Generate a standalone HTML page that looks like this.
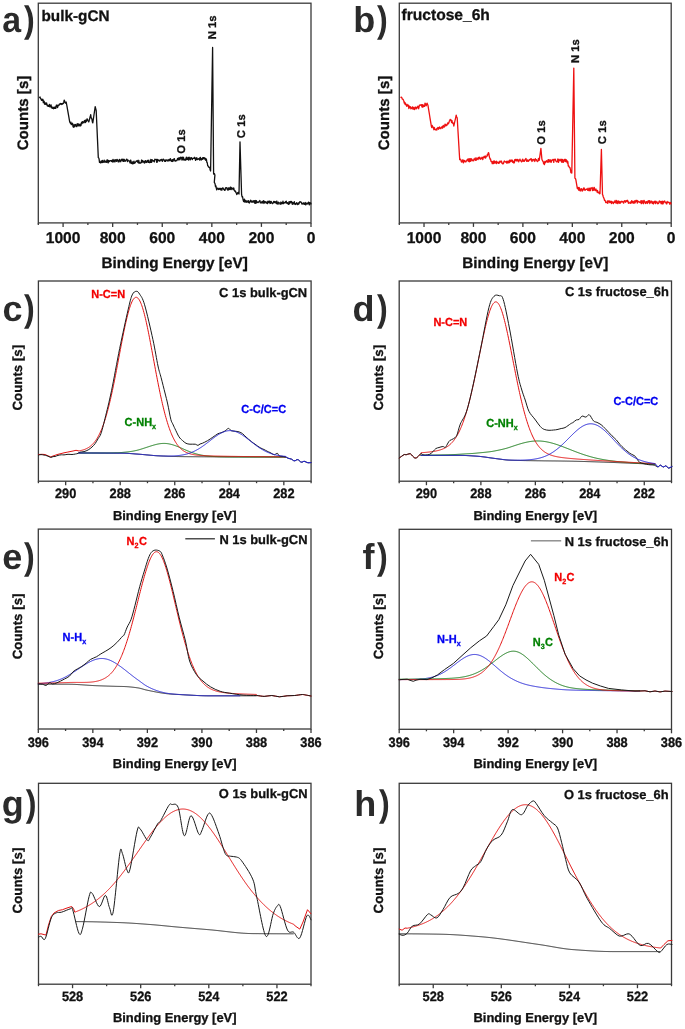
<!DOCTYPE html>
<html><head><meta charset="utf-8"><style>
html,body{margin:0;padding:0;background:#fff;width:685px;height:1029px;overflow:hidden}
svg{display:block;will-change:transform}
</style></head><body>
<svg width="685" height="1029" viewBox="0 0 685 1029" font-family='"Liberation Sans", sans-serif' font-weight="bold" text-rendering="geometricPrecision">
<rect width="685" height="1029" fill="#fff"/>
<rect x="38.3" y="3.2" width="272.7" height="219.70000000000002" fill="none" stroke="#3a3a3a" stroke-width="1.3"/>
<line x1="311.00" y1="222.9" x2="311.00" y2="226.9" stroke="#3a3a3a" stroke-width="1.3"/>
<line x1="286.21" y1="222.9" x2="286.21" y2="224.9" stroke="#3a3a3a" stroke-width="1.3"/>
<line x1="261.42" y1="222.9" x2="261.42" y2="226.9" stroke="#3a3a3a" stroke-width="1.3"/>
<line x1="236.63" y1="222.9" x2="236.63" y2="224.9" stroke="#3a3a3a" stroke-width="1.3"/>
<line x1="211.84" y1="222.9" x2="211.84" y2="226.9" stroke="#3a3a3a" stroke-width="1.3"/>
<line x1="187.05" y1="222.9" x2="187.05" y2="224.9" stroke="#3a3a3a" stroke-width="1.3"/>
<line x1="162.25" y1="222.9" x2="162.25" y2="226.9" stroke="#3a3a3a" stroke-width="1.3"/>
<line x1="137.46" y1="222.9" x2="137.46" y2="224.9" stroke="#3a3a3a" stroke-width="1.3"/>
<line x1="112.67" y1="222.9" x2="112.67" y2="226.9" stroke="#3a3a3a" stroke-width="1.3"/>
<line x1="87.88" y1="222.9" x2="87.88" y2="224.9" stroke="#3a3a3a" stroke-width="1.3"/>
<line x1="63.09" y1="222.9" x2="63.09" y2="226.9" stroke="#3a3a3a" stroke-width="1.3"/>
<line x1="38.30" y1="222.9" x2="38.30" y2="224.9" stroke="#3a3a3a" stroke-width="1.3"/>
<text x="311.00" y="242.8" font-size="15.6" fill="#111" stroke="#111" stroke-width="0.3" text-anchor="middle" >0</text>
<text x="261.42" y="242.8" font-size="15.6" fill="#111" stroke="#111" stroke-width="0.3" text-anchor="middle" >200</text>
<text x="211.84" y="242.8" font-size="15.6" fill="#111" stroke="#111" stroke-width="0.3" text-anchor="middle" >400</text>
<text x="162.25" y="242.8" font-size="15.6" fill="#111" stroke="#111" stroke-width="0.3" text-anchor="middle" >600</text>
<text x="112.67" y="242.8" font-size="15.6" fill="#111" stroke="#111" stroke-width="0.3" text-anchor="middle" >800</text>
<text x="63.09" y="242.8" font-size="15.6" fill="#111" stroke="#111" stroke-width="0.3" text-anchor="middle" >1000</text>
<text x="174.65" y="267.8" font-size="15.3" fill="#111" stroke="#111" stroke-width="0.3" text-anchor="middle" >Binding Energy [eV]</text>
<text transform="translate(27.8,113) rotate(-90)" font-size="15.1" fill="#111" stroke="#111" stroke-width="0.3" text-anchor="middle">Counts [s]</text>
<rect x="399.3" y="3.2" width="271.90000000000003" height="219.70000000000002" fill="none" stroke="#3a3a3a" stroke-width="1.3"/>
<line x1="671.20" y1="222.9" x2="671.20" y2="226.9" stroke="#3a3a3a" stroke-width="1.3"/>
<line x1="646.48" y1="222.9" x2="646.48" y2="224.9" stroke="#3a3a3a" stroke-width="1.3"/>
<line x1="621.76" y1="222.9" x2="621.76" y2="226.9" stroke="#3a3a3a" stroke-width="1.3"/>
<line x1="597.05" y1="222.9" x2="597.05" y2="224.9" stroke="#3a3a3a" stroke-width="1.3"/>
<line x1="572.33" y1="222.9" x2="572.33" y2="226.9" stroke="#3a3a3a" stroke-width="1.3"/>
<line x1="547.61" y1="222.9" x2="547.61" y2="224.9" stroke="#3a3a3a" stroke-width="1.3"/>
<line x1="522.89" y1="222.9" x2="522.89" y2="226.9" stroke="#3a3a3a" stroke-width="1.3"/>
<line x1="498.17" y1="222.9" x2="498.17" y2="224.9" stroke="#3a3a3a" stroke-width="1.3"/>
<line x1="473.45" y1="222.9" x2="473.45" y2="226.9" stroke="#3a3a3a" stroke-width="1.3"/>
<line x1="448.74" y1="222.9" x2="448.74" y2="224.9" stroke="#3a3a3a" stroke-width="1.3"/>
<line x1="424.02" y1="222.9" x2="424.02" y2="226.9" stroke="#3a3a3a" stroke-width="1.3"/>
<line x1="399.30" y1="222.9" x2="399.30" y2="224.9" stroke="#3a3a3a" stroke-width="1.3"/>
<text x="671.20" y="242.8" font-size="15.6" fill="#111" stroke="#111" stroke-width="0.3" text-anchor="middle" >0</text>
<text x="621.76" y="242.8" font-size="15.6" fill="#111" stroke="#111" stroke-width="0.3" text-anchor="middle" >200</text>
<text x="572.33" y="242.8" font-size="15.6" fill="#111" stroke="#111" stroke-width="0.3" text-anchor="middle" >400</text>
<text x="522.89" y="242.8" font-size="15.6" fill="#111" stroke="#111" stroke-width="0.3" text-anchor="middle" >600</text>
<text x="473.45" y="242.8" font-size="15.6" fill="#111" stroke="#111" stroke-width="0.3" text-anchor="middle" >800</text>
<text x="424.02" y="242.8" font-size="15.6" fill="#111" stroke="#111" stroke-width="0.3" text-anchor="middle" >1000</text>
<text x="535.25" y="267.8" font-size="15.3" fill="#111" stroke="#111" stroke-width="0.3" text-anchor="middle" >Binding Energy [eV]</text>
<text transform="translate(388.8,113) rotate(-90)" font-size="15.1" fill="#111" stroke="#111" stroke-width="0.3" text-anchor="middle">Counts [s]</text>
<text transform="translate(2.26,32.2) scale(0.94,1)" font-size="36" fill="#2b2b2b">a</text>
<text transform="translate(23.90,32.2) scale(0.87,1)" font-size="37" fill="#2b2b2b">)</text>
<text transform="translate(353.30,32.2) scale(1.0,1)" font-size="36" fill="#2b2b2b">b</text>
<text transform="translate(376.90,32.2) scale(0.87,1)" font-size="37" fill="#2b2b2b">)</text>
<text x="41.5" y="20.5" font-size="15.3" fill="#111" stroke="#111" stroke-width="0.3" text-anchor="start" >bulk-gCN</text>
<text x="401.5" y="20.2" font-size="15.6" fill="#111" stroke="#111" stroke-width="0.3" text-anchor="start" >fructose_6h</text>
<text transform="translate(216.3,27.3) rotate(-90)" font-size="11.3" fill="#111" stroke="#111" stroke-width="0.3" text-anchor="middle">N 1s</text>
<text transform="translate(185.3,141.5) rotate(-90)" font-size="11.3" fill="#111" stroke="#111" stroke-width="0.3" text-anchor="middle">O 1s</text>
<text transform="translate(245,126.2) rotate(-90)" font-size="11.3" fill="#111" stroke="#111" stroke-width="0.3" text-anchor="middle">C 1s</text>
<text transform="translate(545.3,132.4) rotate(-90)" font-size="11.3" fill="#111" stroke="#111" stroke-width="0.3" text-anchor="middle">O 1s</text>
<text transform="translate(578.9,51.1) rotate(-90)" font-size="11.3" fill="#111" stroke="#111" stroke-width="0.3" text-anchor="middle">N 1s</text>
<text transform="translate(606.1,132.2) rotate(-90)" font-size="11.3" fill="#111" stroke="#111" stroke-width="0.3" text-anchor="middle">C 1s</text>
<path d="M39.60,97.40 L40.02,97.01 L40.43,98.55 L40.85,98.46 L41.27,99.75 L41.68,100.33 L42.10,100.40 L42.51,99.26 L42.91,99.42 L43.32,102.57 L43.73,100.94 L44.13,101.20 L44.54,104.13 L44.95,102.68 L45.35,104.26 L45.76,103.38 L46.17,104.27 L46.57,102.95 L46.98,104.94 L47.39,106.07 L47.79,105.24 L48.20,105.50 L48.61,106.46 L49.01,106.36 L49.42,104.44 L49.83,106.94 L50.23,106.51 L50.64,105.66 L51.05,104.89 L51.45,107.86 L51.86,106.67 L52.27,107.64 L52.67,108.33 L53.08,107.91 L53.49,108.75 L53.89,107.10 L54.30,107.60 L54.71,108.41 L55.12,106.99 L55.53,108.45 L55.94,108.05 L56.35,105.18 L56.76,105.10 L57.17,105.17 L57.58,107.50 L57.99,105.49 L58.40,105.50 L58.81,105.63 L59.23,104.22 L59.64,104.62 L60.05,103.91 L60.47,103.49 L60.88,103.99 L61.29,103.69 L61.71,104.47 L62.12,103.42 L62.53,103.96 L62.95,103.41 L63.36,103.57 L63.77,102.18 L64.19,100.15 L64.60,101.00 L65.00,102.48 L65.40,103.08 L65.80,103.13 L66.20,102.00 L66.64,104.49 L67.08,106.97 L67.51,109.46 L67.95,111.95 L68.39,114.44 L68.83,116.93 L69.26,119.41 L69.70,121.90 L70.11,122.54 L70.52,123.45 L70.93,122.15 L71.34,124.67 L71.75,124.20 L72.16,123.63 L72.57,123.29 L72.98,126.38 L73.39,127.26 L73.80,126.00 L74.22,124.52 L74.65,126.86 L75.08,125.45 L75.50,124.48 L75.92,124.88 L76.35,126.41 L76.78,126.68 L77.20,123.78 L77.62,125.64 L78.05,123.62 L78.48,125.83 L78.90,125.00 L79.31,124.22 L79.71,125.88 L80.12,126.01 L80.53,124.19 L80.93,125.66 L81.34,123.11 L81.75,122.12 L82.15,123.69 L82.56,121.55 L82.97,121.90 L83.37,122.41 L83.78,122.90 L84.19,121.14 L84.59,120.55 L85.00,121.90 L85.40,122.53 L85.80,120.03 L86.20,121.60 L86.60,120.77 L87.00,118.80 L87.42,119.16 L87.85,120.22 L88.28,121.19 L88.70,121.90 L89.10,120.95 L89.50,119.35 L89.90,117.78 L90.30,116.55 L90.70,114.70 L91.12,117.84 L91.54,118.00 L91.96,119.39 L92.38,122.01 L92.80,122.90 L93.20,120.18 L93.60,117.47 L94.00,114.75 L94.40,112.03 L94.80,109.32 L95.20,106.60 L95.70,108.65 L96.20,110.70 L96.62,120.10 L97.04,129.50 L97.46,138.90 L97.88,148.30 L98.30,157.70 L98.70,157.83 L99.10,159.06 L99.50,162.38 L99.90,161.85 L100.30,162.80 L100.74,162.81 L101.19,160.82 L101.63,162.04 L102.07,162.44 L102.51,160.38 L102.96,162.25 L103.40,161.70 L103.80,162.12 L104.20,160.15 L104.61,162.05 L105.01,161.47 L105.41,162.17 L105.81,161.03 L106.21,162.20 L106.61,162.28 L107.02,159.82 L107.42,159.92 L107.82,161.98 L108.22,162.93 L108.62,160.48 L109.03,161.15 L109.43,161.59 L109.83,160.63 L110.23,160.75 L110.63,160.55 L111.03,160.71 L111.44,161.45 L111.84,160.42 L112.24,160.65 L112.64,161.97 L113.04,159.41 L113.44,161.22 L113.85,161.76 L114.25,160.28 L114.65,159.96 L115.05,161.90 L115.45,159.95 L115.86,159.75 L116.26,160.57 L116.66,161.43 L117.06,159.37 L117.46,160.09 L117.86,160.11 L118.27,161.78 L118.67,160.40 L119.07,161.79 L119.47,159.43 L119.87,159.97 L120.28,161.01 L120.68,161.78 L121.08,160.28 L121.48,159.48 L121.88,159.10 L122.28,160.46 L122.69,159.28 L123.09,161.34 L123.49,161.42 L123.89,159.17 L124.29,159.46 L124.69,161.23 L125.10,160.64 L125.50,161.17 L125.90,160.10 L126.31,159.71 L126.71,159.12 L127.12,159.81 L127.53,161.66 L127.93,160.02 L128.34,160.42 L128.75,160.80 L129.15,160.95 L129.56,161.05 L129.97,162.93 L130.37,160.47 L130.78,160.10 L131.19,163.43 L131.59,163.35 L132.00,162.20 L132.40,163.83 L132.80,161.93 L133.20,163.67 L133.60,163.57 L134.00,161.15 L134.40,162.90 L134.80,163.19 L135.20,162.58 L135.60,162.07 L136.00,161.27 L136.40,161.42 L136.80,161.01 L137.20,160.45 L137.60,162.20 L138.00,161.15 L138.40,162.91 L138.80,160.28 L139.20,163.18 L139.60,162.45 L140.00,163.21 L140.40,163.09 L140.80,163.08 L141.20,161.96 L141.60,160.02 L142.00,162.49 L142.40,160.52 L142.80,160.93 L143.20,162.15 L143.60,161.65 L144.00,161.25 L144.40,163.02 L144.80,161.89 L145.20,160.94 L145.60,160.62 L146.00,162.67 L146.40,161.34 L146.80,162.36 L147.20,160.87 L147.60,160.32 L148.00,161.45 L148.40,162.39 L148.80,160.17 L149.20,162.26 L149.60,162.68 L150.00,162.26 L150.40,162.30 L150.80,159.50 L151.20,161.59 L151.60,162.37 L152.00,159.58 L152.40,160.31 L152.80,160.28 L153.20,161.14 L153.60,160.76 L154.00,160.91 L154.40,161.92 L154.80,159.27 L155.20,159.43 L155.60,159.65 L156.00,159.62 L156.40,159.41 L156.80,162.47 L157.20,162.04 L157.60,159.40 L158.00,160.79 L158.40,160.14 L158.80,160.11 L159.20,160.22 L159.60,161.20 L160.00,160.97 L160.40,160.18 L160.80,159.58 L161.20,160.03 L161.60,159.31 L162.00,160.76 L162.40,161.28 L162.80,160.12 L163.20,159.08 L163.60,159.39 L164.00,160.03 L164.40,160.79 L164.80,161.38 L165.20,159.99 L165.60,161.40 L166.00,160.77 L166.40,160.10 L166.80,159.87 L167.20,160.27 L167.60,160.96 L168.00,159.97 L168.40,160.88 L168.80,160.07 L169.20,159.31 L169.60,160.28 L170.00,160.80 L170.40,158.66 L170.80,159.84 L171.20,159.82 L171.60,161.34 L172.00,161.51 L172.40,159.58 L172.80,161.34 L173.20,160.95 L173.60,159.13 L174.00,159.80 L174.40,158.61 L174.80,160.94 L175.20,160.40 L175.60,161.15 L176.00,160.80 L176.40,160.36 L176.80,160.56 L177.20,159.96 L177.60,158.37 L178.00,159.70 L178.46,159.80 L178.92,157.62 L179.38,157.89 L179.84,159.83 L180.30,158.70 L180.70,157.15 L181.10,157.31 L181.50,157.34 L181.91,159.99 L182.31,157.61 L182.71,157.08 L183.11,159.86 L183.51,157.41 L183.91,159.87 L184.32,159.29 L184.72,159.84 L185.12,160.24 L185.52,158.97 L185.92,159.72 L186.32,157.12 L186.73,159.61 L187.13,158.74 L187.53,159.43 L187.93,157.36 L188.33,159.55 L188.73,160.18 L189.13,157.21 L189.54,158.10 L189.94,158.92 L190.34,159.82 L190.74,157.82 L191.14,157.61 L191.54,157.85 L191.95,159.09 L192.35,159.56 L192.75,158.34 L193.15,158.25 L193.55,158.35 L193.95,158.19 L194.35,158.42 L194.76,157.28 L195.16,158.70 L195.56,160.31 L195.96,158.40 L196.36,159.54 L196.76,157.55 L197.17,159.35 L197.57,159.57 L197.97,159.29 L198.37,158.76 L198.77,158.64 L199.17,159.19 L199.57,160.05 L199.98,157.51 L200.38,157.33 L200.78,159.54 L201.18,160.12 L201.58,158.76 L201.98,158.51 L202.39,159.44 L202.79,157.63 L203.19,157.91 L203.59,157.68 L203.99,158.99 L204.39,158.07 L204.80,157.79 L205.20,159.35 L205.60,160.24 L206.00,158.70 L206.42,159.45 L206.84,162.28 L207.26,162.72 L207.68,165.66 L208.10,165.90 L208.52,167.04 L208.93,166.81 L209.35,167.49 L209.77,167.68 L210.18,170.08 L210.60,171.00 L211.00,146.30 L211.40,121.60 L211.80,96.90 L212.20,72.20 L212.60,47.50 L213.10,110.80 L213.60,174.10 L214.03,174.03 L214.47,173.65 L214.90,175.10 L214.30,182.30 L214.70,182.99 L215.10,184.01 L215.50,186.71 L215.90,185.73 L216.30,188.10 L216.72,189.82 L217.15,188.12 L217.57,188.58 L217.99,188.18 L218.42,189.47 L218.84,189.48 L219.26,188.62 L219.69,188.41 L220.11,189.27 L220.54,189.78 L220.96,188.28 L221.38,189.46 L221.81,190.28 L222.23,188.65 L222.65,187.89 L223.08,187.95 L223.50,188.90 L223.90,189.62 L224.31,189.46 L224.71,190.41 L225.12,190.03 L225.52,187.94 L225.93,187.74 L226.33,187.96 L226.73,187.70 L227.14,189.44 L227.54,189.95 L227.95,190.07 L228.35,187.86 L228.76,189.92 L229.16,188.02 L229.57,188.38 L229.97,189.40 L230.37,187.20 L230.78,187.20 L231.18,189.70 L231.59,187.84 L231.99,188.05 L232.40,188.79 L232.80,188.50 L233.24,189.68 L233.69,187.99 L234.13,189.70 L234.57,190.63 L235.01,191.38 L235.46,191.03 L235.90,192.60 L236.34,193.10 L236.79,194.58 L237.23,192.87 L237.67,193.61 L238.11,192.38 L238.56,193.12 L239.00,194.10 L239.50,167.95 L240.00,141.80 L240.53,159.43 L241.07,177.07 L241.60,194.70 L242.10,196.96 L242.60,196.78 L243.10,199.80 L243.54,201.33 L243.99,201.62 L244.43,199.07 L244.87,202.16 L245.31,200.44 L245.76,202.01 L246.20,201.30 L246.60,202.20 L247.01,200.65 L247.41,201.96 L247.81,201.91 L248.22,202.45 L248.62,200.63 L249.02,202.31 L249.43,203.04 L249.83,202.08 L250.24,201.64 L250.64,200.22 L251.04,201.54 L251.45,201.08 L251.85,202.34 L252.25,202.23 L252.66,201.87 L253.06,200.58 L253.46,202.18 L253.87,202.15 L254.27,200.64 L254.68,203.08 L255.08,202.30 L255.48,200.51 L255.89,203.28 L256.29,200.62 L256.69,201.28 L257.10,202.63 L257.50,202.23 L257.90,202.11 L258.31,202.44 L258.71,201.82 L259.11,201.35 L259.52,200.91 L259.92,200.56 L260.32,202.78 L260.73,202.94 L261.13,202.24 L261.54,202.93 L261.94,201.66 L262.34,201.36 L262.75,201.78 L263.15,203.47 L263.55,200.66 L263.96,202.26 L264.36,201.40 L264.76,203.20 L265.17,201.81 L265.57,201.76 L265.98,202.02 L266.38,202.51 L266.78,203.32 L267.19,201.91 L267.59,203.62 L267.99,201.14 L268.40,201.70 L268.80,202.50 L269.20,201.15 L269.61,201.20 L270.01,203.47 L270.42,203.30 L270.82,201.46 L271.23,201.48 L271.63,202.26 L272.04,203.38 L272.44,203.63 L272.85,203.41 L273.25,202.88 L273.66,201.38 L274.06,202.24 L274.47,201.55 L274.87,202.69 L275.28,202.84 L275.68,201.60 L276.09,201.77 L276.49,203.58 L276.90,201.03 L277.30,203.67 L277.71,203.97 L278.11,204.18 L278.52,202.26 L278.92,202.84 L279.33,202.95 L279.73,203.13 L280.14,204.31 L280.54,203.32 L280.95,202.01 L281.35,203.93 L281.76,202.66 L282.16,203.06 L282.57,203.49 L282.97,201.04 L283.38,203.66 L283.78,203.29 L284.19,202.72 L284.59,202.84 L285.00,202.63 L285.40,201.73 L285.81,202.88 L286.21,201.21 L286.62,202.79 L287.02,203.29 L287.43,202.61 L287.83,203.03 L288.24,204.38 L288.64,204.15 L289.05,201.59 L289.45,203.83 L289.86,203.26 L290.26,201.32 L290.67,202.38 L291.07,201.95 L291.48,201.43 L291.88,203.01 L292.29,204.34 L292.69,202.29 L293.10,204.15 L293.50,202.90 L293.91,203.59 L294.31,201.70 L294.72,204.19 L295.13,203.34 L295.53,204.47 L295.94,203.77 L296.35,203.88 L296.76,202.55 L297.16,204.15 L297.57,204.60 L297.98,204.38 L298.38,202.96 L298.79,204.08 L299.20,203.17 L299.60,201.92 L300.01,201.72 L300.42,201.86 L300.83,202.30 L301.23,202.19 L301.64,203.36 L302.05,204.07 L302.45,203.54 L302.86,203.17 L303.27,203.97 L303.67,202.82 L304.08,203.38 L304.49,204.40 L304.90,203.22 L305.30,202.49 L305.71,204.96 L306.12,204.37 L306.52,203.19 L306.93,203.23 L307.34,203.79 L307.74,204.04 L308.15,202.80 L308.56,202.07 L308.97,202.79 L309.37,204.77 L309.78,202.62 L310.19,203.72 L310.59,202.84 L311.00,203.90" fill="none" stroke="#111" stroke-width="1.3" stroke-linejoin="round" stroke-linecap="round" />
<path d="M401.00,97.40 L401.41,97.12 L401.82,97.70 L402.23,99.20 L402.64,99.11 L403.05,99.34 L403.46,100.33 L403.87,101.24 L404.28,103.05 L404.69,102.29 L405.10,104.50 L405.51,103.15 L405.93,104.87 L406.34,105.01 L406.75,106.29 L407.17,104.34 L407.58,105.81 L407.99,106.06 L408.41,105.08 L408.82,108.54 L409.23,106.28 L409.65,106.13 L410.06,107.69 L410.47,106.91 L410.89,108.74 L411.30,108.60 L411.71,108.01 L412.11,107.19 L412.52,106.88 L412.93,109.11 L413.33,107.50 L413.74,109.18 L414.15,108.02 L414.55,109.54 L414.96,107.32 L415.37,107.08 L415.77,107.07 L416.18,108.87 L416.59,108.17 L416.99,107.14 L417.40,107.60 L417.80,106.07 L418.20,107.92 L418.60,108.74 L419.00,107.30 L419.40,105.15 L419.80,105.09 L420.20,105.14 L420.60,105.26 L421.00,104.65 L421.40,104.56 L421.80,106.45 L422.20,107.13 L422.60,104.60 L423.00,107.08 L423.40,105.24 L423.80,106.20 L424.20,106.43 L424.60,106.36 L425.00,103.13 L425.40,103.89 L425.80,104.77 L426.20,105.77 L426.60,104.10 L427.07,103.17 L427.53,104.33 L428.00,105.50 L428.41,108.06 L428.82,110.62 L429.24,113.19 L429.65,115.75 L430.06,118.31 L430.48,120.88 L430.89,123.44 L431.30,126.00 L431.74,127.56 L432.18,125.44 L432.61,126.75 L433.05,126.94 L433.49,128.49 L433.93,129.71 L434.36,127.52 L434.80,129.00 L435.20,129.74 L435.61,129.64 L436.01,129.90 L436.42,128.86 L436.82,130.04 L437.23,128.05 L437.63,128.15 L438.04,127.44 L438.44,129.23 L438.85,128.13 L439.25,127.34 L439.66,126.92 L440.06,128.71 L440.47,128.24 L440.88,128.52 L441.28,127.34 L441.69,127.60 L442.09,126.38 L442.50,128.20 L442.90,127.40 L443.32,125.40 L443.75,126.54 L444.17,127.15 L444.60,126.50 L445.02,124.16 L445.45,124.26 L445.88,125.94 L446.30,124.88 L446.73,125.31 L447.15,124.92 L447.57,123.10 L448.00,122.90 L448.44,123.82 L448.89,122.83 L449.33,121.05 L449.77,120.74 L450.21,119.30 L450.66,119.99 L451.10,119.90 L451.55,122.47 L452.00,120.59 L452.45,123.18 L452.90,122.64 L453.35,123.56 L453.80,126.00 L454.28,123.84 L454.76,121.68 L455.24,119.52 L455.72,117.36 L456.20,115.20 L456.70,117.01 L457.20,117.80 L457.62,124.78 L458.03,131.77 L458.45,138.75 L458.87,145.73 L459.28,152.72 L459.70,159.70 L460.10,159.32 L460.50,159.17 L460.90,160.02 L461.30,161.70 L461.73,162.11 L462.15,161.82 L462.57,159.79 L463.00,160.45 L463.43,162.87 L463.85,160.25 L464.27,161.33 L464.70,160.76 L465.12,161.91 L465.55,161.22 L465.97,161.76 L466.40,160.70 L466.80,160.75 L467.20,159.51 L467.60,159.41 L468.00,159.01 L468.40,161.48 L468.80,158.99 L469.20,158.63 L469.60,161.76 L470.00,159.09 L470.40,161.38 L470.80,158.57 L471.20,159.80 L471.60,158.91 L472.00,160.91 L472.40,160.11 L472.80,160.14 L473.20,160.48 L473.60,160.79 L474.00,158.94 L474.40,159.75 L474.80,159.15 L475.20,157.94 L475.60,160.34 L476.00,159.46 L476.40,160.14 L476.80,158.00 L477.20,159.07 L477.60,158.75 L478.00,159.58 L478.40,157.31 L478.80,158.16 L479.20,158.56 L479.60,157.09 L480.00,158.66 L480.40,159.22 L480.80,158.09 L481.20,158.79 L481.60,158.58 L482.00,157.18 L482.40,157.58 L482.80,159.71 L483.20,157.40 L483.60,157.66 L484.00,156.42 L484.40,156.81 L484.80,157.70 L485.21,156.00 L485.62,158.03 L486.03,156.77 L486.44,156.71 L486.86,156.52 L487.27,154.68 L487.68,155.20 L488.09,153.29 L488.50,152.60 L488.91,153.62 L489.33,156.72 L489.74,157.87 L490.16,159.33 L490.57,159.05 L490.99,161.33 L491.40,161.70 L491.81,161.46 L492.21,163.55 L492.62,163.36 L493.03,161.31 L493.44,163.57 L493.84,161.10 L494.25,160.88 L494.66,163.08 L495.06,161.71 L495.47,162.55 L495.88,163.04 L496.29,161.08 L496.69,163.56 L497.10,162.80 L497.50,162.00 L497.90,162.49 L498.30,162.16 L498.70,163.47 L499.11,163.45 L499.51,161.85 L499.91,161.19 L500.31,161.82 L500.71,162.16 L501.11,160.99 L501.51,161.21 L501.91,163.24 L502.32,162.99 L502.72,163.89 L503.12,163.86 L503.52,163.47 L503.92,161.72 L504.32,160.97 L504.72,161.44 L505.12,161.92 L505.53,162.09 L505.93,162.11 L506.33,161.45 L506.73,163.09 L507.13,161.12 L507.53,161.69 L507.93,163.09 L508.33,162.79 L508.74,161.01 L509.14,160.79 L509.54,162.67 L509.94,159.92 L510.34,160.30 L510.74,161.62 L511.14,161.60 L511.54,160.30 L511.95,159.87 L512.35,160.36 L512.75,162.24 L513.15,161.17 L513.55,162.88 L513.95,162.18 L514.35,162.80 L514.75,159.56 L515.15,160.03 L515.56,159.41 L515.96,160.79 L516.36,160.44 L516.76,159.42 L517.16,161.07 L517.56,159.49 L517.96,160.19 L518.36,159.94 L518.77,161.79 L519.17,160.44 L519.57,159.87 L519.97,159.09 L520.37,160.37 L520.77,161.00 L521.17,161.13 L521.57,161.90 L521.98,161.51 L522.38,159.56 L522.78,159.14 L523.18,161.22 L523.58,161.29 L523.98,160.30 L524.38,161.35 L524.78,160.37 L525.19,159.40 L525.59,158.99 L525.99,158.44 L526.39,160.53 L526.79,161.35 L527.19,161.35 L527.59,159.82 L527.99,160.45 L528.40,161.31 L528.80,160.88 L529.20,160.12 L529.60,159.45 L530.00,159.70 L530.40,159.78 L530.81,158.62 L531.21,158.67 L531.62,160.39 L532.02,161.46 L532.43,159.96 L532.83,159.51 L533.23,159.34 L533.64,159.70 L534.04,160.90 L534.45,159.73 L534.85,161.47 L535.26,158.75 L535.66,159.31 L536.07,160.04 L536.47,159.68 L536.87,161.19 L537.28,161.13 L537.68,161.50 L538.09,160.43 L538.49,158.47 L538.90,160.34 L539.30,160.10 L539.70,157.18 L540.10,154.25 L540.50,151.32 L540.90,148.40 L541.40,153.85 L541.90,159.30 L542.32,160.37 L542.74,161.06 L543.16,161.25 L543.58,163.61 L544.00,163.80 L544.42,164.68 L544.83,161.42 L545.25,162.82 L545.67,161.30 L546.08,161.27 L546.50,160.70 L546.90,162.05 L547.30,162.27 L547.71,161.19 L548.11,159.66 L548.51,162.13 L548.91,159.62 L549.31,160.30 L549.72,161.82 L550.12,160.08 L550.52,159.92 L550.92,162.23 L551.32,162.21 L551.73,160.08 L552.13,160.33 L552.53,159.96 L552.93,159.45 L553.33,159.85 L553.74,162.33 L554.14,159.27 L554.54,159.78 L554.94,159.68 L555.34,159.27 L555.75,160.79 L556.15,161.53 L556.55,161.85 L556.95,161.15 L557.35,161.78 L557.75,159.02 L558.16,159.96 L558.56,162.27 L558.96,159.24 L559.36,159.91 L559.76,160.64 L560.17,159.91 L560.57,160.86 L560.97,159.16 L561.37,159.80 L561.77,162.26 L562.18,159.49 L562.58,162.08 L562.98,159.60 L563.38,162.38 L563.78,161.29 L564.19,161.20 L564.59,159.48 L564.99,159.19 L565.39,161.58 L565.79,159.60 L566.20,159.64 L566.60,161.80 L567.00,160.70 L567.42,163.21 L567.84,161.65 L568.26,165.99 L568.68,165.78 L569.10,166.90 L569.55,167.53 L570.00,167.63 L570.45,169.63 L570.90,172.69 L571.35,171.32 L571.80,173.10 L572.20,152.10 L572.60,131.10 L573.00,110.10 L573.40,89.10 L573.80,68.10 L574.35,123.15 L574.90,178.20 L575.37,178.31 L575.83,179.73 L576.30,182.30 L576.80,185.40 L577.30,188.50 L577.72,187.33 L578.14,188.20 L578.56,190.21 L578.98,187.46 L579.40,187.95 L579.82,190.59 L580.24,190.89 L580.66,190.93 L581.08,188.54 L581.50,189.50 L581.91,188.99 L582.32,191.00 L582.73,189.40 L583.15,190.12 L583.56,188.78 L583.97,187.77 L584.38,188.85 L584.79,190.21 L585.20,190.30 L585.61,189.56 L586.03,189.19 L586.44,189.42 L586.85,189.08 L587.26,189.38 L587.67,190.37 L588.08,188.21 L588.49,189.53 L588.91,190.66 L589.32,190.36 L589.73,188.07 L590.14,190.72 L590.55,190.28 L590.96,187.98 L591.37,188.29 L591.79,188.06 L592.20,187.53 L592.61,190.66 L593.02,188.71 L593.43,190.27 L593.84,187.68 L594.25,187.32 L594.67,190.21 L595.08,189.93 L595.49,190.59 L595.90,188.90 L596.30,190.27 L596.70,190.47 L597.10,192.02 L597.50,190.47 L597.90,192.60 L598.32,192.94 L598.74,192.80 L599.16,192.00 L599.58,193.74 L600.00,193.60 L600.47,178.87 L600.93,164.13 L601.40,149.40 L601.95,172.05 L602.50,194.70 L602.90,195.24 L603.30,197.00 L603.70,197.69 L604.10,198.64 L604.50,200.40 L604.91,200.09 L605.32,201.08 L605.73,202.53 L606.14,202.55 L606.56,202.46 L606.97,202.54 L607.38,200.84 L607.79,203.35 L608.20,201.90 L608.60,201.12 L609.01,200.62 L609.41,201.90 L609.82,202.69 L610.22,201.36 L610.63,202.39 L611.03,201.16 L611.44,203.49 L611.84,201.74 L612.25,201.82 L612.65,202.01 L613.06,203.17 L613.46,203.55 L613.87,202.00 L614.27,201.70 L614.68,202.30 L615.08,200.44 L615.49,201.65 L615.89,203.08 L616.30,202.84 L616.70,200.40 L617.11,203.11 L617.51,201.51 L617.92,203.54 L618.32,201.45 L618.73,200.93 L619.13,202.07 L619.54,203.21 L619.94,201.67 L620.35,203.15 L620.75,202.62 L621.16,201.43 L621.56,201.22 L621.97,201.92 L622.37,201.56 L622.78,201.47 L623.18,202.42 L623.59,203.18 L623.99,202.19 L624.40,200.70 L624.80,200.95 L625.21,201.46 L625.61,202.29 L626.02,200.67 L626.42,200.48 L626.83,201.29 L627.23,201.16 L627.64,200.30 L628.04,202.03 L628.45,203.33 L628.85,202.02 L629.26,202.71 L629.66,203.02 L630.07,203.05 L630.47,203.30 L630.88,201.70 L631.28,202.52 L631.69,200.61 L632.09,203.19 L632.50,201.49 L632.90,201.90 L633.30,201.82 L633.70,203.24 L634.11,201.20 L634.51,200.87 L634.91,203.04 L635.31,202.28 L635.72,200.54 L636.12,200.35 L636.52,201.46 L636.92,200.30 L637.33,203.11 L637.73,200.91 L638.13,201.23 L638.53,201.62 L638.94,202.05 L639.34,201.79 L639.74,202.46 L640.14,202.58 L640.55,201.82 L640.95,200.68 L641.35,203.68 L641.75,202.71 L642.16,200.65 L642.56,201.88 L642.96,202.95 L643.36,203.76 L643.77,200.62 L644.17,200.44 L644.57,202.04 L644.97,201.85 L645.38,203.47 L645.78,203.24 L646.18,201.57 L646.58,201.87 L646.99,202.44 L647.39,203.47 L647.79,201.16 L648.19,201.81 L648.60,200.79 L649.00,202.67 L649.40,200.59 L649.80,203.69 L650.20,202.30 L650.61,202.47 L651.01,200.82 L651.41,201.33 L651.81,202.14 L652.22,203.47 L652.62,202.39 L653.02,201.53 L653.42,203.91 L653.83,202.83 L654.23,202.38 L654.63,201.28 L655.03,201.62 L655.44,203.67 L655.84,201.07 L656.24,202.43 L656.64,202.74 L657.05,201.85 L657.45,203.26 L657.85,203.75 L658.25,203.58 L658.66,203.18 L659.06,201.37 L659.46,200.89 L659.86,202.16 L660.27,201.76 L660.67,201.36 L661.07,203.67 L661.47,201.45 L661.88,203.52 L662.28,203.92 L662.68,201.15 L663.08,203.85 L663.49,202.11 L663.89,201.48 L664.29,201.40 L664.69,200.91 L665.10,202.48 L665.50,202.10 L665.90,202.50 L666.32,203.81 L666.75,203.87 L667.17,201.34 L667.60,202.63 L668.02,202.71 L668.45,202.10 L668.88,202.47 L669.30,202.63 L669.73,204.21 L670.15,203.12 L670.58,202.46 L671.00,203.90" fill="none" stroke="#ee1111" stroke-width="1.3" stroke-linejoin="round" stroke-linecap="round" />
<rect x="38.4" y="281" width="272.70000000000005" height="200.2" fill="none" stroke="#3a3a3a" stroke-width="1.3"/>
<line x1="311.10" y1="481.2" x2="311.10" y2="483.2" stroke="#3a3a3a" stroke-width="1.3"/>
<line x1="283.83" y1="481.2" x2="283.83" y2="485.2" stroke="#3a3a3a" stroke-width="1.3"/>
<line x1="256.56" y1="481.2" x2="256.56" y2="483.2" stroke="#3a3a3a" stroke-width="1.3"/>
<line x1="229.29" y1="481.2" x2="229.29" y2="485.2" stroke="#3a3a3a" stroke-width="1.3"/>
<line x1="202.02" y1="481.2" x2="202.02" y2="483.2" stroke="#3a3a3a" stroke-width="1.3"/>
<line x1="174.75" y1="481.2" x2="174.75" y2="485.2" stroke="#3a3a3a" stroke-width="1.3"/>
<line x1="147.48" y1="481.2" x2="147.48" y2="483.2" stroke="#3a3a3a" stroke-width="1.3"/>
<line x1="120.21" y1="481.2" x2="120.21" y2="485.2" stroke="#3a3a3a" stroke-width="1.3"/>
<line x1="92.94" y1="481.2" x2="92.94" y2="483.2" stroke="#3a3a3a" stroke-width="1.3"/>
<line x1="65.67" y1="481.2" x2="65.67" y2="485.2" stroke="#3a3a3a" stroke-width="1.3"/>
<line x1="38.40" y1="481.2" x2="38.40" y2="483.2" stroke="#3a3a3a" stroke-width="1.3"/>
<text transform="translate(283.83,498.3) scale(0.94,1)" font-size="13.6" fill="#111" stroke="#111" stroke-width="0.3" text-anchor="middle" >282</text>
<text transform="translate(229.29,498.3) scale(0.94,1)" font-size="13.6" fill="#111" stroke="#111" stroke-width="0.3" text-anchor="middle" >284</text>
<text transform="translate(174.75,498.3) scale(0.94,1)" font-size="13.6" fill="#111" stroke="#111" stroke-width="0.3" text-anchor="middle" >286</text>
<text transform="translate(120.21,498.3) scale(0.94,1)" font-size="13.6" fill="#111" stroke="#111" stroke-width="0.3" text-anchor="middle" >288</text>
<text transform="translate(65.67,498.3) scale(0.94,1)" font-size="13.6" fill="#111" stroke="#111" stroke-width="0.3" text-anchor="middle" >290</text>
<text x="174.75" y="519.5" font-size="12.95" fill="#111" stroke="#111" stroke-width="0.3" text-anchor="middle" >Binding Energy [eV]</text>
<text transform="translate(21.6,377.7) rotate(-90)" font-size="13.3" fill="#111" stroke="#111" stroke-width="0.3" text-anchor="middle">Counts [s]</text>
<rect x="399.2" y="281" width="272.3" height="200.2" fill="none" stroke="#3a3a3a" stroke-width="1.3"/>
<line x1="671.50" y1="481.2" x2="671.50" y2="483.2" stroke="#3a3a3a" stroke-width="1.3"/>
<line x1="644.27" y1="481.2" x2="644.27" y2="485.2" stroke="#3a3a3a" stroke-width="1.3"/>
<line x1="617.04" y1="481.2" x2="617.04" y2="483.2" stroke="#3a3a3a" stroke-width="1.3"/>
<line x1="589.81" y1="481.2" x2="589.81" y2="485.2" stroke="#3a3a3a" stroke-width="1.3"/>
<line x1="562.58" y1="481.2" x2="562.58" y2="483.2" stroke="#3a3a3a" stroke-width="1.3"/>
<line x1="535.35" y1="481.2" x2="535.35" y2="485.2" stroke="#3a3a3a" stroke-width="1.3"/>
<line x1="508.12" y1="481.2" x2="508.12" y2="483.2" stroke="#3a3a3a" stroke-width="1.3"/>
<line x1="480.89" y1="481.2" x2="480.89" y2="485.2" stroke="#3a3a3a" stroke-width="1.3"/>
<line x1="453.66" y1="481.2" x2="453.66" y2="483.2" stroke="#3a3a3a" stroke-width="1.3"/>
<line x1="426.43" y1="481.2" x2="426.43" y2="485.2" stroke="#3a3a3a" stroke-width="1.3"/>
<line x1="399.20" y1="481.2" x2="399.20" y2="483.2" stroke="#3a3a3a" stroke-width="1.3"/>
<text transform="translate(644.27,498.3) scale(0.94,1)" font-size="13.6" fill="#111" stroke="#111" stroke-width="0.3" text-anchor="middle" >282</text>
<text transform="translate(589.81,498.3) scale(0.94,1)" font-size="13.6" fill="#111" stroke="#111" stroke-width="0.3" text-anchor="middle" >284</text>
<text transform="translate(535.35,498.3) scale(0.94,1)" font-size="13.6" fill="#111" stroke="#111" stroke-width="0.3" text-anchor="middle" >286</text>
<text transform="translate(480.89,498.3) scale(0.94,1)" font-size="13.6" fill="#111" stroke="#111" stroke-width="0.3" text-anchor="middle" >288</text>
<text transform="translate(426.43,498.3) scale(0.94,1)" font-size="13.6" fill="#111" stroke="#111" stroke-width="0.3" text-anchor="middle" >290</text>
<text x="535.35" y="519.5" font-size="12.95" fill="#111" stroke="#111" stroke-width="0.3" text-anchor="middle" >Binding Energy [eV]</text>
<text transform="translate(382.6,377.7) rotate(-90)" font-size="13.3" fill="#111" stroke="#111" stroke-width="0.3" text-anchor="middle">Counts [s]</text>
<text transform="translate(2.50,321) scale(1.0,1)" font-size="36" fill="#2b2b2b">c</text>
<text transform="translate(23.90,321) scale(0.87,1)" font-size="37" fill="#2b2b2b">)</text>
<text transform="translate(352.40,321) scale(1.0,1)" font-size="36" fill="#2b2b2b">d</text>
<text transform="translate(376.90,321) scale(0.87,1)" font-size="37" fill="#2b2b2b">)</text>
<text transform="translate(91.2,298.4) scale(0.94,1)" font-size="11.7" fill="#f20000" stroke="#f20000" stroke-width="0.3" text-anchor="start" >N-C=N</text>
<text transform="translate(124.6,426.1) scale(0.94,1)" font-size="11.7" fill="#008000" stroke="#008000" stroke-width="0.3" text-anchor="start" >C-NH<tspan font-size="7.6" dy="3.1">x</tspan></text>
<text transform="translate(241.2,412.8) scale(0.94,1)" font-size="11.7" fill="#0000f0" stroke="#0000f0" stroke-width="0.3" text-anchor="start" >C-C/C=C</text>
<text x="307.2" y="296.9" font-size="12.9" fill="#111" stroke="#111" stroke-width="0.3" text-anchor="end" >C 1s bulk-gCN</text>
<text transform="translate(433.4,326) scale(0.94,1)" font-size="11.7" fill="#f20000" stroke="#f20000" stroke-width="0.3" text-anchor="start" >N-C=N</text>
<text transform="translate(486.2,426.5) scale(0.94,1)" font-size="11.7" fill="#008000" stroke="#008000" stroke-width="0.3" text-anchor="start" >C-NH<tspan font-size="7.6" dy="3.1">x</tspan></text>
<text transform="translate(613.4,405.1) scale(0.94,1)" font-size="11.7" fill="#0000f0" stroke="#0000f0" stroke-width="0.3" text-anchor="start" >C-C/C=C</text>
<text x="668.8" y="295.7" font-size="12.9" fill="#111" stroke="#111" stroke-width="0.3" text-anchor="end" >C 1s fructose_6h</text>
<path d="M78.90,453.00 L79.40,453.00 L79.90,453.00 L80.40,453.00 L80.90,453.00 L81.40,453.00 L81.90,453.00 L82.40,453.00 L82.90,453.00 L83.40,453.00 L83.90,453.00 L84.40,453.00 L84.90,453.00 L85.40,453.00 L85.90,453.00 L86.40,453.01 L86.90,453.01 L87.40,453.01 L87.90,453.01 L88.40,453.01 L88.90,453.01 L89.40,453.01 L89.90,453.01 L90.40,453.01 L90.90,453.01 L91.40,453.01 L91.90,453.02 L92.40,453.02 L92.90,453.02 L93.40,453.02 L93.90,453.02 L94.40,453.02 L94.90,453.02 L95.40,453.03 L95.90,453.03 L96.40,453.03 L96.90,453.03 L97.40,453.03 L97.90,453.04 L98.40,453.04 L98.90,453.04 L99.40,453.04 L99.90,453.04 L100.40,453.05 L100.90,453.05 L101.40,453.05 L101.90,453.05 L102.40,453.05 L102.90,453.06 L103.40,453.06 L103.90,453.06 L104.40,453.06 L104.90,453.07 L105.40,453.07 L105.90,453.07 L106.40,453.08 L106.90,453.08 L107.40,453.08 L107.90,453.08 L108.40,453.09 L108.90,453.09 L109.40,453.09 L109.90,453.10 L110.40,453.10 L110.90,453.10 L111.40,453.11 L111.90,453.11 L112.40,453.11 L112.90,453.12 L113.40,453.12 L113.90,453.12 L114.40,453.13 L114.90,453.13 L115.40,453.14 L115.90,453.14 L116.40,453.14 L116.90,453.15 L117.40,453.15 L117.90,453.16 L118.40,453.16 L118.90,453.17 L119.40,453.17 L119.90,453.17 L120.40,453.18 L120.90,453.18 L121.40,453.19 L121.90,453.19 L122.40,453.20 L122.90,453.20 L123.40,453.21 L123.90,453.22 L124.40,453.23 L124.90,453.25 L125.40,453.27 L125.90,453.29 L126.40,453.31 L126.90,453.33 L127.40,453.36 L127.90,453.39 L128.40,453.42 L128.90,453.45 L129.40,453.48 L129.90,453.51 L130.40,453.55 L130.90,453.58 L131.40,453.62 L131.90,453.66 L132.40,453.70 L132.90,453.74 L133.40,453.78 L133.90,453.82 L134.40,453.86 L134.90,453.90 L135.40,453.94 L135.90,453.98 L136.40,454.02 L136.90,454.06 L137.40,454.10 L137.90,454.14 L138.40,454.18 L138.90,454.22 L139.40,454.26 L139.90,454.29 L140.40,454.33 L140.90,454.37 L141.40,454.41 L141.90,454.45 L142.40,454.49 L142.90,454.53 L143.40,454.58 L143.90,454.62 L144.40,454.67 L144.90,454.72 L145.40,454.76 L145.90,454.81 L146.40,454.86 L146.90,454.91 L147.40,454.95 L147.90,455.00 L148.40,455.05 L148.90,455.10 L149.40,455.15 L149.90,455.19 L150.40,455.24 L150.90,455.29 L151.40,455.33 L151.90,455.38 L152.40,455.42 L152.90,455.47 L153.40,455.51 L153.90,455.55 L154.40,455.59 L154.90,455.62 L155.40,455.66 L155.90,455.70 L156.40,455.73 L156.90,455.76 L157.40,455.79 L157.90,455.82 L158.40,455.84 L158.90,455.87 L159.40,455.90 L159.90,455.92 L160.40,455.95 L160.90,455.97 L161.40,456.00 L161.90,456.02 L162.40,456.05 L162.90,456.07 L163.40,456.10 L163.90,456.12 L164.40,456.14 L164.90,456.17 L165.40,456.19 L165.90,456.21 L166.40,456.23 L166.90,456.25 L167.40,456.27 L167.90,456.29 L168.40,456.31 L168.90,456.33 L169.40,456.34 L169.90,456.36 L170.40,456.38 L170.90,456.39 L171.40,456.41 L171.90,456.42 L172.40,456.44 L172.90,456.45 L173.40,456.46 L173.90,456.48 L174.40,456.49 L174.90,456.50 L175.40,456.51 L175.90,456.52 L176.40,456.53 L176.90,456.54 L177.40,456.55 L177.90,456.55 L178.40,456.56 L178.90,456.57 L179.40,456.58 L179.90,456.59 L180.40,456.60 L180.90,456.60 L181.40,456.61 L181.90,456.62 L182.40,456.62 L182.90,456.63 L183.40,456.64 L183.90,456.64 L184.40,456.65 L184.90,456.66 L185.40,456.66 L185.90,456.67 L186.40,456.67 L186.90,456.68 L187.40,456.68 L187.90,456.69 L188.40,456.69 L188.90,456.69 L189.40,456.70 L189.90,456.70 L190.40,456.70 L190.90,456.71 L191.40,456.71 L191.90,456.71 L192.40,456.71 L192.90,456.72 L193.40,456.72 L193.90,456.72 L194.40,456.73 L194.90,456.73 L195.40,456.73 L195.90,456.73 L196.40,456.74 L196.90,456.74 L197.40,456.74 L197.90,456.75 L198.40,456.75 L198.90,456.75 L199.40,456.75 L199.90,456.76 L200.40,456.76 L200.90,456.76 L201.40,456.76 L201.90,456.77 L202.40,456.77 L202.90,456.77 L203.40,456.78 L203.90,456.78 L204.40,456.78 L204.90,456.78 L205.40,456.79 L205.90,456.79 L206.40,456.79 L206.90,456.79 L207.40,456.80 L207.90,456.80 L208.40,456.80 L208.90,456.80 L209.40,456.81 L209.90,456.81 L210.40,456.81 L210.90,456.81 L211.40,456.82 L211.90,456.82 L212.40,456.82 L212.90,456.82 L213.40,456.83 L213.90,456.83 L214.40,456.83 L214.90,456.83 L215.40,456.83 L215.90,456.84 L216.40,456.84 L216.90,456.84 L217.40,456.84 L217.90,456.85 L218.40,456.85 L218.90,456.85 L219.40,456.85 L219.90,456.85 L220.40,456.86 L220.90,456.86 L221.40,456.86 L221.90,456.86 L222.40,456.86 L222.90,456.87 L223.40,456.87 L223.90,456.87 L224.40,456.87 L224.90,456.87 L225.40,456.88 L225.90,456.88 L226.40,456.88 L226.90,456.88 L227.40,456.88 L227.90,456.89 L228.40,456.89 L228.90,456.89 L229.40,456.89 L229.90,456.89 L230.40,456.90 L230.90,456.90 L231.40,456.90 L231.90,456.90 L232.40,456.90 L232.90,456.91 L233.40,456.91 L233.90,456.91 L234.40,456.91 L234.90,456.91 L235.40,456.91 L235.90,456.92 L236.40,456.92 L236.90,456.92 L237.40,456.92 L237.90,456.92 L238.40,456.92 L238.90,456.93 L239.40,456.93 L239.90,456.93 L240.40,456.93 L240.90,456.93 L241.40,456.93 L241.90,456.93 L242.40,456.94 L242.90,456.94 L243.40,456.94 L243.90,456.94 L244.40,456.94 L244.90,456.94 L245.40,456.94 L245.90,456.95 L246.40,456.95 L246.90,456.95 L247.40,456.95 L247.90,456.95 L248.40,456.95 L248.90,456.95 L249.40,456.95 L249.90,456.96 L250.40,456.96 L250.90,456.96 L251.40,456.96 L251.90,456.96 L252.40,456.96 L252.90,456.96 L253.40,456.96 L253.90,456.97 L254.40,456.97 L254.90,456.97 L255.40,456.97 L255.90,456.97 L256.40,456.97 L256.90,456.97 L257.40,456.97 L257.90,456.97 L258.40,456.97 L258.90,456.98 L259.40,456.98 L259.90,456.98 L260.40,456.98 L260.90,456.98 L261.40,456.98 L261.90,456.98 L262.40,456.98 L262.90,456.98 L263.40,456.98 L263.90,456.98 L264.40,456.98 L264.90,456.98 L265.40,456.99 L265.90,456.99 L266.40,456.99 L266.90,456.99 L267.40,456.99 L267.90,456.99 L268.40,456.99 L268.90,456.99 L269.40,456.99 L269.90,456.99 L270.40,456.99 L270.90,456.99 L271.40,456.99 L271.90,456.99 L272.40,456.99 L272.90,456.99 L273.40,456.99 L273.90,457.00 L274.40,457.00 L274.90,457.00 L275.40,457.00 L275.90,457.00 L276.40,457.00 L276.90,457.00 L277.40,457.00 L277.90,457.00 L278.40,457.00 L278.90,457.00 L279.40,457.00 L279.90,457.00 L280.40,457.00 L280.90,457.00 L281.40,457.00 L281.90,457.00 L282.40,457.00 L282.90,457.00 L283.40,457.00 L283.90,457.00 L284.40,457.00 L284.90,457.00 L285.40,457.00" fill="none" stroke="#1a1a1a" stroke-width="0.95" stroke-linejoin="round" stroke-linecap="round"/>
<path d="M78.90,453.00 L79.40,453.00 L79.90,453.00 L80.40,453.00 L80.90,453.00 L81.40,453.00 L81.90,453.00 L82.40,453.00 L82.90,453.00 L83.40,453.00 L83.90,453.00 L84.40,453.00 L84.90,453.00 L85.40,453.00 L85.90,453.00 L86.40,453.00 L86.90,453.00 L87.40,453.01 L87.90,453.01 L88.40,453.01 L88.90,453.01 L89.40,453.01 L89.90,453.01 L90.40,453.01 L90.90,453.01 L91.40,453.01 L91.90,453.01 L92.40,453.01 L92.90,453.01 L93.40,453.02 L93.90,453.02 L94.40,453.02 L94.90,453.02 L95.40,453.02 L95.90,453.02 L96.40,453.02 L96.90,453.02 L97.40,453.02 L97.90,453.02 L98.40,453.02 L98.90,453.02 L99.40,453.02 L99.90,453.02 L100.40,453.03 L100.90,453.03 L101.40,453.03 L101.90,453.03 L102.40,453.02 L102.90,453.02 L103.40,453.02 L103.90,453.02 L104.40,453.02 L104.90,453.02 L105.40,453.02 L105.90,453.02 L106.40,453.01 L106.90,453.01 L107.40,453.01 L107.90,453.00 L108.40,453.00 L108.90,452.99 L109.40,452.99 L109.90,452.98 L110.40,452.97 L110.90,452.97 L111.40,452.96 L111.90,452.95 L112.40,452.94 L112.90,452.93 L113.40,452.91 L113.90,452.90 L114.40,452.89 L114.90,452.87 L115.40,452.85 L115.90,452.84 L116.40,452.82 L116.90,452.79 L117.40,452.77 L117.90,452.75 L118.40,452.72 L118.90,452.69 L119.40,452.66 L119.90,452.63 L120.40,452.59 L120.90,452.56 L121.40,452.52 L121.90,452.48 L122.40,452.43 L122.90,452.39 L123.40,452.34 L123.90,452.29 L124.40,452.24 L124.90,452.20 L125.40,452.15 L125.90,452.10 L126.40,452.05 L126.90,451.99 L127.40,451.94 L127.90,451.88 L128.40,451.82 L128.90,451.76 L129.40,451.70 L129.90,451.63 L130.40,451.56 L130.90,451.49 L131.40,451.41 L131.90,451.33 L132.40,451.25 L132.90,451.16 L133.40,451.07 L133.90,450.98 L134.40,450.88 L134.90,450.78 L135.40,450.67 L135.90,450.56 L136.40,450.44 L136.90,450.32 L137.40,450.20 L137.90,450.07 L138.40,449.94 L138.90,449.80 L139.40,449.66 L139.90,449.51 L140.40,449.36 L140.90,449.21 L141.40,449.05 L141.90,448.90 L142.40,448.74 L142.90,448.58 L143.40,448.42 L143.90,448.26 L144.40,448.09 L144.90,447.93 L145.40,447.76 L145.90,447.60 L146.40,447.43 L146.90,447.27 L147.40,447.10 L147.90,446.94 L148.40,446.77 L148.90,446.61 L149.40,446.44 L149.90,446.28 L150.40,446.12 L150.90,445.96 L151.40,445.80 L151.90,445.65 L152.40,445.50 L152.90,445.35 L153.40,445.20 L153.90,445.06 L154.40,444.92 L154.90,444.78 L155.40,444.65 L155.90,444.52 L156.40,444.40 L156.90,444.28 L157.40,444.17 L157.90,444.07 L158.40,443.97 L158.90,443.87 L159.40,443.79 L159.90,443.71 L160.40,443.65 L160.90,443.59 L161.40,443.54 L161.90,443.50 L162.40,443.46 L162.90,443.44 L163.40,443.43 L163.90,443.42 L164.40,443.42 L164.90,443.44 L165.40,443.46 L165.90,443.49 L166.40,443.54 L166.90,443.59 L167.40,443.65 L167.90,443.71 L168.40,443.79 L168.90,443.88 L169.40,443.97 L169.90,444.08 L170.40,444.19 L170.90,444.31 L171.40,444.44 L171.90,444.57 L172.40,444.71 L172.90,444.86 L173.40,445.02 L173.90,445.18 L174.40,445.35 L174.90,445.52 L175.40,445.70 L175.90,445.88 L176.40,446.07 L176.90,446.27 L177.40,446.47 L177.90,446.67 L178.40,446.87 L178.90,447.08 L179.40,447.29 L179.90,447.51 L180.40,447.72 L180.90,447.94 L181.40,448.16 L181.90,448.38 L182.40,448.60 L182.90,448.82 L183.40,449.04 L183.90,449.26 L184.40,449.48 L184.90,449.70 L185.40,449.92 L185.90,450.13 L186.40,450.35 L186.90,450.56 L187.40,450.77 L187.90,450.97 L188.40,451.18 L188.90,451.38 L189.40,451.58 L189.90,451.77 L190.40,451.96 L190.90,452.14 L191.40,452.33 L191.90,452.51 L192.40,452.68 L192.90,452.85 L193.40,453.02 L193.90,453.18 L194.40,453.34 L194.90,453.49 L195.40,453.64 L195.90,453.79 L196.40,453.93 L196.90,454.06 L197.40,454.19 L197.90,454.32 L198.40,454.45 L198.90,454.56 L199.40,454.68 L199.90,454.79 L200.40,454.90 L200.90,455.00 L201.40,455.10 L201.90,455.19 L202.40,455.28 L202.90,455.37 L203.40,455.45 L203.90,455.53 L204.40,455.60 L204.90,455.68 L205.40,455.75 L205.90,455.81 L206.40,455.87 L206.90,455.93 L207.40,455.99 L207.90,456.04 L208.40,456.09 L208.90,456.14 L209.40,456.19 L209.90,456.23 L210.40,456.27 L210.90,456.31 L211.40,456.35 L211.90,456.38 L212.40,456.42 L212.90,456.45 L213.40,456.48 L213.90,456.50 L214.40,456.53 L214.90,456.55 L215.40,456.58 L215.90,456.60 L216.40,456.62 L216.90,456.64 L217.40,456.66 L217.90,456.67 L218.40,456.69 L218.90,456.70 L219.40,456.72 L219.90,456.73 L220.40,456.74 L220.90,456.75 L221.40,456.76 L221.90,456.77 L222.40,456.78 L222.90,456.79 L223.40,456.80 L223.90,456.81 L224.40,456.82 L224.90,456.82 L225.40,456.83 L225.90,456.84 L226.40,456.84 L226.90,456.85 L227.40,456.85 L227.90,456.86 L228.40,456.86 L228.90,456.87 L229.40,456.87 L229.90,456.87 L230.40,456.88 L230.90,456.88 L231.40,456.89 L231.90,456.89 L232.40,456.89 L232.90,456.89 L233.40,456.90 L233.90,456.90 L234.40,456.90 L234.90,456.91 L235.40,456.91 L235.90,456.91 L236.40,456.91 L236.90,456.91 L237.40,456.92 L237.90,456.92 L238.40,456.92 L238.90,456.92 L239.40,456.92 L239.90,456.93 L240.40,456.93 L240.90,456.93 L241.40,456.93 L241.90,456.93 L242.40,456.93 L242.90,456.94 L243.40,456.94 L243.90,456.94 L244.40,456.94 L244.90,456.94 L245.40,456.94 L245.90,456.95 L246.40,456.95 L246.90,456.95 L247.40,456.95 L247.90,456.95 L248.40,456.95 L248.90,456.95 L249.40,456.95 L249.90,456.96 L250.40,456.96 L250.90,456.96 L251.40,456.96 L251.90,456.96 L252.40,456.96 L252.90,456.96 L253.40,456.96 L253.90,456.96 L254.40,456.97 L254.90,456.97 L255.40,456.97 L255.90,456.97 L256.40,456.97 L256.90,456.97 L257.40,456.97 L257.90,456.97 L258.40,456.97 L258.90,456.98 L259.40,456.98 L259.90,456.98 L260.40,456.98 L260.90,456.98 L261.40,456.98 L261.90,456.98 L262.40,456.98 L262.90,456.98 L263.40,456.98 L263.90,456.98 L264.40,456.98 L264.90,456.98 L265.40,456.99 L265.90,456.99 L266.40,456.99 L266.90,456.99 L267.40,456.99 L267.90,456.99 L268.40,456.99 L268.90,456.99 L269.40,456.99 L269.90,456.99 L270.40,456.99 L270.90,456.99 L271.40,456.99 L271.90,456.99 L272.40,456.99 L272.90,456.99 L273.40,456.99 L273.90,457.00 L274.40,457.00 L274.90,457.00 L275.40,457.00 L275.90,457.00 L276.40,457.00 L276.90,457.00 L277.40,457.00 L277.90,457.00 L278.40,457.00 L278.90,457.00 L279.40,457.00 L279.90,457.00 L280.40,457.00 L280.90,457.00 L281.40,457.00 L281.90,457.00 L282.40,457.00 L282.90,457.00 L283.40,457.00 L283.90,457.00 L284.40,457.00 L284.90,457.00 L285.40,457.00" fill="none" stroke="#147814" stroke-width="1.0" stroke-linejoin="round" stroke-linecap="round"/>
<path d="M38.40,454.50 L42.00,454.30 L45.00,454.50 L48.00,455.80 L50.80,456.90 L53.00,456.00 L55.50,455.10 L58.00,454.30 L61.00,453.60 L64.00,452.80 L67.20,452.20 L70.00,451.60 L73.00,451.00 L76.00,450.30 L78.90,450.91 L79.40,450.82 L79.90,450.72 L80.40,450.62 L80.90,450.51 L81.40,450.39 L81.90,450.27 L82.40,450.13 L82.90,449.99 L83.40,449.84 L83.90,449.67 L84.40,449.50 L84.90,449.31 L85.40,449.11 L85.90,448.89 L86.40,448.66 L86.90,448.42 L87.40,448.16 L87.90,447.88 L88.40,447.59 L88.90,447.27 L89.40,446.94 L89.90,446.58 L90.40,446.20 L90.90,445.80 L91.40,445.37 L91.90,444.92 L92.40,444.44 L92.90,443.94 L93.40,443.40 L93.90,442.83 L94.40,442.24 L94.90,441.60 L95.40,440.94 L95.90,440.24 L96.40,439.50 L96.90,438.72 L97.40,437.90 L97.90,437.05 L98.40,436.15 L98.90,435.20 L99.40,434.21 L99.90,433.18 L100.40,432.10 L100.90,430.97 L101.40,429.80 L101.90,428.57 L102.40,427.29 L102.90,425.96 L103.40,424.58 L103.90,423.15 L104.40,421.66 L104.90,420.12 L105.40,418.52 L105.90,416.87 L106.40,415.17 L106.90,413.40 L107.40,411.59 L107.90,409.72 L108.40,407.80 L108.90,405.82 L109.40,403.79 L109.90,401.71 L110.40,399.58 L110.90,397.40 L111.40,395.17 L111.90,392.89 L112.40,390.57 L112.90,388.21 L113.40,385.80 L113.90,383.36 L114.40,380.88 L114.90,378.37 L115.40,375.83 L115.90,373.26 L116.40,370.67 L116.90,368.05 L117.40,365.42 L117.90,362.77 L118.40,360.12 L118.90,357.46 L119.40,354.79 L119.90,352.13 L120.40,349.48 L120.90,346.84 L121.40,344.21 L121.90,341.61 L122.40,339.03 L122.90,336.48 L123.40,333.97 L123.90,331.50 L124.40,329.09 L124.90,326.72 L125.40,324.41 L125.90,322.17 L126.40,319.99 L126.90,317.89 L127.40,315.87 L127.90,313.92 L128.40,312.07 L128.90,310.30 L129.40,308.64 L129.90,307.07 L130.40,305.60 L130.90,304.25 L131.40,303.01 L131.90,301.88 L132.40,300.87 L132.90,299.98 L133.40,299.21 L133.90,298.58 L134.40,298.06 L134.90,297.68 L135.40,297.43 L135.90,297.31 L136.40,297.32 L136.90,297.46 L137.40,297.73 L137.90,298.14 L138.40,298.67 L138.90,299.33 L139.40,300.11 L139.90,301.02 L140.40,302.05 L140.90,303.20 L141.40,304.46 L141.90,305.85 L142.40,307.34 L142.90,308.93 L143.40,310.63 L143.90,312.43 L144.40,314.32 L144.90,316.30 L145.40,318.36 L145.90,320.50 L146.40,322.71 L146.90,324.99 L147.40,327.34 L147.90,329.74 L148.40,332.20 L148.90,334.70 L149.40,337.25 L149.90,339.84 L150.40,342.45 L150.90,345.10 L151.40,347.76 L151.90,350.45 L152.40,353.15 L152.90,355.85 L153.40,358.56 L153.90,361.27 L154.40,363.97 L154.90,366.66 L155.40,369.34 L155.90,372.00 L156.40,374.64 L156.90,377.26 L157.40,379.85 L157.90,382.41 L158.40,384.93 L158.90,387.42 L159.40,389.87 L159.90,392.29 L160.40,394.66 L160.90,396.98 L161.40,399.26 L161.90,401.49 L162.40,403.68 L162.90,405.81 L163.40,407.89 L163.90,409.92 L164.40,411.89 L164.90,413.81 L165.40,415.68 L165.90,417.49 L166.40,419.24 L166.90,420.94 L167.40,422.59 L167.90,424.18 L168.40,425.71 L168.90,427.19 L169.40,428.62 L169.90,429.99 L170.40,431.31 L170.90,432.58 L171.40,433.80 L171.90,434.96 L172.40,436.08 L172.90,437.15 L173.40,438.17 L173.90,439.15 L174.40,440.08 L174.90,440.97 L175.40,441.82 L175.90,442.63 L176.40,443.40 L176.90,444.13 L177.40,444.82 L177.90,445.48 L178.40,446.10 L178.90,446.69 L179.40,447.25 L179.90,447.78 L180.40,448.28 L180.90,448.76 L181.40,449.20 L181.90,449.62 L182.40,450.02 L182.90,450.39 L183.40,450.75 L183.90,451.08 L184.40,451.39 L184.90,451.68 L185.40,451.96 L185.90,452.21 L186.40,452.46 L186.90,452.68 L187.40,452.89 L187.90,453.09 L188.40,453.28 L188.90,453.45 L189.40,453.61 L189.90,453.77 L190.40,453.91 L190.90,454.04 L191.40,454.16 L191.90,454.28 L192.40,454.39 L192.90,454.49 L193.40,454.58 L193.90,454.67 L194.40,454.76 L194.90,454.83 L195.40,454.91 L195.90,454.98 L196.40,455.04 L196.90,455.10 L197.40,455.16 L197.90,455.21 L198.40,455.26 L198.90,455.30 L199.40,455.35 L199.90,455.39 L200.40,455.43 L200.90,455.46 L201.40,455.50 L201.90,455.53 L202.40,455.56 L202.90,455.59 L203.40,455.62 L203.90,455.65 L204.40,455.67 L204.90,455.70 L205.40,455.72 L205.90,455.74 L206.40,455.77 L206.90,455.79 L207.40,455.81 L207.90,455.82 L208.40,455.84 L208.90,455.86 L209.40,455.88 L209.90,455.89 L210.40,455.91 L210.90,455.93 L211.40,455.94 L211.90,455.96 L212.40,455.97 L212.90,455.98 L213.40,456.00 L213.90,456.01 L214.40,456.02 L214.90,456.04 L215.40,456.05 L215.90,456.06 L216.40,456.07 L216.90,456.08 L217.40,456.10 L217.90,456.11 L218.40,456.12 L218.90,456.13 L219.40,456.14 L219.90,456.15 L220.40,456.16 L220.90,456.17 L221.40,456.18 L221.90,456.19 L222.40,456.20 L222.90,456.21 L223.40,456.22 L223.90,456.23 L224.40,456.24 L224.90,456.24 L225.40,456.25 L225.90,456.26 L226.40,456.27 L226.90,456.28 L227.40,456.29 L227.90,456.30 L228.40,456.30 L228.90,456.31 L229.40,456.32 L229.90,456.33 L230.40,456.33 L230.90,456.34 L231.40,456.35 L231.90,456.36 L232.40,456.36 L232.90,456.37 L233.40,456.38 L233.90,456.38 L234.40,456.39 L234.90,456.40 L235.40,456.40 L235.90,456.41 L236.40,456.42 L236.90,456.42 L237.40,456.43 L237.90,456.44 L238.40,456.44 L238.90,456.45 L239.40,456.45 L239.90,456.46 L240.40,456.47 L240.90,456.47 L241.40,456.48 L241.90,456.48 L242.40,456.49 L242.90,456.49 L243.40,456.50 L243.90,456.51 L244.40,456.51 L244.90,456.52 L245.40,456.52 L245.90,456.53 L246.40,456.53 L246.90,456.54 L247.40,456.54 L247.90,456.55 L248.40,456.55 L248.90,456.56 L249.40,456.56 L249.90,456.56 L250.40,456.57 L250.90,456.57 L251.40,456.58 L251.90,456.58 L252.40,456.59 L252.90,456.59 L253.40,456.60 L253.90,456.60 L254.40,456.60 L254.90,456.61 L255.40,456.61 L255.90,456.62 L256.40,456.62 L256.90,456.62 L257.40,456.63 L257.90,456.63 L258.40,456.63 L258.90,456.64 L259.40,456.64 L259.90,456.64 L260.40,456.65 L260.90,456.65 L261.40,456.66 L261.90,456.66 L262.40,456.66 L262.90,456.67 L263.40,456.67 L263.90,456.67 L264.40,456.67 L264.90,456.68 L265.40,456.68 L265.90,456.68 L266.40,456.69 L266.90,456.69 L267.40,456.69 L267.90,456.70 L268.40,456.70 L268.90,456.70 L269.40,456.70 L269.90,456.71 L270.40,456.71 L270.90,456.71 L271.40,456.71 L271.90,456.72 L272.40,456.72 L272.90,456.72 L273.40,456.72 L273.90,456.73 L274.40,456.73 L274.90,456.73 L275.40,456.73 L275.90,456.73 L276.40,456.74 L276.90,456.74 L277.40,456.74 L277.90,456.74 L278.40,456.75 L278.90,456.75 L279.40,456.75 L279.90,456.75 L280.40,456.75 L280.90,456.75 L281.40,456.76 L281.90,456.76 L282.40,456.76 L282.90,456.76 L283.40,456.76 L283.90,456.77 L284.40,456.77 L284.90,456.77 L285.40,456.77" fill="none" stroke="#e31212" stroke-width="1.0" stroke-linejoin="round" stroke-linecap="round"/>
<path d="M38.40,455.10 C38.83,455.02 40.05,454.60 41.00,454.60 C41.95,454.60 43.10,454.90 44.10,455.10 C45.10,455.30 45.88,455.42 47.00,455.80 C48.12,456.18 49.80,457.27 50.80,457.40 C51.80,457.53 52.30,456.75 53.00,456.60 C53.70,456.45 54.17,456.70 55.00,456.50 C55.83,456.30 56.93,455.68 58.00,455.40 C59.07,455.12 60.40,454.88 61.40,454.80 C62.40,454.72 62.90,454.98 64.00,454.90 C65.10,454.82 66.67,454.37 68.00,454.30 C69.33,454.23 70.77,454.55 72.00,454.50 C73.23,454.45 74.40,454.18 75.40,454.00 C76.40,453.82 77.23,453.70 78.00,453.40 C78.77,453.10 79.00,452.50 80.00,452.20 C81.00,451.90 82.63,451.98 84.00,451.60 C85.37,451.22 86.87,450.67 88.20,449.90 C89.53,449.13 90.83,448.07 92.00,447.00 C93.17,445.93 94.20,444.87 95.20,443.50 C96.20,442.13 97.03,440.47 98.00,438.80 C98.97,437.13 99.83,436.88 101.00,433.50 C102.17,430.12 103.25,425.62 105.00,418.50 C106.75,411.38 109.05,402.48 111.50,390.80 C113.95,379.12 116.93,361.90 119.70,348.40 C122.47,334.90 126.02,318.72 128.10,309.80 C130.18,300.88 130.83,297.98 132.20,294.90 C133.57,291.82 135.07,291.43 136.30,291.30 C137.53,291.17 138.22,291.85 139.60,294.10 C140.98,296.35 142.38,297.23 144.60,304.80 C146.82,312.37 150.67,329.30 152.90,339.50 C155.13,349.70 156.63,359.65 158.00,366.00 C159.37,372.35 159.93,373.10 161.10,377.60 C162.27,382.10 163.90,388.60 165.00,393.00 C166.10,397.40 166.73,399.62 167.70,404.00 C168.67,408.38 169.97,416.00 170.80,419.30 C171.63,422.60 172.00,422.22 172.70,423.80 C173.40,425.38 173.95,426.63 175.00,428.80 C176.05,430.97 177.75,434.85 179.00,436.80 C180.25,438.75 181.33,439.42 182.50,440.50 C183.67,441.58 184.75,442.68 186.00,443.30 C187.25,443.92 188.45,444.05 190.00,444.20 C191.55,444.35 193.98,444.00 195.30,444.20 C196.62,444.40 197.12,445.43 197.90,445.40 C198.68,445.37 199.27,444.35 200.00,444.00 C200.73,443.65 201.05,443.85 202.30,443.30 C203.55,442.75 205.75,441.72 207.50,440.70 C209.25,439.68 211.05,438.37 212.80,437.20 C214.55,436.03 216.63,434.43 218.00,433.70 C219.37,432.97 219.83,433.25 221.00,432.80 C222.17,432.35 223.75,431.73 225.00,431.00 C226.25,430.27 227.47,428.45 228.50,428.40 C229.53,428.35 230.12,430.23 231.20,430.70 C232.28,431.17 233.68,431.00 235.00,431.20 C236.32,431.40 237.83,431.48 239.10,431.90 C240.37,432.32 241.45,432.85 242.60,433.70 C243.75,434.55 244.55,435.70 246.00,437.00 C247.45,438.30 249.80,440.30 251.30,441.50 C252.80,442.70 253.53,443.17 255.00,444.20 C256.47,445.23 258.60,446.82 260.10,447.70 C261.60,448.58 262.83,448.92 264.00,449.50 C265.17,450.08 266.10,450.70 267.10,451.20 C268.10,451.70 268.83,451.92 270.00,452.50 C271.17,453.08 273.10,454.48 274.10,454.70 C275.10,454.92 275.42,454.02 276.00,453.80 C276.58,453.58 277.05,453.05 277.60,453.40 C278.15,453.75 278.57,455.42 279.30,455.90 C280.03,456.38 280.97,456.12 282.00,456.30 C283.03,456.48 284.50,456.68 285.50,457.00 C286.50,457.32 286.98,457.83 288.00,458.20 C289.02,458.57 290.68,458.80 291.60,459.20 C292.52,459.60 292.92,460.33 293.50,460.60 C294.08,460.87 294.52,460.97 295.10,460.80 C295.68,460.63 296.42,459.73 297.00,459.60 C297.58,459.47 298.02,459.63 298.60,460.00 C299.18,460.37 299.92,461.43 300.50,461.80 C301.08,462.17 301.52,462.30 302.10,462.20 C302.68,462.10 303.35,461.23 304.00,461.20 C304.65,461.17 305.33,461.73 306.00,462.00 C306.67,462.27 307.17,462.70 308.00,462.80 C308.83,462.90 310.50,462.63 311.00,462.60" fill="none" stroke="#1a1a1a" stroke-width="1.0" stroke-linejoin="round" stroke-linecap="round" />
<path d="M78.90,453.00 L79.40,453.00 L79.90,453.00 L80.40,453.00 L80.90,453.00 L81.40,453.00 L81.90,453.00 L82.40,453.00 L82.90,453.00 L83.40,453.00 L83.90,453.00 L84.40,453.00 L84.90,453.00 L85.40,453.00 L85.90,453.00 L86.40,453.01 L86.90,453.01 L87.40,453.01 L87.90,453.01 L88.40,453.01 L88.90,453.01 L89.40,453.01 L89.90,453.01 L90.40,453.01 L90.90,453.01 L91.40,453.01 L91.90,453.02 L92.40,453.02 L92.90,453.02 L93.40,453.02 L93.90,453.02 L94.40,453.02 L94.90,453.02 L95.40,453.03 L95.90,453.03 L96.40,453.03 L96.90,453.03 L97.40,453.03 L97.90,453.04 L98.40,453.04 L98.90,453.04 L99.40,453.04 L99.90,453.04 L100.40,453.05 L100.90,453.05 L101.40,453.05 L101.90,453.05 L102.40,453.05 L102.90,453.06 L103.40,453.06 L103.90,453.06 L104.40,453.06 L104.90,453.07 L105.40,453.07 L105.90,453.07 L106.40,453.08 L106.90,453.08 L107.40,453.08 L107.90,453.08 L108.40,453.09 L108.90,453.09 L109.40,453.09 L109.90,453.10 L110.40,453.10 L110.90,453.10 L111.40,453.11 L111.90,453.11 L112.40,453.11 L112.90,453.12 L113.40,453.12 L113.90,453.12 L114.40,453.13 L114.90,453.13 L115.40,453.14 L115.90,453.14 L116.40,453.14 L116.90,453.15 L117.40,453.15 L117.90,453.16 L118.40,453.16 L118.90,453.17 L119.40,453.17 L119.90,453.17 L120.40,453.18 L120.90,453.18 L121.40,453.19 L121.90,453.19 L122.40,453.20 L122.90,453.20 L123.40,453.21 L123.90,453.22 L124.40,453.23 L124.90,453.25 L125.40,453.27 L125.90,453.29 L126.40,453.31 L126.90,453.33 L127.40,453.36 L127.90,453.39 L128.40,453.42 L128.90,453.45 L129.40,453.48 L129.90,453.51 L130.40,453.55 L130.90,453.58 L131.40,453.62 L131.90,453.66 L132.40,453.70 L132.90,453.74 L133.40,453.78 L133.90,453.82 L134.40,453.86 L134.90,453.90 L135.40,453.94 L135.90,453.98 L136.40,454.02 L136.90,454.06 L137.40,454.10 L137.90,454.14 L138.40,454.18 L138.90,454.22 L139.40,454.25 L139.90,454.29 L140.40,454.33 L140.90,454.37 L141.40,454.41 L141.90,454.45 L142.40,454.49 L142.90,454.53 L143.40,454.58 L143.90,454.62 L144.40,454.67 L144.90,454.71 L145.40,454.76 L145.90,454.81 L146.40,454.85 L146.90,454.90 L147.40,454.95 L147.90,455.00 L148.40,455.04 L148.90,455.09 L149.40,455.14 L149.90,455.18 L150.40,455.23 L150.90,455.28 L151.40,455.32 L151.90,455.36 L152.40,455.41 L152.90,455.45 L153.40,455.49 L153.90,455.53 L154.40,455.56 L154.90,455.60 L155.40,455.63 L155.90,455.66 L156.40,455.69 L156.90,455.72 L157.40,455.75 L157.90,455.77 L158.40,455.79 L158.90,455.82 L159.40,455.84 L159.90,455.86 L160.40,455.88 L160.90,455.90 L161.40,455.92 L161.90,455.93 L162.40,455.95 L162.90,455.97 L163.40,455.98 L163.90,455.99 L164.40,456.01 L164.90,456.02 L165.40,456.03 L165.90,456.04 L166.40,456.04 L166.90,456.05 L167.40,456.05 L167.90,456.05 L168.40,456.05 L168.90,456.05 L169.40,456.05 L169.90,456.04 L170.40,456.04 L170.90,456.03 L171.40,456.01 L171.90,456.00 L172.40,455.98 L172.90,455.96 L173.40,455.94 L173.90,455.92 L174.40,455.89 L174.90,455.86 L175.40,455.82 L175.90,455.78 L176.40,455.74 L176.90,455.70 L177.40,455.65 L177.90,455.60 L178.40,455.55 L178.90,455.49 L179.40,455.43 L179.90,455.37 L180.40,455.30 L180.90,455.22 L181.40,455.15 L181.90,455.07 L182.40,454.98 L182.90,454.89 L183.40,454.79 L183.90,454.69 L184.40,454.58 L184.90,454.47 L185.40,454.36 L185.90,454.23 L186.40,454.10 L186.90,453.97 L187.40,453.83 L187.90,453.68 L188.40,453.53 L188.90,453.37 L189.40,453.20 L189.90,453.03 L190.40,452.85 L190.90,452.66 L191.40,452.47 L191.90,452.27 L192.40,452.06 L192.90,451.84 L193.40,451.62 L193.90,451.39 L194.40,451.16 L194.90,450.92 L195.40,450.67 L195.90,450.41 L196.40,450.15 L196.90,449.87 L197.40,449.60 L197.90,449.31 L198.40,449.02 L198.90,448.72 L199.40,448.41 L199.90,448.10 L200.40,447.78 L200.90,447.46 L201.40,447.13 L201.90,446.79 L202.40,446.45 L202.90,446.10 L203.40,445.74 L203.90,445.39 L204.40,445.02 L204.90,444.65 L205.40,444.28 L205.90,443.91 L206.40,443.53 L206.90,443.15 L207.40,442.76 L207.90,442.38 L208.40,441.99 L208.90,441.60 L209.40,441.21 L209.90,440.82 L210.40,440.43 L210.90,440.04 L211.40,439.65 L211.90,439.26 L212.40,438.87 L212.90,438.49 L213.40,438.11 L213.90,437.73 L214.40,437.36 L214.90,437.00 L215.40,436.63 L215.90,436.28 L216.40,435.93 L216.90,435.58 L217.40,435.25 L217.90,434.92 L218.40,434.60 L218.90,434.29 L219.40,433.99 L219.90,433.70 L220.40,433.42 L220.90,433.15 L221.40,432.89 L221.90,432.65 L222.40,432.42 L222.90,432.20 L223.40,431.99 L223.90,431.79 L224.40,431.61 L224.90,431.45 L225.40,431.30 L225.90,431.16 L226.40,431.04 L226.90,430.93 L227.40,430.84 L227.90,430.76 L228.40,430.70 L228.90,430.66 L229.40,430.63 L229.90,430.62 L230.40,430.62 L230.90,430.64 L231.40,430.68 L231.90,430.73 L232.40,430.80 L232.90,430.88 L233.40,430.98 L233.90,431.09 L234.40,431.22 L234.90,431.37 L235.40,431.53 L235.90,431.70 L236.40,431.89 L236.90,432.09 L237.40,432.30 L237.90,432.53 L238.40,432.77 L238.90,433.02 L239.40,433.29 L239.90,433.56 L240.40,433.85 L240.90,434.14 L241.40,434.45 L241.90,434.77 L242.40,435.09 L242.90,435.42 L243.40,435.77 L243.90,436.11 L244.40,436.47 L244.90,436.83 L245.40,437.20 L245.90,437.57 L246.40,437.95 L246.90,438.33 L247.40,438.71 L247.90,439.10 L248.40,439.49 L248.90,439.88 L249.40,440.27 L249.90,440.67 L250.40,441.06 L250.90,441.46 L251.40,441.85 L251.90,442.24 L252.40,442.63 L252.90,443.02 L253.40,443.41 L253.90,443.80 L254.40,444.18 L254.90,444.56 L255.40,444.93 L255.90,445.30 L256.40,445.67 L256.90,446.03 L257.40,446.38 L257.90,446.73 L258.40,447.08 L258.90,447.42 L259.40,447.75 L259.90,448.08 L260.40,448.40 L260.90,448.71 L261.40,449.02 L261.90,449.32 L262.40,449.62 L262.90,449.90 L263.40,450.18 L263.90,450.46 L264.40,450.72 L264.90,450.98 L265.40,451.23 L265.90,451.48 L266.40,451.72 L266.90,451.95 L267.40,452.17 L267.90,452.39 L268.40,452.59 L268.90,452.80 L269.40,452.99 L269.90,453.18 L270.40,453.36 L270.90,453.54 L271.40,453.71 L271.90,453.87 L272.40,454.03 L272.90,454.18 L273.40,454.32 L273.90,454.46 L274.40,454.59 L274.90,454.72 L275.40,454.84 L275.90,454.96 L276.40,455.07 L276.90,455.18 L277.40,455.28 L277.90,455.38 L278.40,455.47 L278.90,455.56 L279.40,455.64 L279.90,455.72 L280.40,455.80 L280.90,455.87 L281.40,455.94 L281.90,456.00 L282.40,456.06 L282.90,456.12 L283.40,456.18 L283.90,456.23 L284.40,456.28 L284.90,456.32 L285.40,456.37 L288.00,458.20 L291.60,459.20 L293.50,460.60 L295.10,460.80 L297.00,459.60 L298.60,460.00 L300.50,461.80 L302.10,462.20 L304.00,461.20 L306.00,462.00 L308.00,462.80 L311.00,462.60" fill="none" stroke="#2424d6" stroke-width="1.0" stroke-linejoin="round" stroke-linecap="round"/>
<path d="M421.00,455.40 L421.50,455.40 L422.00,455.40 L422.50,455.40 L423.00,455.40 L423.50,455.40 L424.00,455.40 L424.50,455.40 L425.00,455.40 L425.50,455.40 L426.00,455.40 L426.50,455.40 L427.00,455.40 L427.50,455.40 L428.00,455.40 L428.50,455.40 L429.00,455.40 L429.50,455.40 L430.00,455.40 L430.50,455.40 L431.00,455.40 L431.50,455.40 L432.00,455.40 L432.50,455.40 L433.00,455.40 L433.50,455.40 L434.00,455.40 L434.50,455.40 L435.00,455.40 L435.50,455.40 L436.00,455.40 L436.50,455.40 L437.00,455.40 L437.50,455.40 L438.00,455.40 L438.50,455.40 L439.00,455.40 L439.50,455.40 L440.00,455.40 L440.50,455.40 L441.00,455.40 L441.50,455.40 L442.00,455.40 L442.50,455.40 L443.00,455.40 L443.50,455.40 L444.00,455.40 L444.50,455.40 L445.00,455.40 L445.50,455.40 L446.00,455.40 L446.50,455.40 L447.00,455.40 L447.50,455.40 L448.00,455.40 L448.50,455.40 L449.00,455.40 L449.50,455.40 L450.00,455.40 L450.50,455.40 L451.00,455.40 L451.50,455.40 L452.00,455.40 L452.50,455.40 L453.00,455.40 L453.50,455.40 L454.00,455.40 L454.50,455.40 L455.00,455.40 L455.50,455.40 L456.00,455.40 L456.50,455.40 L457.00,455.40 L457.50,455.40 L458.00,455.40 L458.50,455.40 L459.00,455.40 L459.50,455.40 L460.00,455.40 L460.50,455.40 L461.00,455.40 L461.50,455.41 L462.00,455.42 L462.50,455.43 L463.00,455.44 L463.50,455.45 L464.00,455.46 L464.50,455.48 L465.00,455.50 L465.50,455.52 L466.00,455.54 L466.50,455.56 L467.00,455.58 L467.50,455.61 L468.00,455.63 L468.50,455.66 L469.00,455.69 L469.50,455.72 L470.00,455.75 L470.50,455.78 L471.00,455.81 L471.50,455.84 L472.00,455.87 L472.50,455.91 L473.00,455.94 L473.50,455.98 L474.00,456.01 L474.50,456.05 L475.00,456.08 L475.50,456.12 L476.00,456.15 L476.50,456.19 L477.00,456.23 L477.50,456.26 L478.00,456.30 L478.50,456.34 L479.00,456.38 L479.50,456.42 L480.00,456.47 L480.50,456.52 L481.00,456.58 L481.50,456.63 L482.00,456.69 L482.50,456.75 L483.00,456.81 L483.50,456.88 L484.00,456.95 L484.50,457.01 L485.00,457.08 L485.50,457.15 L486.00,457.22 L486.50,457.30 L487.00,457.37 L487.50,457.44 L488.00,457.52 L488.50,457.59 L489.00,457.67 L489.50,457.74 L490.00,457.82 L490.50,457.89 L491.00,457.96 L491.50,458.03 L492.00,458.10 L492.50,458.17 L493.00,458.24 L493.50,458.31 L494.00,458.38 L494.50,458.44 L495.00,458.50 L495.50,458.56 L496.00,458.62 L496.50,458.69 L497.00,458.76 L497.50,458.82 L498.00,458.89 L498.50,458.96 L499.00,459.03 L499.50,459.10 L500.00,459.17 L500.50,459.24 L501.00,459.31 L501.50,459.37 L502.00,459.44 L502.50,459.51 L503.00,459.57 L503.50,459.63 L504.00,459.70 L504.50,459.75 L505.00,459.81 L505.50,459.87 L506.00,459.92 L506.50,459.97 L507.00,460.01 L507.50,460.05 L508.00,460.09 L508.50,460.12 L509.00,460.15 L509.50,460.18 L510.00,460.20 L510.50,460.22 L511.00,460.24 L511.50,460.25 L512.00,460.27 L512.50,460.29 L513.00,460.30 L513.50,460.32 L514.00,460.33 L514.50,460.35 L515.00,460.36 L515.50,460.38 L516.00,460.39 L516.50,460.40 L517.00,460.42 L517.50,460.43 L518.00,460.44 L518.50,460.45 L519.00,460.47 L519.50,460.48 L520.00,460.49 L520.50,460.50 L521.00,460.51 L521.50,460.52 L522.00,460.53 L522.50,460.54 L523.00,460.55 L523.50,460.56 L524.00,460.57 L524.50,460.58 L525.00,460.58 L525.50,460.59 L526.00,460.60 L526.50,460.61 L527.00,460.62 L527.50,460.63 L528.00,460.63 L528.50,460.64 L529.00,460.65 L529.50,460.66 L530.00,460.66 L530.50,460.67 L531.00,460.68 L531.50,460.68 L532.00,460.69 L532.50,460.70 L533.00,460.70 L533.50,460.71 L534.00,460.72 L534.50,460.73 L535.00,460.73 L535.50,460.74 L536.00,460.75 L536.50,460.75 L537.00,460.76 L537.50,460.77 L538.00,460.77 L538.50,460.78 L539.00,460.79 L539.50,460.79 L540.00,460.80 L540.50,460.81 L541.00,460.81 L541.50,460.82 L542.00,460.83 L542.50,460.83 L543.00,460.84 L543.50,460.85 L544.00,460.85 L544.50,460.86 L545.00,460.86 L545.50,460.87 L546.00,460.87 L546.50,460.88 L547.00,460.88 L547.50,460.89 L548.00,460.89 L548.50,460.90 L549.00,460.90 L549.50,460.91 L550.00,460.91 L550.50,460.92 L551.00,460.92 L551.50,460.93 L552.00,460.93 L552.50,460.94 L553.00,460.94 L553.50,460.95 L554.00,460.95 L554.50,460.95 L555.00,460.96 L555.50,460.96 L556.00,460.97 L556.50,460.97 L557.00,460.98 L557.50,460.98 L558.00,460.99 L558.50,460.99 L559.00,461.00 L559.50,461.00 L560.00,461.01 L560.50,461.01 L561.00,461.02 L561.50,461.03 L562.00,461.03 L562.50,461.04 L563.00,461.04 L563.50,461.05 L564.00,461.06 L564.50,461.06 L565.00,461.07 L565.50,461.08 L566.00,461.08 L566.50,461.09 L567.00,461.10 L567.50,461.11 L568.00,461.12 L568.50,461.12 L569.00,461.13 L569.50,461.14 L570.00,461.15 L570.50,461.16 L571.00,461.17 L571.50,461.18 L572.00,461.19 L572.50,461.20 L573.00,461.21 L573.50,461.22 L574.00,461.23 L574.50,461.25 L575.00,461.26 L575.50,461.27 L576.00,461.28 L576.50,461.29 L577.00,461.31 L577.50,461.32 L578.00,461.33 L578.50,461.34 L579.00,461.36 L579.50,461.37 L580.00,461.38 L580.50,461.40 L581.00,461.41 L581.50,461.42 L582.00,461.44 L582.50,461.45 L583.00,461.47 L583.50,461.48 L584.00,461.50 L584.50,461.51 L585.00,461.53 L585.50,461.54 L586.00,461.56 L586.50,461.57 L587.00,461.59 L587.50,461.60 L588.00,461.62 L588.50,461.63 L589.00,461.65 L589.50,461.66 L590.00,461.68 L590.50,461.69 L591.00,461.71 L591.50,461.73 L592.00,461.74 L592.50,461.76 L593.00,461.77 L593.50,461.79 L594.00,461.81 L594.50,461.82 L595.00,461.84 L595.50,461.85 L596.00,461.87 L596.50,461.89 L597.00,461.90 L597.50,461.92 L598.00,461.94 L598.50,461.95 L599.00,461.97 L599.50,461.98 L600.00,462.00 L600.50,462.02 L601.00,462.03 L601.50,462.05 L602.00,462.07 L602.50,462.08 L603.00,462.10 L603.50,462.12 L604.00,462.13 L604.50,462.15 L605.00,462.17 L605.50,462.19 L606.00,462.20 L606.50,462.22 L607.00,462.24 L607.50,462.26 L608.00,462.28 L608.50,462.29 L609.00,462.31 L609.50,462.33 L610.00,462.35 L610.50,462.37 L611.00,462.39 L611.50,462.41 L612.00,462.43 L612.50,462.44 L613.00,462.46 L613.50,462.48 L614.00,462.50 L614.50,462.52 L615.00,462.54 L615.50,462.56 L616.00,462.58 L616.50,462.60 L617.00,462.62 L617.50,462.64 L618.00,462.66 L618.50,462.68 L619.00,462.70 L619.50,462.72 L620.00,462.74 L620.50,462.76 L621.00,462.78 L621.50,462.81 L622.00,462.83 L622.50,462.85 L623.00,462.87 L623.50,462.89 L624.00,462.91 L624.50,462.93 L625.00,462.95 L625.50,462.97 L626.00,462.99 L626.50,463.02 L627.00,463.04 L627.50,463.06 L628.00,463.08 L628.50,463.10 L629.00,463.12 L629.50,463.14 L630.00,463.17 L630.50,463.19 L631.00,463.21 L631.50,463.23 L632.00,463.25 L632.50,463.27 L633.00,463.30 L633.50,463.32 L634.00,463.34 L634.50,463.36 L635.00,463.38 L635.50,463.40 L636.00,463.43 L636.50,463.45 L637.00,463.47 L637.50,463.49 L638.00,463.51 L638.50,463.53 L639.00,463.56 L639.50,463.58 L640.00,463.60 L640.50,463.62 L641.00,463.64 L641.50,463.67 L642.00,463.69 L642.50,463.71 L643.00,463.73 L643.50,463.76 L644.00,463.78 L644.50,463.80 L645.00,463.82 L645.50,463.85 L646.00,463.87 L646.50,463.89 L647.00,463.92 L647.50,463.94 L648.00,463.96 L648.50,463.99 L649.00,464.01 L649.50,464.04 L650.00,464.06 L650.50,464.08 L651.00,464.11 L651.50,464.13 L652.00,464.16 L652.50,464.18 L653.00,464.20 L653.50,464.23 L654.00,464.25 L654.50,464.28 L655.00,464.30" fill="none" stroke="#1a1a1a" stroke-width="0.95" stroke-linejoin="round" stroke-linecap="round"/>
<path d="M421.00,455.16 L421.50,455.15 L422.00,455.15 L422.50,455.15 L423.00,455.14 L423.50,455.14 L424.00,455.14 L424.50,455.13 L425.00,455.13 L425.50,455.13 L426.00,455.12 L426.50,455.12 L427.00,455.12 L427.50,455.11 L428.00,455.11 L428.50,455.11 L429.00,455.10 L429.50,455.10 L430.00,455.09 L430.50,455.09 L431.00,455.08 L431.50,455.08 L432.00,455.07 L432.50,455.07 L433.00,455.06 L433.50,455.06 L434.00,455.05 L434.50,455.05 L435.00,455.04 L435.50,455.04 L436.00,455.03 L436.50,455.02 L437.00,455.02 L437.50,455.01 L438.00,455.00 L438.50,454.99 L439.00,454.98 L439.50,454.98 L440.00,454.97 L440.50,454.96 L441.00,454.95 L441.50,454.94 L442.00,454.93 L442.50,454.92 L443.00,454.91 L443.50,454.90 L444.00,454.89 L444.50,454.88 L445.00,454.86 L445.50,454.85 L446.00,454.84 L446.50,454.82 L447.00,454.81 L447.50,454.80 L448.00,454.78 L448.50,454.77 L449.00,454.75 L449.50,454.73 L450.00,454.72 L450.50,454.70 L451.00,454.68 L451.50,454.66 L452.00,454.64 L452.50,454.62 L453.00,454.60 L453.50,454.58 L454.00,454.55 L454.50,454.53 L455.00,454.51 L455.50,454.48 L456.00,454.46 L456.50,454.43 L457.00,454.40 L457.50,454.37 L458.00,454.34 L458.50,454.31 L459.00,454.28 L459.50,454.25 L460.00,454.22 L460.50,454.18 L461.00,454.15 L461.50,454.12 L462.00,454.09 L462.50,454.06 L463.00,454.03 L463.50,454.00 L464.00,453.97 L464.50,453.94 L465.00,453.91 L465.50,453.89 L466.00,453.86 L466.50,453.83 L467.00,453.80 L467.50,453.78 L468.00,453.75 L468.50,453.72 L469.00,453.69 L469.50,453.66 L470.00,453.63 L470.50,453.60 L471.00,453.57 L471.50,453.53 L472.00,453.50 L472.50,453.47 L473.00,453.43 L473.50,453.39 L474.00,453.35 L474.50,453.31 L475.00,453.27 L475.50,453.23 L476.00,453.18 L476.50,453.13 L477.00,453.09 L477.50,453.03 L478.00,452.98 L478.50,452.93 L479.00,452.88 L479.50,452.83 L480.00,452.78 L480.50,452.73 L481.00,452.68 L481.50,452.63 L482.00,452.58 L482.50,452.54 L483.00,452.49 L483.50,452.44 L484.00,452.39 L484.50,452.34 L485.00,452.29 L485.50,452.24 L486.00,452.19 L486.50,452.14 L487.00,452.08 L487.50,452.03 L488.00,451.97 L488.50,451.91 L489.00,451.85 L489.50,451.79 L490.00,451.72 L490.50,451.65 L491.00,451.58 L491.50,451.50 L492.00,451.43 L492.50,451.35 L493.00,451.26 L493.50,451.17 L494.00,451.08 L494.50,450.99 L495.00,450.89 L495.50,450.79 L496.00,450.69 L496.50,450.59 L497.00,450.48 L497.50,450.38 L498.00,450.28 L498.50,450.18 L499.00,450.07 L499.50,449.97 L500.00,449.86 L500.50,449.75 L501.00,449.64 L501.50,449.53 L502.00,449.42 L502.50,449.30 L503.00,449.18 L503.50,449.06 L504.00,448.93 L504.50,448.81 L505.00,448.68 L505.50,448.54 L506.00,448.41 L506.50,448.27 L507.00,448.12 L507.50,447.98 L508.00,447.83 L508.50,447.67 L509.00,447.51 L509.50,447.35 L510.00,447.18 L510.50,447.01 L511.00,446.84 L511.50,446.67 L512.00,446.50 L512.50,446.33 L513.00,446.16 L513.50,445.99 L514.00,445.83 L514.50,445.66 L515.00,445.49 L515.50,445.33 L516.00,445.16 L516.50,445.00 L517.00,444.84 L517.50,444.68 L518.00,444.52 L518.50,444.37 L519.00,444.21 L519.50,444.06 L520.00,443.91 L520.50,443.76 L521.00,443.62 L521.50,443.47 L522.00,443.33 L522.50,443.20 L523.00,443.06 L523.50,442.93 L524.00,442.80 L524.50,442.68 L525.00,442.56 L525.50,442.44 L526.00,442.33 L526.50,442.22 L527.00,442.11 L527.50,442.01 L528.00,441.91 L528.50,441.82 L529.00,441.73 L529.50,441.64 L530.00,441.56 L530.50,441.49 L531.00,441.42 L531.50,441.35 L532.00,441.29 L532.50,441.23 L533.00,441.18 L533.50,441.14 L534.00,441.09 L534.50,441.06 L535.00,441.03 L535.50,441.00 L536.00,440.98 L536.50,440.97 L537.00,440.96 L537.50,440.96 L538.00,440.96 L538.50,440.97 L539.00,440.98 L539.50,441.00 L540.00,441.02 L540.50,441.05 L541.00,441.09 L541.50,441.13 L542.00,441.17 L542.50,441.22 L543.00,441.28 L543.50,441.34 L544.00,441.40 L544.50,441.47 L545.00,441.55 L545.50,441.63 L546.00,441.71 L546.50,441.80 L547.00,441.90 L547.50,442.00 L548.00,442.10 L548.50,442.21 L549.00,442.32 L549.50,442.44 L550.00,442.56 L550.50,442.68 L551.00,442.81 L551.50,442.94 L552.00,443.07 L552.50,443.21 L553.00,443.36 L553.50,443.50 L554.00,443.65 L554.50,443.80 L555.00,443.96 L555.50,444.12 L556.00,444.28 L556.50,444.44 L557.00,444.61 L557.50,444.78 L558.00,444.95 L558.50,445.13 L559.00,445.30 L559.50,445.48 L560.00,445.66 L560.50,445.84 L561.00,446.03 L561.50,446.21 L562.00,446.40 L562.50,446.59 L563.00,446.78 L563.50,446.97 L564.00,447.16 L564.50,447.35 L565.00,447.54 L565.50,447.74 L566.00,447.93 L566.50,448.13 L567.00,448.33 L567.50,448.52 L568.00,448.72 L568.50,448.92 L569.00,449.12 L569.50,449.31 L570.00,449.51 L570.50,449.71 L571.00,449.91 L571.50,450.10 L572.00,450.30 L572.50,450.50 L573.00,450.69 L573.50,450.89 L574.00,451.08 L574.50,451.27 L575.00,451.47 L575.50,451.66 L576.00,451.85 L576.50,452.04 L577.00,452.23 L577.50,452.41 L578.00,452.60 L578.50,452.79 L579.00,452.97 L579.50,453.15 L580.00,453.33 L580.50,453.51 L581.00,453.69 L581.50,453.86 L582.00,454.04 L582.50,454.21 L583.00,454.38 L583.50,454.55 L584.00,454.71 L584.50,454.88 L585.00,455.04 L585.50,455.20 L586.00,455.36 L586.50,455.52 L587.00,455.67 L587.50,455.82 L588.00,455.98 L588.50,456.12 L589.00,456.27 L589.50,456.42 L590.00,456.56 L590.50,456.70 L591.00,456.84 L591.50,456.97 L592.00,457.11 L592.50,457.24 L593.00,457.37 L593.50,457.50 L594.00,457.62 L594.50,457.75 L595.00,457.87 L595.50,457.99 L596.00,458.11 L596.50,458.22 L597.00,458.33 L597.50,458.44 L598.00,458.55 L598.50,458.66 L599.00,458.77 L599.50,458.87 L600.00,458.97 L600.50,459.07 L601.00,459.17 L601.50,459.26 L602.00,459.35 L602.50,459.45 L603.00,459.54 L603.50,459.63 L604.00,459.71 L604.50,459.80 L605.00,459.88 L605.50,459.96 L606.00,460.05 L606.50,460.12 L607.00,460.20 L607.50,460.28 L608.00,460.35 L608.50,460.43 L609.00,460.50 L609.50,460.57 L610.00,460.64 L610.50,460.71 L611.00,460.77 L611.50,460.84 L612.00,460.90 L612.50,460.96 L613.00,461.03 L613.50,461.09 L614.00,461.15 L614.50,461.20 L615.00,461.26 L615.50,461.32 L616.00,461.37 L616.50,461.43 L617.00,461.48 L617.50,461.53 L618.00,461.58 L618.50,461.63 L619.00,461.68 L619.50,461.73 L620.00,461.78 L620.50,461.83 L621.00,461.87 L621.50,461.92 L622.00,461.96 L622.50,462.01 L623.00,462.05 L623.50,462.09 L624.00,462.14 L624.50,462.18 L625.00,462.22 L625.50,462.26 L626.00,462.30 L626.50,462.34 L627.00,462.37 L627.50,462.41 L628.00,462.45 L628.50,462.49 L629.00,462.52 L629.50,462.56 L630.00,462.59 L630.50,462.63 L631.00,462.66 L631.50,462.70 L632.00,462.73 L632.50,462.76 L633.00,462.80 L633.50,462.83 L634.00,462.86 L634.50,462.89 L635.00,462.93 L635.50,462.96 L636.00,462.99 L636.50,463.02 L637.00,463.05 L637.50,463.08 L638.00,463.11 L638.50,463.14 L639.00,463.17 L639.50,463.20 L640.00,463.22 L640.50,463.25 L641.00,463.28 L641.50,463.31 L642.00,463.34 L642.50,463.37 L643.00,463.39 L643.50,463.42 L644.00,463.45 L644.50,463.48 L645.00,463.51 L645.50,463.53 L646.00,463.56 L646.50,463.59 L647.00,463.62 L647.50,463.64 L648.00,463.67 L648.50,463.70 L649.00,463.73 L649.50,463.75 L650.00,463.78 L650.50,463.81 L651.00,463.84 L651.50,463.86 L652.00,463.89 L652.50,463.92 L653.00,463.95 L653.50,463.97 L654.00,464.00 L654.50,464.03 L655.00,464.05" fill="none" stroke="#147814" stroke-width="1.0" stroke-linejoin="round" stroke-linecap="round"/>
<path d="M399.20,458.00 L401.60,456.30 L404.30,454.50 L406.00,454.80 L407.80,454.20 L410.40,453.70 L412.50,456.00 L414.80,458.00 L416.50,457.80 L418.30,456.30 L420.90,453.60 L421.00,452.74 L421.50,452.71 L422.00,452.67 L422.50,452.63 L423.00,452.60 L423.50,452.56 L424.00,452.52 L424.50,452.48 L425.00,452.43 L425.50,452.39 L426.00,452.34 L426.50,452.30 L427.00,452.25 L427.50,452.20 L428.00,452.15 L428.50,452.09 L429.00,452.04 L429.50,451.98 L430.00,451.92 L430.50,451.86 L431.00,451.80 L431.50,451.73 L432.00,451.66 L432.50,451.59 L433.00,451.51 L433.50,451.43 L434.00,451.35 L434.50,451.26 L435.00,451.17 L435.50,451.08 L436.00,450.98 L436.50,450.87 L437.00,450.76 L437.50,450.65 L438.00,450.52 L438.50,450.40 L439.00,450.26 L439.50,450.12 L440.00,449.97 L440.50,449.81 L441.00,449.65 L441.50,449.48 L442.00,449.29 L442.50,449.10 L443.00,448.89 L443.50,448.68 L444.00,448.45 L444.50,448.21 L445.00,447.96 L445.50,447.69 L446.00,447.41 L446.50,447.11 L447.00,446.79 L447.50,446.46 L448.00,446.12 L448.50,445.75 L449.00,445.36 L449.50,444.95 L450.00,444.52 L450.50,444.07 L451.00,443.60 L451.50,443.10 L452.00,442.57 L452.50,442.02 L453.00,441.44 L453.50,440.83 L454.00,440.19 L454.50,439.52 L455.00,438.82 L455.50,438.09 L456.00,437.32 L456.50,436.52 L457.00,435.68 L457.50,434.80 L458.00,433.89 L458.50,432.93 L459.00,431.94 L459.50,430.90 L460.00,429.83 L460.50,428.71 L461.00,427.55 L461.50,426.34 L462.00,425.09 L462.50,423.80 L463.00,422.47 L463.50,421.08 L464.00,419.66 L464.50,418.18 L465.00,416.66 L465.50,415.10 L466.00,413.48 L466.50,411.82 L467.00,410.11 L467.50,408.35 L468.00,406.55 L468.50,404.70 L469.00,402.81 L469.50,400.86 L470.00,398.88 L470.50,396.85 L471.00,394.78 L471.50,392.67 L472.00,390.51 L472.50,388.32 L473.00,386.09 L473.50,383.83 L474.00,381.53 L474.50,379.20 L475.00,376.84 L475.50,374.46 L476.00,372.05 L476.50,369.62 L477.00,367.17 L477.50,364.71 L478.00,362.23 L478.50,359.74 L479.00,357.26 L479.50,354.77 L480.00,352.29 L480.50,349.82 L481.00,347.36 L481.50,344.92 L482.00,342.49 L482.50,340.10 L483.00,337.73 L483.50,335.40 L484.00,333.10 L484.50,330.85 L485.00,328.65 L485.50,326.50 L486.00,324.41 L486.50,322.38 L487.00,320.42 L487.50,318.53 L488.00,316.72 L488.50,314.99 L489.00,313.35 L489.50,311.80 L490.00,310.35 L490.50,309.00 L491.00,307.76 L491.50,306.63 L492.00,305.60 L492.50,304.70 L493.00,303.92 L493.50,303.25 L494.00,302.72 L494.50,302.31 L495.00,302.03 L495.50,301.88 L496.00,301.86 L496.50,301.98 L497.00,302.23 L497.50,302.62 L498.00,303.13 L498.50,303.78 L499.00,304.56 L499.50,305.45 L500.00,306.48 L500.50,307.61 L501.00,308.87 L501.50,310.23 L502.00,311.70 L502.50,313.27 L503.00,314.94 L503.50,316.70 L504.00,318.55 L504.50,320.48 L505.00,322.48 L505.50,324.56 L506.00,326.70 L506.50,328.90 L507.00,331.15 L507.50,333.46 L508.00,335.81 L508.50,338.20 L509.00,340.62 L509.50,343.07 L510.00,345.54 L510.50,348.03 L511.00,350.55 L511.50,353.08 L512.00,355.61 L512.50,358.16 L513.00,360.71 L513.50,363.25 L514.00,365.79 L514.50,368.32 L515.00,370.84 L515.50,373.34 L516.00,375.82 L516.50,378.29 L517.00,380.73 L517.50,383.14 L518.00,385.52 L518.50,387.87 L519.00,390.19 L519.50,392.47 L520.00,394.71 L520.50,396.92 L521.00,399.08 L521.50,401.20 L522.00,403.28 L522.50,405.31 L523.00,407.30 L523.50,409.24 L524.00,411.14 L524.50,412.98 L525.00,414.78 L525.50,416.53 L526.00,418.23 L526.50,419.89 L527.00,421.49 L527.50,423.04 L528.00,424.55 L528.50,426.01 L529.00,427.42 L529.50,428.78 L530.00,430.10 L530.50,431.37 L531.00,432.59 L531.50,433.77 L532.00,434.91 L532.50,436.00 L533.00,437.05 L533.50,438.06 L534.00,439.03 L534.50,439.96 L535.00,440.85 L535.50,441.70 L536.00,442.52 L536.50,443.30 L537.00,444.05 L537.50,444.76 L538.00,445.44 L538.50,446.09 L539.00,446.71 L539.50,447.30 L540.00,447.87 L540.50,448.41 L541.00,448.92 L541.50,449.40 L542.00,449.87 L542.50,450.31 L543.00,450.72 L543.50,451.12 L544.00,451.50 L544.50,451.86 L545.00,452.20 L545.50,452.52 L546.00,452.82 L546.50,453.11 L547.00,453.39 L547.50,453.65 L548.00,453.90 L548.50,454.13 L549.00,454.36 L549.50,454.57 L550.00,454.77 L550.50,454.96 L551.00,455.14 L551.50,455.31 L552.00,455.47 L552.50,455.63 L553.00,455.78 L553.50,455.92 L554.00,456.05 L554.50,456.18 L555.00,456.30 L555.50,456.41 L556.00,456.52 L556.50,456.63 L557.00,456.73 L557.50,456.83 L558.00,456.92 L558.50,457.01 L559.00,457.09 L559.50,457.18 L560.00,457.25 L560.50,457.33 L561.00,457.40 L561.50,457.47 L562.00,457.54 L562.50,457.61 L563.00,457.67 L563.50,457.73 L564.00,457.79 L564.50,457.85 L565.00,457.91 L565.50,457.97 L566.00,458.02 L566.50,458.07 L567.00,458.12 L567.50,458.18 L568.00,458.23 L568.50,458.27 L569.00,458.32 L569.50,458.37 L570.00,458.42 L570.50,458.46 L571.00,458.51 L571.50,458.55 L572.00,458.60 L572.50,458.64 L573.00,458.68 L573.50,458.73 L574.00,458.77 L574.50,458.81 L575.00,458.85 L575.50,458.89 L576.00,458.93 L576.50,458.97 L577.00,459.01 L577.50,459.05 L578.00,459.09 L578.50,459.13 L579.00,459.17 L579.50,459.21 L580.00,459.24 L580.50,459.28 L581.00,459.32 L581.50,459.35 L582.00,459.39 L582.50,459.43 L583.00,459.46 L583.50,459.50 L584.00,459.54 L584.50,459.57 L585.00,459.61 L585.50,459.64 L586.00,459.68 L586.50,459.71 L587.00,459.75 L587.50,459.78 L588.00,459.82 L588.50,459.85 L589.00,459.88 L589.50,459.92 L590.00,459.95 L590.50,459.98 L591.00,460.02 L591.50,460.05 L592.00,460.08 L592.50,460.11 L593.00,460.15 L593.50,460.18 L594.00,460.21 L594.50,460.24 L595.00,460.27 L595.50,460.30 L596.00,460.34 L596.50,460.37 L597.00,460.40 L597.50,460.43 L598.00,460.46 L598.50,460.49 L599.00,460.52 L599.50,460.55 L600.00,460.58 L600.50,460.61 L601.00,460.63 L601.50,460.66 L602.00,460.69 L602.50,460.72 L603.00,460.75 L603.50,460.78 L604.00,460.81 L604.50,460.84 L605.00,460.87 L605.50,460.90 L606.00,460.93 L606.50,460.95 L607.00,460.98 L607.50,461.01 L608.00,461.04 L608.50,461.07 L609.00,461.10 L609.50,461.13 L610.00,461.16 L610.50,461.19 L611.00,461.21 L611.50,461.24 L612.00,461.27 L612.50,461.30 L613.00,461.33 L613.50,461.36 L614.00,461.39 L614.50,461.42 L615.00,461.44 L615.50,461.47 L616.00,461.50 L616.50,461.53 L617.00,461.56 L617.50,461.59 L618.00,461.62 L618.50,461.64 L619.00,461.67 L619.50,461.70 L620.00,461.73 L620.50,461.76 L621.00,461.79 L621.50,461.81 L622.00,461.84 L622.50,461.87 L623.00,461.90 L623.50,461.93 L624.00,461.96 L624.50,461.98 L625.00,462.01 L625.50,462.04 L626.00,462.07 L626.50,462.10 L627.00,462.13 L627.50,462.15 L628.00,462.18 L628.50,462.21 L629.00,462.24 L629.50,462.27 L630.00,462.29 L630.50,462.32 L631.00,462.35 L631.50,462.38 L632.00,462.41 L632.50,462.43 L633.00,462.46 L633.50,462.49 L634.00,462.52 L634.50,462.54 L635.00,462.57 L635.50,462.60 L636.00,462.63 L636.50,462.65 L637.00,462.68 L637.50,462.71 L638.00,462.73 L638.50,462.76 L639.00,462.79 L639.50,462.82 L640.00,462.84 L640.50,462.87 L641.00,462.90 L641.50,462.92 L642.00,462.95 L642.50,462.98 L643.00,463.01 L643.50,463.03 L644.00,463.06 L644.50,463.09 L645.00,463.12 L645.50,463.14 L646.00,463.17 L646.50,463.20 L647.00,463.23 L647.50,463.26 L648.00,463.28 L648.50,463.31 L649.00,463.34 L649.50,463.37 L650.00,463.40 L650.50,463.42 L651.00,463.45 L651.50,463.48 L652.00,463.51 L652.50,463.54 L653.00,463.56 L653.50,463.59 L654.00,463.62 L654.50,463.65 L655.00,463.68" fill="none" stroke="#e31212" stroke-width="1.0" stroke-linejoin="round" stroke-linecap="round"/>
<path d="M399.20,458.00 C399.60,457.72 400.75,456.88 401.60,456.30 C402.45,455.72 403.57,454.75 404.30,454.50 C405.03,454.25 405.42,454.85 406.00,454.80 C406.58,454.75 407.07,454.38 407.80,454.20 C408.53,454.02 409.62,453.40 410.40,453.70 C411.18,454.00 411.77,455.28 412.50,456.00 C413.23,456.72 414.13,457.70 414.80,458.00 C415.47,458.30 415.92,458.08 416.50,457.80 C417.08,457.52 417.57,457.00 418.30,456.30 C419.03,455.60 420.12,453.85 420.90,453.60 C421.68,453.35 422.27,454.53 423.00,454.80 C423.73,455.07 424.18,455.28 425.30,455.20 C426.42,455.12 428.42,454.92 429.70,454.30 C430.98,453.68 431.98,452.45 433.00,451.50 C434.02,450.55 434.80,449.27 435.80,448.60 C436.80,447.93 437.82,447.85 439.00,447.50 C440.18,447.15 441.83,446.53 442.90,446.50 C443.97,446.47 444.55,447.88 445.40,447.30 C446.25,446.72 447.27,444.13 448.00,443.00 C448.73,441.87 448.92,441.20 449.80,440.50 C450.68,439.80 452.13,439.67 453.30,438.80 C454.47,437.93 455.63,437.75 456.80,435.30 C457.97,432.85 458.70,428.02 460.30,424.10 C461.90,420.18 464.35,417.93 466.40,411.80 C468.45,405.67 470.22,397.87 472.60,387.30 C474.98,376.73 477.98,361.68 480.70,348.40 C483.42,335.12 486.68,316.28 488.90,307.60 C491.12,298.92 492.30,298.28 494.00,296.30 C495.70,294.32 497.57,295.18 499.10,295.70 C500.63,296.22 501.48,294.02 503.20,299.40 C504.92,304.78 507.02,315.73 509.40,328.00 C511.78,340.27 515.48,362.83 517.50,373.00 C519.52,383.17 520.22,384.50 521.50,389.00 C522.78,393.50 523.95,396.27 525.20,400.00 C526.45,403.73 527.42,408.23 529.00,411.40 C530.58,414.57 532.80,416.47 534.70,419.00 C536.60,421.53 538.82,424.87 540.40,426.60 C541.98,428.33 542.77,428.78 544.20,429.40 C545.63,430.02 547.42,430.20 549.00,430.30 C550.58,430.40 552.37,430.12 553.70,430.00 C555.03,429.88 555.75,429.85 557.00,429.60 C558.25,429.35 559.87,428.83 561.20,428.50 C562.53,428.17 563.42,428.40 565.00,427.60 C566.58,426.80 569.37,424.55 570.70,423.70 C572.03,422.85 572.05,423.13 573.00,422.50 C573.95,421.87 575.40,420.40 576.40,419.90 C577.40,419.40 578.05,420.13 579.00,419.50 C579.95,418.87 580.95,416.50 582.10,416.10 C583.25,415.70 584.70,417.32 585.90,417.10 C587.10,416.88 588.03,414.17 589.30,414.80 C590.57,415.43 592.22,419.63 593.50,420.90 C594.78,422.17 595.73,421.77 597.00,422.40 C598.27,423.03 599.77,423.70 601.10,424.70 C602.43,425.70 603.73,427.13 605.00,428.40 C606.27,429.67 607.53,431.07 608.70,432.30 C609.87,433.53 610.73,434.53 612.00,435.80 C613.27,437.07 614.97,438.45 616.30,439.90 C617.63,441.35 618.73,443.08 620.00,444.50 C621.27,445.92 622.73,447.32 623.90,448.40 C625.07,449.48 626.00,450.18 627.00,451.00 C628.00,451.82 628.90,452.63 629.90,453.30 C630.90,453.97 632.12,454.50 633.00,455.00 C633.88,455.50 634.45,455.52 635.20,456.30 C635.95,457.08 636.75,458.68 637.50,459.70 C638.25,460.72 638.78,461.77 639.70,462.40 C640.62,463.03 641.85,463.18 643.00,463.50 C644.15,463.82 645.43,464.08 646.60,464.30 C647.77,464.52 648.73,464.67 650.00,464.80 C651.27,464.93 652.87,464.73 654.20,465.10 C655.53,465.47 657.00,467.00 658.00,467.00 C659.00,467.00 659.32,465.10 660.20,465.10 C661.08,465.10 662.35,466.88 663.30,467.00 C664.25,467.12 665.02,465.62 665.90,465.80 C666.78,465.98 667.58,467.97 668.60,468.10 C669.62,468.23 671.43,466.85 672.00,466.60" fill="none" stroke="#1a1a1a" stroke-width="1.0" stroke-linejoin="round" stroke-linecap="round" />
<path d="M421.00,455.38 L421.50,455.38 L422.00,455.38 L422.50,455.38 L423.00,455.38 L423.50,455.38 L424.00,455.38 L424.50,455.38 L425.00,455.38 L425.50,455.38 L426.00,455.38 L426.50,455.38 L427.00,455.38 L427.50,455.38 L428.00,455.38 L428.50,455.38 L429.00,455.38 L429.50,455.38 L430.00,455.38 L430.50,455.38 L431.00,455.38 L431.50,455.38 L432.00,455.38 L432.50,455.38 L433.00,455.38 L433.50,455.38 L434.00,455.38 L434.50,455.38 L435.00,455.38 L435.50,455.38 L436.00,455.38 L436.50,455.38 L437.00,455.38 L437.50,455.38 L438.00,455.38 L438.50,455.38 L439.00,455.38 L439.50,455.38 L440.00,455.38 L440.50,455.38 L441.00,455.38 L441.50,455.38 L442.00,455.38 L442.50,455.38 L443.00,455.38 L443.50,455.38 L444.00,455.38 L444.50,455.38 L445.00,455.38 L445.50,455.38 L446.00,455.38 L446.50,455.38 L447.00,455.38 L447.50,455.38 L448.00,455.38 L448.50,455.38 L449.00,455.38 L449.50,455.37 L450.00,455.37 L450.50,455.37 L451.00,455.37 L451.50,455.37 L452.00,455.37 L452.50,455.37 L453.00,455.37 L453.50,455.37 L454.00,455.37 L454.50,455.37 L455.00,455.37 L455.50,455.37 L456.00,455.37 L456.50,455.37 L457.00,455.37 L457.50,455.37 L458.00,455.37 L458.50,455.37 L459.00,455.37 L459.50,455.37 L460.00,455.37 L460.50,455.37 L461.00,455.37 L461.50,455.38 L462.00,455.39 L462.50,455.40 L463.00,455.41 L463.50,455.42 L464.00,455.43 L464.50,455.45 L465.00,455.47 L465.50,455.48 L466.00,455.50 L466.50,455.53 L467.00,455.55 L467.50,455.57 L468.00,455.60 L468.50,455.63 L469.00,455.65 L469.50,455.68 L470.00,455.71 L470.50,455.74 L471.00,455.77 L471.50,455.81 L472.00,455.84 L472.50,455.87 L473.00,455.91 L473.50,455.94 L474.00,455.97 L474.50,456.01 L475.00,456.05 L475.50,456.08 L476.00,456.12 L476.50,456.15 L477.00,456.19 L477.50,456.23 L478.00,456.26 L478.50,456.30 L479.00,456.34 L479.50,456.38 L480.00,456.43 L480.50,456.48 L481.00,456.54 L481.50,456.59 L482.00,456.65 L482.50,456.71 L483.00,456.77 L483.50,456.84 L484.00,456.90 L484.50,456.97 L485.00,457.04 L485.50,457.11 L486.00,457.18 L486.50,457.25 L487.00,457.32 L487.50,457.40 L488.00,457.47 L488.50,457.55 L489.00,457.62 L489.50,457.69 L490.00,457.77 L490.50,457.84 L491.00,457.91 L491.50,457.98 L492.00,458.05 L492.50,458.12 L493.00,458.19 L493.50,458.26 L494.00,458.32 L494.50,458.38 L495.00,458.44 L495.50,458.50 L496.00,458.57 L496.50,458.63 L497.00,458.70 L497.50,458.76 L498.00,458.83 L498.50,458.90 L499.00,458.96 L499.50,459.03 L500.00,459.10 L500.50,459.17 L501.00,459.24 L501.50,459.30 L502.00,459.37 L502.50,459.43 L503.00,459.50 L503.50,459.56 L504.00,459.61 L504.50,459.67 L505.00,459.73 L505.50,459.78 L506.00,459.83 L506.50,459.87 L507.00,459.91 L507.50,459.95 L508.00,459.99 L508.50,460.02 L509.00,460.04 L509.50,460.06 L510.00,460.08 L510.50,460.09 L511.00,460.10 L511.50,460.12 L512.00,460.13 L512.50,460.14 L513.00,460.15 L513.50,460.15 L514.00,460.16 L514.50,460.17 L515.00,460.17 L515.50,460.18 L516.00,460.18 L516.50,460.18 L517.00,460.19 L517.50,460.19 L518.00,460.18 L518.50,460.18 L519.00,460.18 L519.50,460.17 L520.00,460.17 L520.50,460.16 L521.00,460.15 L521.50,460.14 L522.00,460.13 L522.50,460.12 L523.00,460.10 L523.50,460.09 L524.00,460.07 L524.50,460.05 L525.00,460.03 L525.50,460.00 L526.00,459.98 L526.50,459.95 L527.00,459.92 L527.50,459.88 L528.00,459.85 L528.50,459.81 L529.00,459.77 L529.50,459.73 L530.00,459.68 L530.50,459.63 L531.00,459.58 L531.50,459.53 L532.00,459.47 L532.50,459.40 L533.00,459.34 L533.50,459.27 L534.00,459.20 L534.50,459.12 L535.00,459.04 L535.50,458.95 L536.00,458.86 L536.50,458.77 L537.00,458.67 L537.50,458.57 L538.00,458.46 L538.50,458.34 L539.00,458.22 L539.50,458.10 L540.00,457.97 L540.50,457.83 L541.00,457.69 L541.50,457.54 L542.00,457.39 L542.50,457.23 L543.00,457.06 L543.50,456.88 L544.00,456.70 L544.50,456.51 L545.00,456.31 L545.50,456.11 L546.00,455.90 L546.50,455.68 L547.00,455.45 L547.50,455.22 L548.00,454.98 L548.50,454.73 L549.00,454.47 L549.50,454.20 L550.00,453.93 L550.50,453.64 L551.00,453.35 L551.50,453.05 L552.00,452.74 L552.50,452.42 L553.00,452.10 L553.50,451.76 L554.00,451.42 L554.50,451.07 L555.00,450.71 L555.50,450.34 L556.00,449.97 L556.50,449.58 L557.00,449.19 L557.50,448.79 L558.00,448.39 L558.50,447.97 L559.00,447.55 L559.50,447.12 L560.00,446.68 L560.50,446.24 L561.00,445.79 L561.50,445.34 L562.00,444.87 L562.50,444.41 L563.00,443.93 L563.50,443.46 L564.00,442.98 L564.50,442.49 L565.00,442.00 L565.50,441.51 L566.00,441.01 L566.50,440.51 L567.00,440.01 L567.50,439.50 L568.00,439.00 L568.50,438.49 L569.00,437.99 L569.50,437.48 L570.00,436.98 L570.50,436.48 L571.00,435.98 L571.50,435.48 L572.00,434.98 L572.50,434.49 L573.00,434.00 L573.50,433.52 L574.00,433.04 L574.50,432.57 L575.00,432.10 L575.50,431.65 L576.00,431.19 L576.50,430.75 L577.00,430.32 L577.50,429.89 L578.00,429.48 L578.50,429.07 L579.00,428.68 L579.50,428.30 L580.00,427.93 L580.50,427.57 L581.00,427.23 L581.50,426.90 L582.00,426.59 L582.50,426.28 L583.00,426.00 L583.50,425.73 L584.00,425.48 L584.50,425.24 L585.00,425.02 L585.50,424.81 L586.00,424.63 L586.50,424.46 L587.00,424.31 L587.50,424.18 L588.00,424.06 L588.50,423.97 L589.00,423.89 L589.50,423.84 L590.00,423.80 L590.50,423.78 L591.00,423.78 L591.50,423.80 L592.00,423.84 L592.50,423.90 L593.00,423.98 L593.50,424.08 L594.00,424.19 L594.50,424.33 L595.00,424.48 L595.50,424.66 L596.00,424.85 L596.50,425.05 L597.00,425.28 L597.50,425.52 L598.00,425.78 L598.50,426.06 L599.00,426.35 L599.50,426.66 L600.00,426.98 L600.50,427.32 L601.00,427.67 L601.50,428.04 L602.00,428.42 L602.50,428.81 L603.00,429.22 L603.50,429.63 L604.00,430.06 L604.50,430.50 L605.00,430.95 L605.50,431.41 L606.00,431.88 L606.50,432.36 L607.00,432.84 L607.50,433.33 L608.00,433.83 L608.50,434.34 L609.00,434.85 L609.50,435.36 L610.00,435.88 L610.50,436.40 L611.00,436.93 L611.50,437.46 L612.00,437.99 L612.50,438.52 L613.00,439.05 L613.50,439.59 L614.00,440.12 L614.50,440.65 L615.00,441.18 L615.50,441.71 L616.00,442.24 L616.50,442.77 L617.00,443.29 L617.50,443.81 L618.00,444.32 L618.50,444.84 L619.00,445.34 L619.50,445.84 L620.00,446.34 L620.50,446.83 L621.00,447.32 L621.50,447.80 L622.00,448.27 L622.50,448.73 L623.00,449.19 L623.50,449.65 L624.00,450.09 L624.50,450.53 L625.00,450.96 L625.50,451.38 L626.00,451.79 L626.50,452.20 L627.00,452.60 L627.50,452.99 L628.00,453.37 L628.50,453.74 L629.00,454.10 L629.50,454.46 L630.00,454.81 L630.50,455.15 L631.00,455.48 L631.50,455.80 L632.00,456.11 L632.50,456.42 L633.00,456.72 L633.50,457.01 L634.00,457.29 L634.50,457.56 L635.00,457.83 L635.50,458.09 L636.00,458.34 L636.50,458.58 L637.00,458.81 L637.50,459.04 L638.00,459.26 L638.50,459.47 L639.00,459.68 L639.50,459.88 L640.00,460.07 L640.50,460.26 L641.00,460.44 L641.50,460.61 L642.00,460.78 L642.50,460.95 L643.00,461.10 L643.50,461.25 L644.00,461.40 L644.50,461.54 L645.00,461.68 L645.50,461.81 L646.00,461.94 L646.50,462.06 L647.00,462.18 L647.50,462.29 L648.00,462.40 L648.50,462.50 L649.00,462.61 L649.50,462.70 L650.00,462.80 L650.50,462.89 L651.00,462.98 L651.50,463.06 L652.00,463.14 L652.50,463.22 L653.00,463.30 L653.50,463.37 L654.00,463.44 L654.50,463.51 L655.00,463.58 L658.00,467.00 L660.20,465.10 L663.30,467.00 L665.90,465.80 L668.60,468.10 L672.00,466.60" fill="none" stroke="#2424d6" stroke-width="1.0" stroke-linejoin="round" stroke-linecap="round"/>
<rect x="38.3" y="529.1" width="272.7" height="199.89999999999998" fill="none" stroke="#3a3a3a" stroke-width="1.3"/>
<line x1="311.00" y1="729" x2="311.00" y2="733" stroke="#3a3a3a" stroke-width="1.3"/>
<line x1="283.73" y1="729" x2="283.73" y2="731" stroke="#3a3a3a" stroke-width="1.3"/>
<line x1="256.46" y1="729" x2="256.46" y2="733" stroke="#3a3a3a" stroke-width="1.3"/>
<line x1="229.19" y1="729" x2="229.19" y2="731" stroke="#3a3a3a" stroke-width="1.3"/>
<line x1="201.92" y1="729" x2="201.92" y2="733" stroke="#3a3a3a" stroke-width="1.3"/>
<line x1="174.65" y1="729" x2="174.65" y2="731" stroke="#3a3a3a" stroke-width="1.3"/>
<line x1="147.38" y1="729" x2="147.38" y2="733" stroke="#3a3a3a" stroke-width="1.3"/>
<line x1="120.11" y1="729" x2="120.11" y2="731" stroke="#3a3a3a" stroke-width="1.3"/>
<line x1="92.84" y1="729" x2="92.84" y2="733" stroke="#3a3a3a" stroke-width="1.3"/>
<line x1="65.57" y1="729" x2="65.57" y2="731" stroke="#3a3a3a" stroke-width="1.3"/>
<line x1="38.30" y1="729" x2="38.30" y2="733" stroke="#3a3a3a" stroke-width="1.3"/>
<text transform="translate(311.00,746.5) scale(0.94,1)" font-size="13.6" fill="#111" stroke="#111" stroke-width="0.3" text-anchor="middle" >386</text>
<text transform="translate(256.46,746.5) scale(0.94,1)" font-size="13.6" fill="#111" stroke="#111" stroke-width="0.3" text-anchor="middle" >388</text>
<text transform="translate(201.92,746.5) scale(0.94,1)" font-size="13.6" fill="#111" stroke="#111" stroke-width="0.3" text-anchor="middle" >390</text>
<text transform="translate(147.38,746.5) scale(0.94,1)" font-size="13.6" fill="#111" stroke="#111" stroke-width="0.3" text-anchor="middle" >392</text>
<text transform="translate(92.84,746.5) scale(0.94,1)" font-size="13.6" fill="#111" stroke="#111" stroke-width="0.3" text-anchor="middle" >394</text>
<text transform="translate(38.30,746.5) scale(0.94,1)" font-size="13.6" fill="#111" stroke="#111" stroke-width="0.3" text-anchor="middle" >396</text>
<text x="174.65" y="768.3" font-size="12.95" fill="#111" stroke="#111" stroke-width="0.3" text-anchor="middle" >Binding Energy [eV]</text>
<text transform="translate(21.6,626.4) rotate(-90)" font-size="13.3" fill="#111" stroke="#111" stroke-width="0.3" text-anchor="middle">Counts [s]</text>
<rect x="399.2" y="529.3" width="272.3" height="200.0" fill="none" stroke="#3a3a3a" stroke-width="1.3"/>
<line x1="671.50" y1="729.3" x2="671.50" y2="733.3" stroke="#3a3a3a" stroke-width="1.3"/>
<line x1="644.27" y1="729.3" x2="644.27" y2="731.3" stroke="#3a3a3a" stroke-width="1.3"/>
<line x1="617.04" y1="729.3" x2="617.04" y2="733.3" stroke="#3a3a3a" stroke-width="1.3"/>
<line x1="589.81" y1="729.3" x2="589.81" y2="731.3" stroke="#3a3a3a" stroke-width="1.3"/>
<line x1="562.58" y1="729.3" x2="562.58" y2="733.3" stroke="#3a3a3a" stroke-width="1.3"/>
<line x1="535.35" y1="729.3" x2="535.35" y2="731.3" stroke="#3a3a3a" stroke-width="1.3"/>
<line x1="508.12" y1="729.3" x2="508.12" y2="733.3" stroke="#3a3a3a" stroke-width="1.3"/>
<line x1="480.89" y1="729.3" x2="480.89" y2="731.3" stroke="#3a3a3a" stroke-width="1.3"/>
<line x1="453.66" y1="729.3" x2="453.66" y2="733.3" stroke="#3a3a3a" stroke-width="1.3"/>
<line x1="426.43" y1="729.3" x2="426.43" y2="731.3" stroke="#3a3a3a" stroke-width="1.3"/>
<line x1="399.20" y1="729.3" x2="399.20" y2="733.3" stroke="#3a3a3a" stroke-width="1.3"/>
<text transform="translate(671.50,746.5) scale(0.94,1)" font-size="13.6" fill="#111" stroke="#111" stroke-width="0.3" text-anchor="middle" >386</text>
<text transform="translate(617.04,746.5) scale(0.94,1)" font-size="13.6" fill="#111" stroke="#111" stroke-width="0.3" text-anchor="middle" >388</text>
<text transform="translate(562.58,746.5) scale(0.94,1)" font-size="13.6" fill="#111" stroke="#111" stroke-width="0.3" text-anchor="middle" >390</text>
<text transform="translate(508.12,746.5) scale(0.94,1)" font-size="13.6" fill="#111" stroke="#111" stroke-width="0.3" text-anchor="middle" >392</text>
<text transform="translate(453.66,746.5) scale(0.94,1)" font-size="13.6" fill="#111" stroke="#111" stroke-width="0.3" text-anchor="middle" >394</text>
<text transform="translate(399.20,746.5) scale(0.94,1)" font-size="13.6" fill="#111" stroke="#111" stroke-width="0.3" text-anchor="middle" >396</text>
<text x="535.35" y="768.3" font-size="12.95" fill="#111" stroke="#111" stroke-width="0.3" text-anchor="middle" >Binding Energy [eV]</text>
<text transform="translate(382.6,626.4) rotate(-90)" font-size="13.3" fill="#111" stroke="#111" stroke-width="0.3" text-anchor="middle">Counts [s]</text>
<text transform="translate(2.20,568.8) scale(1.0,1)" font-size="36" fill="#2b2b2b">e</text>
<text transform="translate(23.90,568.8) scale(0.87,1)" font-size="37" fill="#2b2b2b">)</text>
<text transform="translate(362.40,568.8) scale(1.0,1)" font-size="36" fill="#2b2b2b">f</text>
<text transform="translate(377.00,568.8) scale(0.87,1)" font-size="37" fill="#2b2b2b">)</text>
<text transform="translate(126.6,544.5) scale(0.94,1)" font-size="11.7" fill="#f20000" stroke="#f20000" stroke-width="0.3" text-anchor="start" >N<tspan font-size="7.6" dy="3.1">2</tspan><tspan dx="0.4" dy="-3.1">C</tspan></text>
<text transform="translate(62.6,641) scale(0.94,1)" font-size="11.7" fill="#0000f0" stroke="#0000f0" stroke-width="0.3" text-anchor="start" >N-H<tspan font-size="7.6" dy="3.1">x</tspan></text>
<line x1="185.3" y1="538.8" x2="214.9" y2="538.8" stroke="#222" stroke-width="1.2"/>
<text x="307.5" y="544.3" font-size="12.9" fill="#111" stroke="#111" stroke-width="0.3" text-anchor="end" >N 1s bulk-gCN</text>
<text transform="translate(437.1,643) scale(0.94,1)" font-size="11.7" fill="#0000f0" stroke="#0000f0" stroke-width="0.3" text-anchor="start" >N-H<tspan font-size="7.6" dy="3.1">x</tspan></text>
<text transform="translate(554.2,580.7) scale(0.94,1)" font-size="11.7" fill="#f20000" stroke="#f20000" stroke-width="0.3" text-anchor="start" >N<tspan font-size="7.6" dy="3.1">2</tspan><tspan dx="0.4" dy="-3.1">C</tspan></text>
<text transform="translate(532.7,646.1) scale(0.94,1)" font-size="11.7" fill="#008000" stroke="#008000" stroke-width="0.3" text-anchor="start" >N<tspan font-size="7.6" dy="3.1">3</tspan><tspan dx="0.4" dy="-3.1">C</tspan></text>
<line x1="530.9" y1="540.8" x2="561.2" y2="540.8" stroke="#888" stroke-width="1.4"/>
<text x="668.6" y="545.5" font-size="12.9" fill="#111" stroke="#111" stroke-width="0.3" text-anchor="end" >N 1s fructose_6h</text>
<path d="M38.30,684.20 L38.80,684.20 L39.30,684.20 L39.80,684.20 L40.30,684.20 L40.80,684.20 L41.30,684.20 L41.80,684.20 L42.30,684.20 L42.80,684.20 L43.30,684.20 L43.80,684.20 L44.30,684.20 L44.80,684.20 L45.30,684.20 L45.80,684.20 L46.30,684.20 L46.80,684.20 L47.30,684.20 L47.80,684.20 L48.30,684.20 L48.80,684.20 L49.30,684.20 L49.80,684.20 L50.30,684.20 L50.80,684.20 L51.30,684.20 L51.80,684.20 L52.30,684.20 L52.80,684.20 L53.30,684.20 L53.80,684.20 L54.30,684.20 L54.80,684.20 L55.30,684.20 L55.80,684.20 L56.30,684.20 L56.80,684.20 L57.30,684.20 L57.80,684.20 L58.30,684.20 L58.80,684.20 L59.30,684.20 L59.80,684.20 L60.30,684.20 L60.80,684.20 L61.30,684.20 L61.80,684.20 L62.30,684.20 L62.80,684.20 L63.30,684.20 L63.80,684.20 L64.30,684.20 L64.80,684.20 L65.30,684.20 L65.80,684.20 L66.30,684.20 L66.80,684.20 L67.30,684.20 L67.80,684.20 L68.30,684.20 L68.80,684.21 L69.30,684.22 L69.80,684.23 L70.30,684.24 L70.80,684.25 L71.30,684.26 L71.80,684.28 L72.30,684.29 L72.80,684.31 L73.30,684.33 L73.80,684.35 L74.30,684.37 L74.80,684.39 L75.30,684.42 L75.80,684.44 L76.30,684.47 L76.80,684.50 L77.30,684.53 L77.80,684.55 L78.30,684.58 L78.80,684.61 L79.30,684.64 L79.80,684.68 L80.30,684.71 L80.80,684.74 L81.30,684.77 L81.80,684.81 L82.30,684.84 L82.80,684.88 L83.30,684.91 L83.80,684.94 L84.30,684.98 L84.80,685.01 L85.30,685.05 L85.80,685.08 L86.30,685.12 L86.80,685.15 L87.30,685.19 L87.80,685.22 L88.30,685.25 L88.80,685.29 L89.30,685.32 L89.80,685.35 L90.30,685.38 L90.80,685.41 L91.30,685.44 L91.80,685.47 L92.30,685.50 L92.80,685.53 L93.30,685.56 L93.80,685.58 L94.30,685.61 L94.80,685.63 L95.30,685.65 L95.80,685.68 L96.30,685.70 L96.80,685.72 L97.30,685.73 L97.80,685.75 L98.30,685.77 L98.80,685.79 L99.30,685.81 L99.80,685.83 L100.30,685.85 L100.80,685.87 L101.30,685.88 L101.80,685.90 L102.30,685.92 L102.80,685.94 L103.30,685.96 L103.80,685.97 L104.30,685.99 L104.80,686.01 L105.30,686.02 L105.80,686.04 L106.30,686.06 L106.80,686.07 L107.30,686.09 L107.80,686.11 L108.30,686.12 L108.80,686.14 L109.30,686.15 L109.80,686.17 L110.30,686.18 L110.80,686.20 L111.30,686.21 L111.80,686.23 L112.30,686.24 L112.80,686.26 L113.30,686.27 L113.80,686.29 L114.30,686.30 L114.80,686.31 L115.30,686.33 L115.80,686.34 L116.30,686.35 L116.80,686.36 L117.30,686.38 L117.80,686.39 L118.30,686.40 L118.80,686.41 L119.30,686.42 L119.80,686.43 L120.30,686.44 L120.80,686.45 L121.30,686.45 L121.80,686.46 L122.30,686.47 L122.80,686.49 L123.30,686.50 L123.80,686.52 L124.30,686.54 L124.80,686.56 L125.30,686.58 L125.80,686.61 L126.30,686.64 L126.80,686.67 L127.30,686.70 L127.80,686.74 L128.30,686.78 L128.80,686.82 L129.30,686.86 L129.80,686.91 L130.30,686.96 L130.80,687.01 L131.30,687.06 L131.80,687.11 L132.30,687.16 L132.80,687.22 L133.30,687.28 L133.80,687.34 L134.30,687.40 L134.80,687.46 L135.30,687.53 L135.80,687.59 L136.30,687.66 L136.80,687.73 L137.30,687.80 L137.80,687.87 L138.30,687.95 L138.80,688.03 L139.30,688.13 L139.80,688.25 L140.30,688.37 L140.80,688.50 L141.30,688.63 L141.80,688.77 L142.30,688.92 L142.80,689.06 L143.30,689.21 L143.80,689.35 L144.30,689.50 L144.80,689.64 L145.30,689.77 L145.80,689.90 L146.30,690.01 L146.80,690.12 L147.30,690.22 L147.80,690.33 L148.30,690.43 L148.80,690.54 L149.30,690.64 L149.80,690.74 L150.30,690.85 L150.80,690.95 L151.30,691.05 L151.80,691.15 L152.30,691.25 L152.80,691.35 L153.30,691.45 L153.80,691.55 L154.30,691.65 L154.80,691.75 L155.30,691.85 L155.80,691.94 L156.30,692.04 L156.80,692.13 L157.30,692.22 L157.80,692.31 L158.30,692.40 L158.80,692.49 L159.30,692.58 L159.80,692.67 L160.30,692.75 L160.80,692.83 L161.30,692.91 L161.80,692.99 L162.30,693.07 L162.80,693.15 L163.30,693.22 L163.80,693.29 L164.30,693.36 L164.80,693.43 L165.30,693.50 L165.80,693.56 L166.30,693.62 L166.80,693.68 L167.30,693.74 L167.80,693.79 L168.30,693.84 L168.80,693.89 L169.30,693.94 L169.80,693.98 L170.30,694.02 L170.80,694.06 L171.30,694.10 L171.80,694.14 L172.30,694.17 L172.80,694.21 L173.30,694.24 L173.80,694.27 L174.30,694.30 L174.80,694.33 L175.30,694.36 L175.80,694.38 L176.30,694.41 L176.80,694.44 L177.30,694.46 L177.80,694.49 L178.30,694.51 L178.80,694.54 L179.30,694.56 L179.80,694.59 L180.30,694.62 L180.80,694.64 L181.30,694.67 L181.80,694.69 L182.30,694.72 L182.80,694.75 L183.30,694.78 L183.80,694.80 L184.30,694.83 L184.80,694.86 L185.30,694.89 L185.80,694.91 L186.30,694.94 L186.80,694.97 L187.30,695.00 L187.80,695.03 L188.30,695.06 L188.80,695.08 L189.30,695.11 L189.80,695.14 L190.30,695.17 L190.80,695.20 L191.30,695.22 L191.80,695.25 L192.30,695.28 L192.80,695.30 L193.30,695.33 L193.80,695.35 L194.30,695.38 L194.80,695.40 L195.30,695.43 L195.80,695.45 L196.30,695.48 L196.80,695.50 L197.30,695.52 L197.80,695.54 L198.30,695.56 L198.80,695.58 L199.30,695.60 L199.80,695.62 L200.30,695.64 L200.80,695.66 L201.30,695.67 L201.80,695.69 L202.30,695.70 L202.80,695.72 L203.30,695.73 L203.80,695.74 L204.30,695.75 L204.80,695.76 L205.30,695.77 L205.80,695.78 L206.30,695.79 L206.80,695.79 L207.30,695.80 L207.80,695.80 L208.30,695.80 L208.80,695.80 L209.30,695.80 L209.80,695.80 L210.30,695.80 L210.80,695.80 L211.30,695.80 L211.80,695.80 L212.30,695.80 L212.80,695.80 L213.30,695.80 L213.80,695.80 L214.30,695.80 L214.80,695.80 L215.30,695.80 L215.80,695.80 L216.30,695.80 L216.80,695.80 L217.30,695.80 L217.80,695.80 L218.30,695.80 L218.80,695.80 L219.30,695.80 L219.80,695.80 L220.30,695.80 L220.80,695.80 L221.30,695.80 L221.80,695.80 L222.30,695.80 L222.80,695.80 L223.30,695.80 L223.80,695.80 L224.30,695.80 L224.80,695.80 L225.30,695.80 L225.80,695.80 L226.30,695.80 L226.80,695.80 L227.30,695.80 L227.80,695.80 L228.30,695.80 L228.80,695.80 L229.30,695.80 L229.80,695.80 L230.30,695.80 L230.80,695.80 L231.30,695.80 L231.80,695.80 L232.30,695.80 L232.80,695.80 L233.30,695.80 L233.80,695.80 L234.30,695.80 L234.80,695.80 L235.30,695.80 L235.80,695.80 L236.30,695.80 L236.80,695.80 L237.30,695.80 L237.80,695.80 L238.30,695.80 L238.80,695.80 L239.30,695.80 L239.80,695.80 L240.30,695.80 L240.80,695.80 L241.30,695.80 L241.80,695.80 L242.30,695.80 L242.80,695.80 L243.30,695.80 L243.80,695.80 L244.30,695.80 L244.80,695.80 L245.30,695.80 L245.80,695.80 L246.30,695.80 L246.80,695.80 L247.30,695.80 L247.80,695.80 L248.30,695.80 L248.80,695.80 L249.30,695.80 L249.80,695.80 L250.30,695.80 L250.80,695.80 L251.30,695.80 L251.80,695.80 L252.30,695.80 L252.80,695.80 L253.30,695.80 L253.80,695.80 L254.30,695.80 L254.80,695.80 L255.30,695.80 L255.80,695.80 L256.30,695.80" fill="none" stroke="#1a1a1a" stroke-width="0.95" stroke-linejoin="round" stroke-linecap="round"/>
<path d="M38.30,683.71 L38.80,683.67 L39.30,683.64 L39.80,683.61 L40.30,683.57 L40.80,683.53 L41.30,683.49 L41.80,683.44 L42.30,683.40 L42.80,683.35 L43.30,683.30 L43.80,683.25 L44.30,683.19 L44.80,683.13 L45.30,683.07 L45.80,683.00 L46.30,682.94 L46.80,682.86 L47.30,682.79 L47.80,682.71 L48.30,682.63 L48.80,682.55 L49.30,682.46 L49.80,682.37 L50.30,682.27 L50.80,682.17 L51.30,682.06 L51.80,681.96 L52.30,681.84 L52.80,681.73 L53.30,681.60 L53.80,681.48 L54.30,681.34 L54.80,681.21 L55.30,681.07 L55.80,680.92 L56.30,680.77 L56.80,680.61 L57.30,680.45 L57.80,680.28 L58.30,680.10 L58.80,679.92 L59.30,679.74 L59.80,679.55 L60.30,679.35 L60.80,679.15 L61.30,678.94 L61.80,678.73 L62.30,678.51 L62.80,678.28 L63.30,678.05 L63.80,677.81 L64.30,677.56 L64.80,677.31 L65.30,677.06 L65.80,676.80 L66.30,676.53 L66.80,676.25 L67.30,675.98 L67.80,675.69 L68.30,675.40 L68.80,675.11 L69.30,674.82 L69.80,674.52 L70.30,674.22 L70.80,673.91 L71.30,673.61 L71.80,673.29 L72.30,672.98 L72.80,672.66 L73.30,672.34 L73.80,672.02 L74.30,671.70 L74.80,671.37 L75.30,671.04 L75.80,670.71 L76.30,670.38 L76.80,670.04 L77.30,669.71 L77.80,669.37 L78.30,669.04 L78.80,668.70 L79.30,668.36 L79.80,668.03 L80.30,667.69 L80.80,667.36 L81.30,667.02 L81.80,666.69 L82.30,666.36 L82.80,666.03 L83.30,665.71 L83.80,665.38 L84.30,665.07 L84.80,664.75 L85.30,664.44 L85.80,664.13 L86.30,663.83 L86.80,663.53 L87.30,663.24 L87.80,662.95 L88.30,662.67 L88.80,662.39 L89.30,662.12 L89.80,661.86 L90.30,661.61 L90.80,661.36 L91.30,661.13 L91.80,660.90 L92.30,660.68 L92.80,660.46 L93.30,660.26 L93.80,660.07 L94.30,659.88 L94.80,659.71 L95.30,659.55 L95.80,659.39 L96.30,659.25 L96.80,659.12 L97.30,659.00 L97.80,658.89 L98.30,658.79 L98.80,658.71 L99.30,658.64 L99.80,658.58 L100.30,658.54 L100.80,658.51 L101.30,658.49 L101.80,658.49 L102.30,658.50 L102.80,658.52 L103.30,658.55 L103.80,658.60 L104.30,658.66 L104.80,658.74 L105.30,658.83 L105.80,658.93 L106.30,659.04 L106.80,659.17 L107.30,659.31 L107.80,659.46 L108.30,659.62 L108.80,659.80 L109.30,659.98 L109.80,660.18 L110.30,660.39 L110.80,660.61 L111.30,660.84 L111.80,661.08 L112.30,661.33 L112.80,661.59 L113.30,661.86 L113.80,662.14 L114.30,662.43 L114.80,662.72 L115.30,663.03 L115.80,663.34 L116.30,663.66 L116.80,663.98 L117.30,664.31 L117.80,664.65 L118.30,664.99 L118.80,665.34 L119.30,665.69 L119.80,666.04 L120.30,666.40 L120.80,666.76 L121.30,667.13 L121.80,667.49 L122.30,667.87 L122.80,668.24 L123.30,668.62 L123.80,669.00 L124.30,669.39 L124.80,669.78 L125.30,670.17 L125.80,670.57 L126.30,670.96 L126.80,671.36 L127.30,671.76 L127.80,672.16 L128.30,672.56 L128.80,672.96 L129.30,673.36 L129.80,673.76 L130.30,674.16 L130.80,674.55 L131.30,674.95 L131.80,675.34 L132.30,675.73 L132.80,676.12 L133.30,676.51 L133.80,676.89 L134.30,677.27 L134.80,677.65 L135.30,678.02 L135.80,678.39 L136.30,678.76 L136.80,679.12 L137.30,679.48 L137.80,679.83 L138.30,680.18 L138.80,680.54 L139.30,680.90 L139.80,681.27 L140.30,681.64 L140.80,682.02 L141.30,682.39 L141.80,682.77 L142.30,683.14 L142.80,683.51 L143.30,683.87 L143.80,684.23 L144.30,684.58 L144.80,684.92 L145.30,685.24 L145.80,685.56 L146.30,685.85 L146.80,686.14 L147.30,686.41 L147.80,686.68 L148.30,686.94 L148.80,687.20 L149.30,687.45 L149.80,687.70 L150.30,687.94 L150.80,688.18 L151.30,688.41 L151.80,688.64 L152.30,688.86 L152.80,689.07 L153.30,689.28 L153.80,689.49 L154.30,689.69 L154.80,689.88 L155.30,690.07 L155.80,690.26 L156.30,690.44 L156.80,690.62 L157.30,690.79 L157.80,690.95 L158.30,691.12 L158.80,691.27 L159.30,691.43 L159.80,691.57 L160.30,691.72 L160.80,691.86 L161.30,691.99 L161.80,692.13 L162.30,692.25 L162.80,692.37 L163.30,692.49 L163.80,692.61 L164.30,692.72 L164.80,692.82 L165.30,692.93 L165.80,693.02 L166.30,693.12 L166.80,693.21 L167.30,693.29 L167.80,693.37 L168.30,693.45 L168.80,693.53 L169.30,693.60 L169.80,693.66 L170.30,693.72 L170.80,693.78 L171.30,693.84 L171.80,693.89 L172.30,693.94 L172.80,693.99 L173.30,694.04 L173.80,694.08 L174.30,694.13 L174.80,694.17 L175.30,694.21 L175.80,694.24 L176.30,694.28 L176.80,694.32 L177.30,694.35 L177.80,694.38 L178.30,694.42 L178.80,694.45 L179.30,694.48 L179.80,694.51 L180.30,694.54 L180.80,694.57 L181.30,694.61 L181.80,694.64 L182.30,694.67 L182.80,694.70 L183.30,694.73 L183.80,694.76 L184.30,694.79 L184.80,694.82 L185.30,694.85 L185.80,694.88 L186.30,694.91 L186.80,694.95 L187.30,694.98 L187.80,695.01 L188.30,695.04 L188.80,695.07 L189.30,695.10 L189.80,695.12 L190.30,695.15 L190.80,695.18 L191.30,695.21 L191.80,695.24 L192.30,695.27 L192.80,695.29 L193.30,695.32 L193.80,695.35 L194.30,695.37 L194.80,695.40 L195.30,695.42 L195.80,695.45 L196.30,695.47 L196.80,695.49 L197.30,695.52 L197.80,695.54 L198.30,695.56 L198.80,695.58 L199.30,695.60 L199.80,695.62 L200.30,695.64 L200.80,695.66 L201.30,695.67 L201.80,695.69 L202.30,695.70 L202.80,695.72 L203.30,695.73 L203.80,695.74 L204.30,695.75 L204.80,695.76 L205.30,695.77 L205.80,695.78 L206.30,695.78 L206.80,695.79 L207.30,695.79 L207.80,695.80 L208.30,695.80 L208.80,695.80 L209.30,695.80 L209.80,695.80 L210.30,695.80 L210.80,695.80 L211.30,695.80 L211.80,695.80 L212.30,695.80 L212.80,695.80 L213.30,695.80 L213.80,695.80 L214.30,695.80 L214.80,695.80 L215.30,695.80 L215.80,695.80 L216.30,695.80 L216.80,695.80 L217.30,695.80 L217.80,695.80 L218.30,695.80 L218.80,695.80 L219.30,695.80 L219.80,695.80 L220.30,695.80 L220.80,695.80 L221.30,695.80 L221.80,695.80 L222.30,695.80 L222.80,695.80 L223.30,695.80 L223.80,695.80 L224.30,695.80 L224.80,695.80 L225.30,695.80 L225.80,695.80 L226.30,695.80 L226.80,695.80 L227.30,695.80 L227.80,695.80 L228.30,695.80 L228.80,695.80 L229.30,695.80 L229.80,695.80 L230.30,695.80 L230.80,695.80 L231.30,695.80 L231.80,695.80 L232.30,695.80 L232.80,695.80 L233.30,695.80 L233.80,695.80 L234.30,695.80 L234.80,695.80 L235.30,695.80 L235.80,695.80 L236.30,695.80 L236.80,695.80 L237.30,695.80 L237.80,695.80 L238.30,695.80 L238.80,695.80 L239.30,695.80 L239.80,695.80" fill="none" stroke="#2424d6" stroke-width="1.0" stroke-linejoin="round" stroke-linecap="round"/>
<path d="M38.30,683.23 L38.80,683.22 L39.30,683.21 L39.80,683.20 L40.30,683.19 L40.80,683.18 L41.30,683.18 L41.80,683.17 L42.30,683.16 L42.80,683.15 L43.30,683.14 L43.80,683.13 L44.30,683.12 L44.80,683.11 L45.30,683.10 L45.80,683.09 L46.30,683.09 L46.80,683.08 L47.30,683.07 L47.80,683.06 L48.30,683.05 L48.80,683.04 L49.30,683.02 L49.80,683.01 L50.30,683.00 L50.80,682.99 L51.30,682.98 L51.80,682.97 L52.30,682.96 L52.80,682.95 L53.30,682.94 L53.80,682.93 L54.30,682.91 L54.80,682.90 L55.30,682.89 L55.80,682.88 L56.30,682.86 L56.80,682.85 L57.30,682.84 L57.80,682.83 L58.30,682.81 L58.80,682.80 L59.30,682.78 L59.80,682.77 L60.30,682.76 L60.80,682.74 L61.30,682.73 L61.80,682.71 L62.30,682.70 L62.80,682.68 L63.30,682.67 L63.80,682.65 L64.30,682.64 L64.80,682.62 L65.30,682.60 L65.80,682.59 L66.30,682.57 L66.80,682.55 L67.30,682.53 L67.80,682.52 L68.30,682.50 L68.80,682.49 L69.30,682.48 L69.80,682.47 L70.30,682.46 L70.80,682.45 L71.30,682.44 L71.80,682.44 L72.30,682.43 L72.80,682.43 L73.30,682.43 L73.80,682.42 L74.30,682.42 L74.80,682.42 L75.30,682.42 L75.80,682.42 L76.30,682.42 L76.80,682.42 L77.30,682.42 L77.80,682.42 L78.30,682.43 L78.80,682.43 L79.30,682.43 L79.80,682.43 L80.30,682.43 L80.80,682.43 L81.30,682.43 L81.80,682.43 L82.30,682.43 L82.80,682.42 L83.30,682.42 L83.80,682.41 L84.30,682.41 L84.80,682.40 L85.30,682.39 L85.80,682.37 L86.30,682.36 L86.80,682.35 L87.30,682.33 L87.80,682.31 L88.30,682.28 L88.80,682.26 L89.30,682.23 L89.80,682.19 L90.30,682.16 L90.80,682.12 L91.30,682.07 L91.80,682.02 L92.30,681.97 L92.80,681.91 L93.30,681.85 L93.80,681.78 L94.30,681.70 L94.80,681.62 L95.30,681.53 L95.80,681.44 L96.30,681.34 L96.80,681.23 L97.30,681.11 L97.80,680.99 L98.30,680.86 L98.80,680.72 L99.30,680.57 L99.80,680.42 L100.30,680.25 L100.80,680.08 L101.30,679.89 L101.80,679.69 L102.30,679.48 L102.80,679.26 L103.30,679.03 L103.80,678.79 L104.30,678.53 L104.80,678.25 L105.30,677.97 L105.80,677.66 L106.30,677.34 L106.80,677.00 L107.30,676.65 L107.80,676.28 L108.30,675.88 L108.80,675.47 L109.30,675.04 L109.80,674.59 L110.30,674.11 L110.80,673.61 L111.30,673.09 L111.80,672.55 L112.30,671.98 L112.80,671.38 L113.30,670.76 L113.80,670.10 L114.30,669.43 L114.80,668.72 L115.30,667.98 L115.80,667.21 L116.30,666.42 L116.80,665.59 L117.30,664.72 L117.80,663.83 L118.30,662.90 L118.80,661.94 L119.30,660.94 L119.80,659.90 L120.30,658.83 L120.80,657.73 L121.30,656.58 L121.80,655.41 L122.30,654.19 L122.80,652.94 L123.30,651.66 L123.80,650.34 L124.30,648.99 L124.80,647.60 L125.30,646.18 L125.80,644.72 L126.30,643.23 L126.80,641.70 L127.30,640.15 L127.80,638.56 L128.30,636.93 L128.80,635.28 L129.30,633.59 L129.80,631.87 L130.30,630.13 L130.80,628.35 L131.30,626.55 L131.80,624.72 L132.30,622.87 L132.80,620.99 L133.30,619.09 L133.80,617.17 L134.30,615.23 L134.80,613.28 L135.30,611.31 L135.80,609.33 L136.30,607.33 L136.80,605.33 L137.30,603.32 L137.80,601.30 L138.30,599.28 L138.80,597.28 L139.30,595.29 L139.80,593.32 L140.30,591.37 L140.80,589.43 L141.30,587.52 L141.80,585.62 L142.30,583.75 L142.80,581.91 L143.30,580.09 L143.80,578.30 L144.30,576.54 L144.80,574.81 L145.30,573.11 L145.80,571.45 L146.30,569.83 L146.80,568.25 L147.30,566.72 L147.80,565.25 L148.30,563.83 L148.80,562.48 L149.30,561.19 L149.80,559.98 L150.30,558.84 L150.80,557.77 L151.30,556.78 L151.80,555.88 L152.30,555.05 L152.80,554.32 L153.30,553.67 L153.80,553.11 L154.30,552.65 L154.80,552.27 L155.30,551.99 L155.80,551.81 L156.30,551.73 L156.80,551.74 L157.30,551.85 L157.80,552.05 L158.30,552.36 L158.80,552.75 L159.30,553.25 L159.80,553.84 L160.30,554.51 L160.80,555.29 L161.30,556.14 L161.80,557.09 L162.30,558.12 L162.80,559.23 L163.30,560.42 L163.80,561.69 L164.30,563.03 L164.80,564.44 L165.30,565.91 L165.80,567.45 L166.30,569.06 L166.80,570.71 L167.30,572.42 L167.80,574.18 L168.30,575.99 L168.80,577.84 L169.30,579.73 L169.80,581.65 L170.30,583.61 L170.80,585.59 L171.30,587.61 L171.80,589.64 L172.30,591.70 L172.80,593.77 L173.30,595.86 L173.80,597.96 L174.30,600.07 L174.80,602.18 L175.30,604.30 L175.80,606.42 L176.30,608.53 L176.80,610.64 L177.30,612.75 L177.80,614.84 L178.30,616.93 L178.80,619.00 L179.30,621.05 L179.80,623.09 L180.30,625.11 L180.80,627.11 L181.30,629.08 L181.80,631.03 L182.30,632.96 L182.80,634.86 L183.30,636.73 L183.80,638.57 L184.30,640.38 L184.80,642.16 L185.30,643.91 L185.80,645.62 L186.30,647.30 L186.80,648.95 L187.30,650.55 L187.80,652.13 L188.30,653.66 L188.80,655.16 L189.30,656.63 L189.80,658.05 L190.30,659.44 L190.80,660.79 L191.30,662.10 L191.80,663.38 L192.30,664.62 L192.80,665.82 L193.30,666.98 L193.80,668.11 L194.30,669.20 L194.80,670.26 L195.30,671.28 L195.80,672.27 L196.30,673.22 L196.80,674.14 L197.30,675.03 L197.80,675.88 L198.30,676.70 L198.80,677.49 L199.30,678.25 L199.80,678.98 L200.30,679.68 L200.80,680.36 L201.30,681.00 L201.80,681.62 L202.30,682.21 L202.80,682.78 L203.30,683.32 L203.80,683.83 L204.30,684.33 L204.80,684.80 L205.30,685.25 L205.80,685.68 L206.30,686.09 L206.80,686.47 L207.30,686.84 L207.80,687.19 L208.30,687.53 L208.80,687.84 L209.30,688.14 L209.80,688.43 L210.30,688.70 L210.80,688.96 L211.30,689.21 L211.80,689.44 L212.30,689.66 L212.80,689.87 L213.30,690.07 L213.80,690.26 L214.30,690.45 L214.80,690.62 L215.30,690.78 L215.80,690.94 L216.30,691.08 L216.80,691.22 L217.30,691.36 L217.80,691.48 L218.30,691.60 L218.80,691.72 L219.30,691.83 L219.80,691.93 L220.30,692.03 L220.80,692.12 L221.30,692.21 L221.80,692.30 L222.30,692.38 L222.80,692.45 L223.30,692.53 L223.80,692.60 L224.30,692.66 L224.80,692.73 L225.30,692.79 L225.80,692.85 L226.30,692.90 L226.80,692.96 L227.30,693.01 L227.80,693.06 L228.30,693.11 L228.80,693.15 L229.30,693.20 L229.80,693.24 L230.30,693.28 L230.80,693.32 L231.30,693.36 L231.80,693.40 L232.30,693.43 L232.80,693.47 L233.30,693.50 L233.80,693.53 L234.30,693.56 L234.80,693.59 L235.30,693.62 L235.80,693.65 L236.30,693.68 L236.80,693.71 L237.30,693.73 L237.80,693.76 L238.30,693.79 L238.80,693.81 L239.30,693.83 L239.80,693.86 L240.30,693.88 L240.80,693.90 L241.30,693.93 L241.80,693.95 L242.30,693.97 L242.80,693.99 L243.30,694.01 L243.80,694.03 L244.30,694.05 L244.80,694.07 L245.30,694.09 L245.80,694.10 L246.30,694.12 L246.80,694.14 L247.30,694.16 L247.80,694.18 L248.30,694.19 L248.80,694.21 L249.30,694.23 L249.80,694.24 L250.30,694.26 L250.80,694.27 L251.30,694.29 L251.80,694.30 L252.30,694.32 L252.80,694.33 L253.30,694.35 L253.80,694.36 L254.30,694.38 L254.80,694.39 L255.30,694.40 L255.80,694.42 L256.30,694.43 L256.50,695.50 L264.10,696.40 L271.80,695.50 L279.40,696.80 L287.10,695.80 L294.70,695.50 L302.40,694.50 L306.20,695.10 L311.00,696.00" fill="none" stroke="#e31212" stroke-width="1.0" stroke-linejoin="round" stroke-linecap="round"/>
<path d="M38.30,683.90 C38.98,683.95 41.12,683.95 42.40,684.20 C43.68,684.45 44.78,685.63 46.00,685.40 C47.22,685.17 48.60,683.05 49.70,682.80 C50.80,682.55 51.38,683.90 52.60,683.90 C53.82,683.90 55.05,683.60 57.00,682.80 C58.95,682.00 62.23,680.20 64.30,679.10 C66.37,678.00 67.95,677.42 69.40,676.20 C70.85,674.98 71.67,673.02 73.00,671.80 C74.33,670.58 75.93,669.80 77.40,668.90 C78.87,668.00 80.33,667.37 81.80,666.40 C83.27,665.43 84.73,664.27 86.20,663.10 C87.67,661.93 88.90,660.45 90.60,659.40 C92.30,658.35 94.70,657.72 96.40,656.80 C98.10,655.88 99.33,654.80 100.80,653.90 C102.27,653.00 103.50,652.43 105.20,651.40 C106.90,650.37 109.07,649.17 111.00,647.70 C112.93,646.23 114.85,644.53 116.80,642.60 C118.75,640.67 121.48,637.38 122.70,636.10 C123.92,634.82 123.35,636.40 124.10,634.90 C124.85,633.40 126.03,629.70 127.20,627.10 C128.37,624.50 129.80,622.93 131.10,619.30 C132.40,615.67 133.57,610.73 135.00,605.30 C136.43,599.87 138.15,592.40 139.70,586.70 C141.25,581.00 142.88,575.77 144.30,571.10 C145.72,566.43 147.03,561.82 148.20,558.70 C149.37,555.58 150.13,553.83 151.30,552.40 C152.47,550.97 153.77,550.30 155.20,550.10 C156.63,549.90 158.73,550.42 159.90,551.20 C161.07,551.98 161.03,552.00 162.20,554.80 C163.37,557.60 165.08,561.92 166.90,568.00 C168.72,574.08 171.03,583.00 173.10,591.30 C175.17,599.60 177.23,609.50 179.30,617.80 C181.37,626.10 183.78,633.90 185.50,641.10 C187.22,648.30 187.80,655.45 189.60,661.00 C191.40,666.55 194.07,671.05 196.30,674.40 C198.53,677.75 200.62,679.02 203.00,681.10 C205.38,683.18 207.73,685.20 210.60,686.90 C213.47,688.60 217.02,690.25 220.20,691.30 C223.38,692.35 225.88,692.57 229.70,693.20 C233.52,693.83 238.63,694.72 243.10,695.10 C247.57,695.48 253.00,695.28 256.50,695.50 C260.00,695.72 261.55,696.40 264.10,696.40 C266.65,696.40 269.25,695.43 271.80,695.50 C274.35,695.57 276.85,696.75 279.40,696.80 C281.95,696.85 284.55,696.02 287.10,695.80 C289.65,695.58 292.15,695.72 294.70,695.50 C297.25,695.28 300.48,694.57 302.40,694.50 C304.32,694.43 304.77,694.85 306.20,695.10 C307.63,695.35 310.20,695.85 311.00,696.00" fill="none" stroke="#1a1a1a" stroke-width="1.0" stroke-linejoin="round" stroke-linecap="round" />
<path d="M399.20,679.58 L399.70,679.58 L400.20,679.58 L400.70,679.58 L401.20,679.58 L401.70,679.57 L402.20,679.57 L402.70,679.57 L403.20,679.57 L403.70,679.56 L404.20,679.56 L404.70,679.55 L405.20,679.55 L405.70,679.55 L406.20,679.54 L406.70,679.54 L407.20,679.53 L407.70,679.52 L408.20,679.52 L408.70,679.51 L409.20,679.50 L409.70,679.49 L410.20,679.48 L410.70,679.47 L411.20,679.46 L411.70,679.45 L412.20,679.44 L412.70,679.42 L413.20,679.41 L413.70,679.39 L414.20,679.38 L414.70,679.36 L415.20,679.34 L415.70,679.32 L416.20,679.30 L416.70,679.27 L417.20,679.25 L417.70,679.22 L418.20,679.19 L418.70,679.16 L419.20,679.13 L419.70,679.09 L420.20,679.06 L420.70,679.02 L421.20,678.97 L421.70,678.93 L422.20,678.88 L422.70,678.83 L423.20,678.78 L423.70,678.72 L424.20,678.66 L424.70,678.60 L425.20,678.54 L425.70,678.47 L426.20,678.39 L426.70,678.31 L427.20,678.23 L427.70,678.15 L428.20,678.06 L428.70,677.96 L429.20,677.86 L429.70,677.76 L430.20,677.65 L430.70,677.53 L431.20,677.41 L431.70,677.29 L432.20,677.16 L432.70,677.02 L433.20,676.88 L433.70,676.73 L434.20,676.57 L434.70,676.41 L435.20,676.24 L435.70,676.07 L436.20,675.89 L436.70,675.70 L437.20,675.50 L437.70,675.30 L438.20,675.09 L438.70,674.88 L439.20,674.65 L439.70,674.42 L440.20,674.18 L440.70,673.94 L441.20,673.69 L441.70,673.43 L442.20,673.16 L442.70,672.89 L443.20,672.61 L443.70,672.32 L444.20,672.03 L444.70,671.73 L445.20,671.42 L445.70,671.11 L446.20,670.79 L446.70,670.46 L447.20,670.13 L447.70,669.79 L448.20,669.45 L448.70,669.10 L449.20,668.75 L449.70,668.39 L450.20,668.02 L450.70,667.66 L451.20,667.29 L451.70,666.91 L452.20,666.54 L452.70,666.16 L453.20,665.77 L453.70,665.39 L454.20,665.01 L454.70,664.62 L455.20,664.23 L455.70,663.85 L456.20,663.46 L456.70,663.08 L457.20,662.69 L457.70,662.31 L458.20,661.93 L458.70,661.56 L459.20,661.19 L459.70,660.82 L460.20,660.46 L460.70,660.10 L461.20,659.75 L461.70,659.41 L462.20,659.07 L462.70,658.75 L463.20,658.43 L463.70,658.11 L464.20,657.81 L464.70,657.52 L465.20,657.24 L465.70,656.97 L466.20,656.71 L466.70,656.46 L467.20,656.23 L467.70,656.01 L468.20,655.80 L468.70,655.60 L469.20,655.42 L469.70,655.26 L470.20,655.11 L470.70,654.97 L471.20,654.85 L471.70,654.75 L472.20,654.66 L472.70,654.59 L473.20,654.54 L473.70,654.50 L474.20,654.49 L474.70,654.48 L475.20,654.50 L475.70,654.53 L476.20,654.58 L476.70,654.65 L477.20,654.74 L477.70,654.84 L478.20,654.95 L478.70,655.09 L479.20,655.24 L479.70,655.41 L480.20,655.59 L480.70,655.78 L481.20,656.00 L481.70,656.22 L482.20,656.47 L482.70,656.72 L483.20,656.99 L483.70,657.27 L484.20,657.56 L484.70,657.87 L485.20,658.19 L485.70,658.52 L486.20,658.86 L486.70,659.20 L487.20,659.56 L487.70,659.93 L488.20,660.30 L488.70,660.69 L489.20,661.08 L489.70,661.47 L490.20,661.87 L490.70,662.28 L491.20,662.69 L491.70,663.11 L492.20,663.54 L492.70,663.96 L493.20,664.39 L493.70,664.82 L494.20,665.26 L494.70,665.70 L495.20,666.13 L495.70,666.57 L496.20,667.01 L496.70,667.45 L497.20,667.88 L497.70,668.32 L498.20,668.75 L498.70,669.18 L499.20,669.61 L499.70,670.04 L500.20,670.46 L500.70,670.87 L501.20,671.29 L501.70,671.70 L502.20,672.10 L502.70,672.50 L503.20,672.89 L503.70,673.28 L504.20,673.66 L504.70,674.04 L505.20,674.41 L505.70,674.77 L506.20,675.13 L506.70,675.48 L507.20,675.83 L507.70,676.16 L508.20,676.49 L508.70,676.81 L509.20,677.13 L509.70,677.44 L510.20,677.74 L510.70,678.04 L511.20,678.33 L511.70,678.61 L512.20,678.89 L512.70,679.16 L513.20,679.43 L513.70,679.69 L514.20,679.95 L514.70,680.20 L515.20,680.44 L515.70,680.68 L516.20,680.92 L516.70,681.15 L517.20,681.37 L517.70,681.59 L518.20,681.80 L518.70,682.01 L519.20,682.21 L519.70,682.41 L520.20,682.60 L520.70,682.79 L521.20,682.97 L521.70,683.15 L522.20,683.32 L522.70,683.49 L523.20,683.65 L523.70,683.81 L524.20,683.97 L524.70,684.12 L525.20,684.26 L525.70,684.41 L526.20,684.54 L526.70,684.68 L527.20,684.81 L527.70,684.93 L528.20,685.05 L528.70,685.17 L529.20,685.29 L529.70,685.40 L530.20,685.50 L530.70,685.61 L531.20,685.71 L531.70,685.81 L532.20,685.91 L532.70,686.01 L533.20,686.10 L533.70,686.19 L534.20,686.28 L534.70,686.37 L535.20,686.46 L535.70,686.55 L536.20,686.64 L536.70,686.72 L537.20,686.80 L537.70,686.88 L538.20,686.96 L538.70,687.04 L539.20,687.12 L539.70,687.20 L540.20,687.27 L540.70,687.34 L541.20,687.42 L541.70,687.49 L542.20,687.56 L542.70,687.63 L543.20,687.69 L543.70,687.76 L544.20,687.82 L544.70,687.89 L545.20,687.95 L545.70,688.01 L546.20,688.07 L546.70,688.13 L547.20,688.19 L547.70,688.24 L548.20,688.30 L548.70,688.35 L549.20,688.40 L549.70,688.45 L550.20,688.50 L550.70,688.55 L551.20,688.60 L551.70,688.65 L552.20,688.69 L552.70,688.74 L553.20,688.79 L553.70,688.84 L554.20,688.89 L554.70,688.93 L555.20,688.98 L555.70,689.02 L556.20,689.07 L556.70,689.12 L557.20,689.16 L557.70,689.20 L558.20,689.25 L558.70,689.29 L559.20,689.33 L559.70,689.38 L560.20,689.42 L560.70,689.46 L561.20,689.50 L561.70,689.53 L562.20,689.57 L562.70,689.61 L563.20,689.64 L563.70,689.68 L564.20,689.71 L564.70,689.74 L565.20,689.77 L565.70,689.80 L566.20,689.83 L566.70,689.86 L567.20,689.88 L567.70,689.91 L568.20,689.93 L568.70,689.95 L569.20,689.97 L569.70,689.99 L570.20,690.01 L570.70,690.02 L571.20,690.04 L571.70,690.05 L572.20,690.07 L572.70,690.08 L573.20,690.10 L573.70,690.11 L574.20,690.13 L574.70,690.14 L575.20,690.16 L575.70,690.17 L576.20,690.18 L576.70,690.19 L577.20,690.21 L577.70,690.22 L578.20,690.23 L578.70,690.24 L579.20,690.26 L579.70,690.27 L580.20,690.28 L580.70,690.29 L581.20,690.30 L581.70,690.31 L582.20,690.32 L582.70,690.33 L583.20,690.34 L583.70,690.35 L584.20,690.36 L584.70,690.37 L585.20,690.38 L585.70,690.39 L586.20,690.40 L586.70,690.41 L587.20,690.42 L587.70,690.42 L588.20,690.43 L588.70,690.44 L589.20,690.45 L589.70,690.46 L590.20,690.47 L590.70,690.47 L591.20,690.48 L591.70,690.49 L592.20,690.50 L592.70,690.50 L593.20,690.51 L593.70,690.52 L594.20,690.52 L594.70,690.53 L595.20,690.54 L595.70,690.54 L596.20,690.55 L596.70,690.56 L597.20,690.56 L597.70,690.57 L598.20,690.58 L598.70,690.58 L599.20,690.59 L599.70,690.60 L600.20,690.60 L600.70,690.61 L601.20,690.61 L601.70,690.62 L602.20,690.63 L602.70,690.63 L603.20,690.64 L603.70,690.65 L604.20,690.65 L604.70,690.66 L605.20,690.66 L605.70,690.67 L606.20,690.68 L606.70,690.68 L607.20,690.69 L607.70,690.70 L608.20,690.70 L608.70,690.71 L609.20,690.71 L609.70,690.72 L610.20,690.73 L610.70,690.73 L611.20,690.74 L611.70,690.74 L612.20,690.75 L612.70,690.76 L613.20,690.76 L613.70,690.77 L614.20,690.77 L614.70,690.78 L615.20,690.79 L615.70,690.79 L616.20,690.80 L616.70,690.80 L617.20,690.81 L617.70,690.82 L618.20,690.82 L618.70,690.83 L619.20,690.83 L619.70,690.84 L620.20,690.85 L620.70,690.85 L621.20,690.86 L621.70,690.86 L622.20,690.87 L622.70,690.87 L623.20,690.88 L623.70,690.88 L624.20,690.89 L624.70,690.90 L625.20,690.90 L625.70,690.91 L626.20,690.91 L626.70,690.92 L627.20,690.92 L627.70,690.93 L628.20,690.93 L628.70,690.94 L629.20,690.94 L629.70,690.95 L630.20,690.95 L630.70,690.96 L631.20,690.96 L631.70,690.97 L632.20,690.97 L632.70,690.98 L633.20,690.98 L633.70,690.99 L634.20,690.99 L634.70,691.00 L635.20,691.00 L635.70,691.01 L636.20,691.01 L636.70,691.02 L637.20,691.02 L637.70,691.03 L638.20,691.03 L638.70,691.04 L639.20,691.04 L639.70,691.04" fill="none" stroke="#2424d6" stroke-width="1.0" stroke-linejoin="round" stroke-linecap="round"/>
<path d="M399.20,679.22 L399.70,679.22 L400.20,679.22 L400.70,679.21 L401.20,679.21 L401.70,679.21 L402.20,679.20 L402.70,679.20 L403.20,679.20 L403.70,679.19 L404.20,679.19 L404.70,679.19 L405.20,679.18 L405.70,679.18 L406.20,679.18 L406.70,679.17 L407.20,679.17 L407.70,679.16 L408.20,679.16 L408.70,679.16 L409.20,679.15 L409.70,679.15 L410.20,679.14 L410.70,679.14 L411.20,679.14 L411.70,679.13 L412.20,679.13 L412.70,679.12 L413.20,679.12 L413.70,679.11 L414.20,679.11 L414.70,679.10 L415.20,679.10 L415.70,679.10 L416.20,679.09 L416.70,679.09 L417.20,679.08 L417.70,679.08 L418.20,679.07 L418.70,679.07 L419.20,679.06 L419.70,679.05 L420.20,679.05 L420.70,679.04 L421.20,679.04 L421.70,679.03 L422.20,679.03 L422.70,679.02 L423.20,679.01 L423.70,679.01 L424.20,679.00 L424.70,678.99 L425.20,678.99 L425.70,678.98 L426.20,678.97 L426.70,678.97 L427.20,678.96 L427.70,678.95 L428.20,678.95 L428.70,678.94 L429.20,678.93 L429.70,678.92 L430.20,678.91 L430.70,678.91 L431.20,678.90 L431.70,678.89 L432.20,678.88 L432.70,678.87 L433.20,678.86 L433.70,678.85 L434.20,678.84 L434.70,678.83 L435.20,678.82 L435.70,678.81 L436.20,678.80 L436.70,678.79 L437.20,678.77 L437.70,678.76 L438.20,678.75 L438.70,678.74 L439.20,678.72 L439.70,678.71 L440.20,678.69 L440.70,678.68 L441.20,678.66 L441.70,678.65 L442.20,678.63 L442.70,678.62 L443.20,678.60 L443.70,678.58 L444.20,678.57 L444.70,678.55 L445.20,678.53 L445.70,678.51 L446.20,678.49 L446.70,678.47 L447.20,678.45 L447.70,678.43 L448.20,678.41 L448.70,678.38 L449.20,678.36 L449.70,678.33 L450.20,678.31 L450.70,678.28 L451.20,678.25 L451.70,678.22 L452.20,678.19 L452.70,678.15 L453.20,678.12 L453.70,678.08 L454.20,678.04 L454.70,678.00 L455.20,677.96 L455.70,677.92 L456.20,677.87 L456.70,677.82 L457.20,677.77 L457.70,677.72 L458.20,677.66 L458.70,677.60 L459.20,677.54 L459.70,677.48 L460.20,677.41 L460.70,677.34 L461.20,677.27 L461.70,677.19 L462.20,677.11 L462.70,677.03 L463.20,676.94 L463.70,676.85 L464.20,676.75 L464.70,676.65 L465.20,676.55 L465.70,676.44 L466.20,676.33 L466.70,676.21 L467.20,676.09 L467.70,675.97 L468.20,675.84 L468.70,675.70 L469.20,675.56 L469.70,675.41 L470.20,675.26 L470.70,675.10 L471.20,674.94 L471.70,674.77 L472.20,674.60 L472.70,674.42 L473.20,674.24 L473.70,674.05 L474.20,673.85 L474.70,673.65 L475.20,673.45 L475.70,673.24 L476.20,673.02 L476.70,672.79 L477.20,672.56 L477.70,672.33 L478.20,672.09 L478.70,671.84 L479.20,671.58 L479.70,671.32 L480.20,671.05 L480.70,670.78 L481.20,670.50 L481.70,670.21 L482.20,669.92 L482.70,669.62 L483.20,669.32 L483.70,669.01 L484.20,668.69 L484.70,668.37 L485.20,668.04 L485.70,667.70 L486.20,667.36 L486.70,667.02 L487.20,666.67 L487.70,666.31 L488.20,665.95 L488.70,665.58 L489.20,665.21 L489.70,664.84 L490.20,664.46 L490.70,664.08 L491.20,663.69 L491.70,663.31 L492.20,662.92 L492.70,662.53 L493.20,662.14 L493.70,661.75 L494.20,661.36 L494.70,660.97 L495.20,660.58 L495.70,660.19 L496.20,659.80 L496.70,659.41 L497.20,659.02 L497.70,658.64 L498.20,658.26 L498.70,657.89 L499.20,657.52 L499.70,657.15 L500.20,656.79 L500.70,656.43 L501.20,656.08 L501.70,655.74 L502.20,655.41 L502.70,655.08 L503.20,654.76 L503.70,654.45 L504.20,654.16 L504.70,653.87 L505.20,653.59 L505.70,653.33 L506.20,653.07 L506.70,652.83 L507.20,652.61 L507.70,652.40 L508.20,652.20 L508.70,652.02 L509.20,651.85 L509.70,651.70 L510.20,651.57 L510.70,651.45 L511.20,651.36 L511.70,651.28 L512.20,651.23 L512.70,651.19 L513.20,651.17 L513.70,651.18 L514.20,651.20 L514.70,651.25 L515.20,651.31 L515.70,651.40 L516.20,651.50 L516.70,651.63 L517.20,651.77 L517.70,651.94 L518.20,652.12 L518.70,652.32 L519.20,652.55 L519.70,652.79 L520.20,653.04 L520.70,653.32 L521.20,653.61 L521.70,653.92 L522.20,654.24 L522.70,654.58 L523.20,654.93 L523.70,655.29 L524.20,655.67 L524.70,656.06 L525.20,656.46 L525.70,656.87 L526.20,657.30 L526.70,657.73 L527.20,658.17 L527.70,658.61 L528.20,659.07 L528.70,659.53 L529.20,660.00 L529.70,660.47 L530.20,660.95 L530.70,661.43 L531.20,661.91 L531.70,662.40 L532.20,662.90 L532.70,663.39 L533.20,663.89 L533.70,664.39 L534.20,664.90 L534.70,665.40 L535.20,665.90 L535.70,666.41 L536.20,666.91 L536.70,667.41 L537.20,667.91 L537.70,668.40 L538.20,668.90 L538.70,669.39 L539.20,669.88 L539.70,670.36 L540.20,670.84 L540.70,671.32 L541.20,671.79 L541.70,672.26 L542.20,672.72 L542.70,673.18 L543.20,673.63 L543.70,674.07 L544.20,674.51 L544.70,674.94 L545.20,675.36 L545.70,675.78 L546.20,676.19 L546.70,676.59 L547.20,676.98 L547.70,677.37 L548.20,677.75 L548.70,678.12 L549.20,678.48 L549.70,678.84 L550.20,679.19 L550.70,679.53 L551.20,679.86 L551.70,680.19 L552.20,680.51 L552.70,680.82 L553.20,681.13 L553.70,681.42 L554.20,681.72 L554.70,682.00 L555.20,682.28 L555.70,682.55 L556.20,682.81 L556.70,683.07 L557.20,683.32 L557.70,683.56 L558.20,683.80 L558.70,684.03 L559.20,684.25 L559.70,684.47 L560.20,684.68 L560.70,684.88 L561.20,685.08 L561.70,685.27 L562.20,685.45 L562.70,685.63 L563.20,685.80 L563.70,685.97 L564.20,686.13 L564.70,686.28 L565.20,686.43 L565.70,686.57 L566.20,686.71 L566.70,686.84 L567.20,686.97 L567.70,687.09 L568.20,687.21 L568.70,687.32 L569.20,687.42 L569.70,687.52 L570.20,687.62 L570.70,687.71 L571.20,687.80 L571.70,687.88 L572.20,687.97 L572.70,688.04 L573.20,688.12 L573.70,688.19 L574.20,688.26 L574.70,688.33 L575.20,688.40 L575.70,688.46 L576.20,688.52 L576.70,688.58 L577.20,688.63 L577.70,688.69 L578.20,688.74 L578.70,688.79 L579.20,688.84 L579.70,688.88 L580.20,688.93 L580.70,688.97 L581.20,689.01 L581.70,689.05 L582.20,689.09 L582.70,689.13 L583.20,689.16 L583.70,689.20 L584.20,689.23 L584.70,689.26 L585.20,689.30 L585.70,689.33 L586.20,689.36 L586.70,689.38 L587.20,689.41 L587.70,689.44 L588.20,689.46 L588.70,689.49 L589.20,689.51 L589.70,689.54 L590.20,689.56 L590.70,689.58 L591.20,689.60 L591.70,689.63 L592.20,689.65 L592.70,689.67 L593.20,689.69 L593.70,689.70 L594.20,689.72 L594.70,689.74 L595.20,689.76 L595.70,689.78 L596.20,689.79 L596.70,689.81 L597.20,689.83 L597.70,689.84 L598.20,689.86 L598.70,689.87 L599.20,689.89 L599.70,689.90 L600.20,689.92 L600.70,689.93 L601.20,689.95 L601.70,689.96 L602.20,689.97 L602.70,689.99 L603.20,690.00 L603.70,690.01 L604.20,690.03 L604.70,690.04 L605.20,690.05 L605.70,690.07 L606.20,690.08 L606.70,690.09 L607.20,690.10 L607.70,690.12 L608.20,690.13 L608.70,690.14 L609.20,690.15 L609.70,690.16 L610.20,690.18 L610.70,690.19 L611.20,690.20 L611.70,690.21 L612.20,690.22 L612.70,690.23 L613.20,690.24 L613.70,690.25 L614.20,690.27 L614.70,690.28 L615.20,690.29 L615.70,690.30 L616.20,690.31 L616.70,690.32 L617.20,690.33 L617.70,690.34 L618.20,690.35 L618.70,690.36 L619.20,690.37 L619.70,690.38 L620.20,690.39 L620.70,690.40 L621.20,690.41 L621.70,690.42 L622.20,690.43 L622.70,690.44 L623.20,690.45 L623.70,690.46 L624.20,690.47 L624.70,690.48 L625.20,690.48 L625.70,690.49 L626.20,690.50 L626.70,690.51 L627.20,690.52 L627.70,690.53 L628.20,690.54 L628.70,690.55 L629.20,690.55 L629.70,690.56 L630.20,690.57 L630.70,690.58 L631.20,690.59 L631.70,690.60 L632.20,690.60 L632.70,690.61 L633.20,690.62 L633.70,690.63 L634.20,690.64 L634.70,690.64 L635.20,690.65 L635.70,690.66 L636.20,690.67 L636.70,690.67 L637.20,690.68 L637.70,690.69 L638.20,690.69 L638.70,690.70 L639.20,690.71 L639.70,690.72" fill="none" stroke="#147814" stroke-width="1.0" stroke-linejoin="round" stroke-linecap="round"/>
<path d="M399.20,679.60 L399.70,679.60 L400.20,679.60 L400.70,679.60 L401.20,679.60 L401.70,679.60 L402.20,679.60 L402.70,679.60 L403.20,679.60 L403.70,679.60 L404.20,679.60 L404.70,679.60 L405.20,679.60 L405.70,679.60 L406.20,679.60 L406.70,679.60 L407.20,679.60 L407.70,679.60 L408.20,679.60 L408.70,679.60 L409.20,679.60 L409.70,679.60 L410.20,679.60 L410.70,679.60 L411.20,679.60 L411.70,679.60 L412.20,679.60 L412.70,679.60 L413.20,679.60 L413.70,679.60 L414.20,679.60 L414.70,679.60 L415.20,679.60 L415.70,679.60 L416.20,679.60 L416.70,679.60 L417.20,679.60 L417.70,679.60 L418.20,679.60 L418.70,679.60 L419.20,679.60 L419.70,679.60 L420.20,679.60 L420.70,679.60 L421.20,679.60 L421.70,679.60 L422.20,679.60 L422.70,679.60 L423.20,679.60 L423.70,679.60 L424.20,679.60 L424.70,679.60 L425.20,679.60 L425.70,679.60 L426.20,679.60 L426.70,679.60 L427.20,679.60 L427.70,679.60 L428.20,679.60 L428.70,679.60 L429.20,679.60 L429.70,679.60 L430.20,679.60 L430.70,679.60 L431.20,679.60 L431.70,679.60 L432.20,679.60 L432.70,679.60 L433.20,679.59 L433.70,679.59 L434.20,679.59 L434.70,679.59 L435.20,679.59 L435.70,679.59 L436.20,679.59 L436.70,679.59 L437.20,679.59 L437.70,679.59 L438.20,679.59 L438.70,679.59 L439.20,679.58 L439.70,679.58 L440.20,679.58 L440.70,679.58 L441.20,679.58 L441.70,679.58 L442.20,679.57 L442.70,679.57 L443.20,679.57 L443.70,679.57 L444.20,679.57 L444.70,679.57 L445.20,679.57 L445.70,679.57 L446.20,679.56 L446.70,679.56 L447.20,679.56 L447.70,679.56 L448.20,679.56 L448.70,679.55 L449.20,679.55 L449.70,679.55 L450.20,679.54 L450.70,679.54 L451.20,679.53 L451.70,679.53 L452.20,679.52 L452.70,679.52 L453.20,679.51 L453.70,679.50 L454.20,679.49 L454.70,679.48 L455.20,679.47 L455.70,679.45 L456.20,679.44 L456.70,679.42 L457.20,679.41 L457.70,679.39 L458.20,679.37 L458.70,679.34 L459.20,679.32 L459.70,679.29 L460.20,679.26 L460.70,679.23 L461.20,679.20 L461.70,679.16 L462.20,679.12 L462.70,679.08 L463.20,679.03 L463.70,678.98 L464.20,678.93 L464.70,678.87 L465.20,678.81 L465.70,678.74 L466.20,678.67 L466.70,678.60 L467.20,678.52 L467.70,678.43 L468.20,678.34 L468.70,678.24 L469.20,678.14 L469.70,678.03 L470.20,677.91 L470.70,677.79 L471.20,677.66 L471.70,677.52 L472.20,677.38 L472.70,677.23 L473.20,677.07 L473.70,676.90 L474.20,676.72 L474.70,676.53 L475.20,676.34 L475.70,676.13 L476.20,675.92 L476.70,675.69 L477.20,675.45 L477.70,675.20 L478.20,674.94 L478.70,674.66 L479.20,674.37 L479.70,674.07 L480.20,673.75 L480.70,673.42 L481.20,673.08 L481.70,672.72 L482.20,672.34 L482.70,671.95 L483.20,671.53 L483.70,671.11 L484.20,670.66 L484.70,670.20 L485.20,669.71 L485.70,669.21 L486.20,668.69 L486.70,668.15 L487.20,667.59 L487.70,667.01 L488.20,666.41 L488.70,665.78 L489.20,665.14 L489.70,664.47 L490.20,663.78 L490.70,663.07 L491.20,662.33 L491.70,661.58 L492.20,660.80 L492.70,660.00 L493.20,659.18 L493.70,658.33 L494.20,657.47 L494.70,656.58 L495.20,655.67 L495.70,654.73 L496.20,653.78 L496.70,652.80 L497.20,651.80 L497.70,650.77 L498.20,649.73 L498.70,648.66 L499.20,647.58 L499.70,646.47 L500.20,645.34 L500.70,644.19 L501.20,643.03 L501.70,641.84 L502.20,640.64 L502.70,639.42 L503.20,638.19 L503.70,636.93 L504.20,635.67 L504.70,634.39 L505.20,633.09 L505.70,631.79 L506.20,630.47 L506.70,629.14 L507.20,627.81 L507.70,626.47 L508.20,625.12 L508.70,623.76 L509.20,622.40 L509.70,621.04 L510.20,619.68 L510.70,618.32 L511.20,616.96 L511.70,615.61 L512.20,614.26 L512.70,612.92 L513.20,611.59 L513.70,610.27 L514.20,608.96 L514.70,607.67 L515.20,606.39 L515.70,605.12 L516.20,603.88 L516.70,602.65 L517.20,601.45 L517.70,600.27 L518.20,599.11 L518.70,597.98 L519.20,596.87 L519.70,595.79 L520.20,594.75 L520.70,593.73 L521.20,592.75 L521.70,591.81 L522.20,590.90 L522.70,590.02 L523.20,589.19 L523.70,588.39 L524.20,587.64 L524.70,586.92 L525.20,586.25 L525.70,585.63 L526.20,585.04 L526.70,584.51 L527.20,584.02 L527.70,583.58 L528.20,583.18 L528.70,582.84 L529.20,582.54 L529.70,582.30 L530.20,582.10 L530.70,581.96 L531.20,581.86 L531.70,581.82 L532.20,581.84 L532.70,581.90 L533.20,582.02 L533.70,582.19 L534.20,582.42 L534.70,582.69 L535.20,583.02 L535.70,583.40 L536.20,583.83 L536.70,584.30 L537.20,584.83 L537.70,585.41 L538.20,586.04 L538.70,586.71 L539.20,587.43 L539.70,588.19 L540.20,589.00 L540.70,589.86 L541.20,590.75 L541.70,591.68 L542.20,592.66 L542.70,593.67 L543.20,594.72 L543.70,595.80 L544.20,596.92 L544.70,598.07 L545.20,599.25 L545.70,600.46 L546.20,601.70 L546.70,602.96 L547.20,604.25 L547.70,605.56 L548.20,606.89 L548.70,608.24 L549.20,609.61 L549.70,611.00 L550.20,612.40 L550.70,613.81 L551.20,615.24 L551.70,616.67 L552.20,618.12 L552.70,619.57 L553.20,621.03 L553.70,622.50 L554.20,623.96 L554.70,625.43 L555.20,626.90 L555.70,628.37 L556.20,629.83 L556.70,631.29 L557.20,632.74 L557.70,634.19 L558.20,635.63 L558.70,637.06 L559.20,638.47 L559.70,639.88 L560.20,641.27 L560.70,642.65 L561.20,644.01 L561.70,645.36 L562.20,646.69 L562.70,648.00 L563.20,649.30 L563.70,650.57 L564.20,651.83 L564.70,653.06 L565.20,654.27 L565.70,655.46 L566.20,656.63 L566.70,657.77 L567.20,658.90 L567.70,659.99 L568.20,661.07 L568.70,662.12 L569.20,663.14 L569.70,664.14 L570.20,665.12 L570.70,666.07 L571.20,666.99 L571.70,667.90 L572.20,668.78 L572.70,669.63 L573.20,670.46 L573.70,671.27 L574.20,672.06 L574.70,672.82 L575.20,673.56 L575.70,674.28 L576.20,674.97 L576.70,675.64 L577.20,676.30 L577.70,676.92 L578.20,677.53 L578.70,678.12 L579.20,678.69 L579.70,679.23 L580.20,679.76 L580.70,680.27 L581.20,680.76 L581.70,681.23 L582.20,681.68 L582.70,682.11 L583.20,682.53 L583.70,682.93 L584.20,683.32 L584.70,683.69 L585.20,684.04 L585.70,684.38 L586.20,684.70 L586.70,685.01 L587.20,685.31 L587.70,685.59 L588.20,685.87 L588.70,686.12 L589.20,686.37 L589.70,686.61 L590.20,686.83 L590.70,687.05 L591.20,687.25 L591.70,687.44 L592.20,687.63 L592.70,687.80 L593.20,687.97 L593.70,688.13 L594.20,688.28 L594.70,688.42 L595.20,688.56 L595.70,688.69 L596.20,688.81 L596.70,688.92 L597.20,689.03 L597.70,689.14 L598.20,689.23 L598.70,689.33 L599.20,689.42 L599.70,689.50 L600.20,689.58 L600.70,689.65 L601.20,689.72 L601.70,689.79 L602.20,689.85 L602.70,689.91 L603.20,689.96 L603.70,690.02 L604.20,690.07 L604.70,690.11 L605.20,690.16 L605.70,690.20 L606.20,690.24 L606.70,690.28 L607.20,690.31 L607.70,690.35 L608.20,690.38 L608.70,690.41 L609.20,690.44 L609.70,690.46 L610.20,690.49 L610.70,690.51 L611.20,690.54 L611.70,690.56 L612.20,690.58 L612.70,690.60 L613.20,690.62 L613.70,690.63 L614.20,690.65 L614.70,690.67 L615.20,690.68 L615.70,690.70 L616.20,690.71 L616.70,690.72 L617.20,690.74 L617.70,690.75 L618.20,690.76 L618.70,690.77 L619.20,690.78 L619.70,690.79 L620.20,690.80 L620.70,690.81 L621.20,690.82 L621.70,690.83 L622.20,690.84 L622.70,690.85 L623.20,690.85 L623.70,690.86 L624.20,690.87 L624.70,690.88 L625.20,690.88 L625.70,690.89 L626.20,690.90 L626.70,690.90 L627.20,690.91 L627.70,690.92 L628.20,690.92 L628.70,690.93 L629.20,690.94 L629.70,690.94 L630.20,690.95 L630.70,690.95 L631.20,690.96 L631.70,690.96 L632.20,690.97 L632.70,690.98 L633.20,690.98 L633.70,690.99 L634.20,690.99 L634.70,691.00 L635.20,691.00 L635.70,691.01 L636.20,691.01 L636.70,691.02 L637.20,691.02 L637.70,691.03 L638.20,691.03 L638.70,691.03 L639.20,691.04 L639.70,691.04 L645.00,690.80 L650.00,691.80 L655.00,691.00 L660.00,691.90 L665.00,691.10 L672.00,691.50" fill="none" stroke="#e31212" stroke-width="1.0" stroke-linejoin="round" stroke-linecap="round"/>
<path d="M399.20,679.80 L403.00,679.40 L407.20,679.20 L410.00,680.30 L413.30,681.30 L416.00,680.20 L420.00,679.30 L427.00,679.60 L432.00,677.80 L437.50,674.90 L444.50,669.60 L453.30,663.50 L462.00,655.60 L470.80,647.70 L479.60,640.70 L486.60,636.00 L493.60,626.70 L498.80,619.70 L505.80,604.80 L512.90,585.60 L518.10,575.00 L525.10,561.00 L530.60,554.30 L538.70,564.30 L544.30,580.30 L549.10,598.00 L553.90,615.70 L558.70,634.90 L565.10,654.20 L573.20,668.70 L579.60,675.90 L586.00,679.90 L592.40,683.10 L600.50,686.00 L608.50,688.40 L621.40,689.90 L635.00,691.10 L645.00,690.80 L650.00,691.80 L655.00,691.00 L660.00,691.90 L665.00,691.10 L672.00,691.50" fill="none" stroke="#1a1a1a" stroke-width="1.0" stroke-linejoin="round" stroke-linecap="round"/>
<rect x="38.5" y="783.3" width="272.5" height="200.9000000000001" fill="none" stroke="#3a3a3a" stroke-width="1.3"/>
<line x1="311.00" y1="984.2" x2="311.00" y2="986.2" stroke="#3a3a3a" stroke-width="1.3"/>
<line x1="276.94" y1="984.2" x2="276.94" y2="988.2" stroke="#3a3a3a" stroke-width="1.3"/>
<line x1="242.88" y1="984.2" x2="242.88" y2="986.2" stroke="#3a3a3a" stroke-width="1.3"/>
<line x1="208.81" y1="984.2" x2="208.81" y2="988.2" stroke="#3a3a3a" stroke-width="1.3"/>
<line x1="174.75" y1="984.2" x2="174.75" y2="986.2" stroke="#3a3a3a" stroke-width="1.3"/>
<line x1="140.69" y1="984.2" x2="140.69" y2="988.2" stroke="#3a3a3a" stroke-width="1.3"/>
<line x1="106.62" y1="984.2" x2="106.62" y2="986.2" stroke="#3a3a3a" stroke-width="1.3"/>
<line x1="72.56" y1="984.2" x2="72.56" y2="988.2" stroke="#3a3a3a" stroke-width="1.3"/>
<line x1="38.50" y1="984.2" x2="38.50" y2="986.2" stroke="#3a3a3a" stroke-width="1.3"/>
<text transform="translate(276.94,1001) scale(0.94,1)" font-size="13.6" fill="#111" stroke="#111" stroke-width="0.3" text-anchor="middle" >522</text>
<text transform="translate(208.81,1001) scale(0.94,1)" font-size="13.6" fill="#111" stroke="#111" stroke-width="0.3" text-anchor="middle" >524</text>
<text transform="translate(140.69,1001) scale(0.94,1)" font-size="13.6" fill="#111" stroke="#111" stroke-width="0.3" text-anchor="middle" >526</text>
<text transform="translate(72.56,1001) scale(0.94,1)" font-size="13.6" fill="#111" stroke="#111" stroke-width="0.3" text-anchor="middle" >528</text>
<text x="174.75" y="1022.4" font-size="12.95" fill="#111" stroke="#111" stroke-width="0.3" text-anchor="middle" >Binding Energy [eV]</text>
<text transform="translate(21.6,880.5) rotate(-90)" font-size="13.3" fill="#111" stroke="#111" stroke-width="0.3" text-anchor="middle">Counts [s]</text>
<rect x="399.2" y="783.3" width="272.3" height="200.9000000000001" fill="none" stroke="#3a3a3a" stroke-width="1.3"/>
<line x1="671.50" y1="984.2" x2="671.50" y2="986.2" stroke="#3a3a3a" stroke-width="1.3"/>
<line x1="637.46" y1="984.2" x2="637.46" y2="988.2" stroke="#3a3a3a" stroke-width="1.3"/>
<line x1="603.42" y1="984.2" x2="603.42" y2="986.2" stroke="#3a3a3a" stroke-width="1.3"/>
<line x1="569.39" y1="984.2" x2="569.39" y2="988.2" stroke="#3a3a3a" stroke-width="1.3"/>
<line x1="535.35" y1="984.2" x2="535.35" y2="986.2" stroke="#3a3a3a" stroke-width="1.3"/>
<line x1="501.31" y1="984.2" x2="501.31" y2="988.2" stroke="#3a3a3a" stroke-width="1.3"/>
<line x1="467.27" y1="984.2" x2="467.27" y2="986.2" stroke="#3a3a3a" stroke-width="1.3"/>
<line x1="433.24" y1="984.2" x2="433.24" y2="988.2" stroke="#3a3a3a" stroke-width="1.3"/>
<line x1="399.20" y1="984.2" x2="399.20" y2="986.2" stroke="#3a3a3a" stroke-width="1.3"/>
<text transform="translate(637.46,1001) scale(0.94,1)" font-size="13.6" fill="#111" stroke="#111" stroke-width="0.3" text-anchor="middle" >522</text>
<text transform="translate(569.39,1001) scale(0.94,1)" font-size="13.6" fill="#111" stroke="#111" stroke-width="0.3" text-anchor="middle" >524</text>
<text transform="translate(501.31,1001) scale(0.94,1)" font-size="13.6" fill="#111" stroke="#111" stroke-width="0.3" text-anchor="middle" >526</text>
<text transform="translate(433.24,1001) scale(0.94,1)" font-size="13.6" fill="#111" stroke="#111" stroke-width="0.3" text-anchor="middle" >528</text>
<text x="535.35" y="1022.4" font-size="12.95" fill="#111" stroke="#111" stroke-width="0.3" text-anchor="middle" >Binding Energy [eV]</text>
<text transform="translate(382.6,880.5) rotate(-90)" font-size="13.3" fill="#111" stroke="#111" stroke-width="0.3" text-anchor="middle">Counts [s]</text>
<text transform="translate(1.80,815.8) scale(1.0,1)" font-size="36" fill="#2b2b2b">g</text>
<text transform="translate(25.70,815.8) scale(0.87,1)" font-size="37" fill="#2b2b2b">)</text>
<text transform="translate(354.30,815.8) scale(1.0,1)" font-size="36" fill="#2b2b2b">h</text>
<text transform="translate(378.90,815.8) scale(0.87,1)" font-size="37" fill="#2b2b2b">)</text>
<text x="307.6" y="798.3" font-size="12.9" fill="#111" stroke="#111" stroke-width="0.3" text-anchor="end" >O 1s bulk-gCN</text>
<text x="668.6" y="798.7" font-size="12.9" fill="#111" stroke="#111" stroke-width="0.3" text-anchor="end" >O 1s fructose_6h</text>
<path d="M75.80,921.60 L76.30,921.60 L76.80,921.60 L77.30,921.60 L77.80,921.60 L78.30,921.60 L78.80,921.61 L79.30,921.61 L79.80,921.61 L80.30,921.62 L80.80,921.62 L81.30,921.62 L81.80,921.63 L82.30,921.63 L82.80,921.64 L83.30,921.64 L83.80,921.65 L84.30,921.65 L84.80,921.66 L85.30,921.66 L85.80,921.67 L86.30,921.68 L86.80,921.69 L87.30,921.69 L87.80,921.70 L88.30,921.71 L88.80,921.72 L89.30,921.73 L89.80,921.74 L90.30,921.74 L90.80,921.75 L91.30,921.76 L91.80,921.77 L92.30,921.78 L92.80,921.79 L93.30,921.81 L93.80,921.82 L94.30,921.83 L94.80,921.84 L95.30,921.85 L95.80,921.86 L96.30,921.87 L96.80,921.89 L97.30,921.90 L97.80,921.91 L98.30,921.93 L98.80,921.94 L99.30,921.95 L99.80,921.97 L100.30,921.98 L100.80,921.99 L101.30,922.01 L101.80,922.02 L102.30,922.04 L102.80,922.05 L103.30,922.06 L103.80,922.08 L104.30,922.09 L104.80,922.11 L105.30,922.12 L105.80,922.14 L106.30,922.15 L106.80,922.17 L107.30,922.19 L107.80,922.20 L108.30,922.22 L108.80,922.23 L109.30,922.25 L109.80,922.27 L110.30,922.28 L110.80,922.30 L111.30,922.32 L111.80,922.33 L112.30,922.35 L112.80,922.37 L113.30,922.38 L113.80,922.40 L114.30,922.42 L114.80,922.43 L115.30,922.45 L115.80,922.47 L116.30,922.48 L116.80,922.50 L117.30,922.52 L117.80,922.53 L118.30,922.55 L118.80,922.57 L119.30,922.59 L119.80,922.60 L120.30,922.62 L120.80,922.64 L121.30,922.66 L121.80,922.68 L122.30,922.70 L122.80,922.72 L123.30,922.74 L123.80,922.76 L124.30,922.79 L124.80,922.81 L125.30,922.84 L125.80,922.86 L126.30,922.89 L126.80,922.91 L127.30,922.94 L127.80,922.97 L128.30,922.99 L128.80,923.02 L129.30,923.05 L129.80,923.08 L130.30,923.11 L130.80,923.14 L131.30,923.17 L131.80,923.20 L132.30,923.23 L132.80,923.26 L133.30,923.29 L133.80,923.33 L134.30,923.36 L134.80,923.39 L135.30,923.43 L135.80,923.46 L136.30,923.49 L136.80,923.53 L137.30,923.56 L137.80,923.60 L138.30,923.63 L138.80,923.67 L139.30,923.70 L139.80,923.74 L140.30,923.78 L140.80,923.81 L141.30,923.85 L141.80,923.89 L142.30,923.92 L142.80,923.96 L143.30,924.00 L143.80,924.03 L144.30,924.07 L144.80,924.11 L145.30,924.15 L145.80,924.18 L146.30,924.22 L146.80,924.26 L147.30,924.30 L147.80,924.33 L148.30,924.37 L148.80,924.41 L149.30,924.45 L149.80,924.48 L150.30,924.52 L150.80,924.56 L151.30,924.60 L151.80,924.64 L152.30,924.68 L152.80,924.72 L153.30,924.76 L153.80,924.80 L154.30,924.85 L154.80,924.89 L155.30,924.93 L155.80,924.98 L156.30,925.02 L156.80,925.07 L157.30,925.11 L157.80,925.16 L158.30,925.21 L158.80,925.25 L159.30,925.30 L159.80,925.35 L160.30,925.39 L160.80,925.44 L161.30,925.49 L161.80,925.54 L162.30,925.59 L162.80,925.64 L163.30,925.68 L163.80,925.73 L164.30,925.78 L164.80,925.83 L165.30,925.88 L165.80,925.93 L166.30,925.98 L166.80,926.03 L167.30,926.08 L167.80,926.13 L168.30,926.18 L168.80,926.23 L169.30,926.28 L169.80,926.33 L170.30,926.38 L170.80,926.42 L171.30,926.47 L171.80,926.52 L172.30,926.57 L172.80,926.62 L173.30,926.67 L173.80,926.71 L174.30,926.76 L174.80,926.81 L175.30,926.85 L175.80,926.90 L176.30,926.95 L176.80,926.99 L177.30,927.04 L177.80,927.08 L178.30,927.13 L178.80,927.17 L179.30,927.21 L179.80,927.26 L180.30,927.30 L180.80,927.35 L181.30,927.39 L181.80,927.43 L182.30,927.48 L182.80,927.52 L183.30,927.56 L183.80,927.60 L184.30,927.65 L184.80,927.69 L185.30,927.73 L185.80,927.77 L186.30,927.82 L186.80,927.86 L187.30,927.90 L187.80,927.94 L188.30,927.98 L188.80,928.03 L189.30,928.07 L189.80,928.11 L190.30,928.15 L190.80,928.19 L191.30,928.23 L191.80,928.28 L192.30,928.32 L192.80,928.36 L193.30,928.40 L193.80,928.44 L194.30,928.48 L194.80,928.52 L195.30,928.57 L195.80,928.61 L196.30,928.65 L196.80,928.69 L197.30,928.73 L197.80,928.77 L198.30,928.81 L198.80,928.86 L199.30,928.90 L199.80,928.94 L200.30,928.98 L200.80,929.02 L201.30,929.06 L201.80,929.10 L202.30,929.15 L202.80,929.19 L203.30,929.23 L203.80,929.27 L204.30,929.31 L204.80,929.36 L205.30,929.40 L205.80,929.44 L206.30,929.48 L206.80,929.53 L207.30,929.57 L207.80,929.61 L208.30,929.65 L208.80,929.70 L209.30,929.74 L209.80,929.78 L210.30,929.83 L210.80,929.87 L211.30,929.92 L211.80,929.96 L212.30,930.01 L212.80,930.06 L213.30,930.11 L213.80,930.15 L214.30,930.21 L214.80,930.26 L215.30,930.31 L215.80,930.36 L216.30,930.41 L216.80,930.47 L217.30,930.52 L217.80,930.57 L218.30,930.63 L218.80,930.68 L219.30,930.74 L219.80,930.80 L220.30,930.85 L220.80,930.91 L221.30,930.97 L221.80,931.02 L222.30,931.08 L222.80,931.14 L223.30,931.20 L223.80,931.25 L224.30,931.31 L224.80,931.37 L225.30,931.43 L225.80,931.48 L226.30,931.54 L226.80,931.60 L227.30,931.66 L227.80,931.71 L228.30,931.77 L228.80,931.83 L229.30,931.88 L229.80,931.94 L230.30,932.00 L230.80,932.05 L231.30,932.11 L231.80,932.16 L232.30,932.22 L232.80,932.27 L233.30,932.32 L233.80,932.37 L234.30,932.43 L234.80,932.48 L235.30,932.53 L235.80,932.58 L236.30,932.63 L236.80,932.68 L237.30,932.72 L237.80,932.77 L238.30,932.82 L238.80,932.86 L239.30,932.90 L239.80,932.95 L240.30,932.99 L240.80,933.03 L241.30,933.07 L241.80,933.11 L242.30,933.14 L242.80,933.18 L243.30,933.22 L243.80,933.25 L244.30,933.28 L244.80,933.31 L245.30,933.34 L245.80,933.37 L246.30,933.40 L246.80,933.42 L247.30,933.45 L247.80,933.47 L248.30,933.49 L248.80,933.51 L249.30,933.53 L249.80,933.54 L250.30,933.56 L250.80,933.57 L251.30,933.58 L251.80,933.59 L252.30,933.60 L252.80,933.60 L253.30,933.61 L253.80,933.61 L254.30,933.61 L254.80,933.62 L255.30,933.62 L255.80,933.63 L256.30,933.63 L256.80,933.64 L257.30,933.64 L257.80,933.64 L258.30,933.65 L258.80,933.65 L259.30,933.66 L259.80,933.66 L260.30,933.66 L260.80,933.67 L261.30,933.67 L261.80,933.68 L262.30,933.68 L262.80,933.68 L263.30,933.69 L263.80,933.69 L264.30,933.69 L264.80,933.70 L265.30,933.70 L265.80,933.70 L266.30,933.71 L266.80,933.71 L267.30,933.71 L267.80,933.72 L268.30,933.72 L268.80,933.72 L269.30,933.73 L269.80,933.73 L270.30,933.73 L270.80,933.73 L271.30,933.74 L271.80,933.74 L272.30,933.74 L272.80,933.75 L273.30,933.75 L273.80,933.75 L274.30,933.75 L274.80,933.76 L275.30,933.76 L275.80,933.76 L276.30,933.76 L276.80,933.76 L277.30,933.77 L277.80,933.77 L278.30,933.77 L278.80,933.77 L279.30,933.77 L279.80,933.78 L280.30,933.78 L280.80,933.78 L281.30,933.78 L281.80,933.78 L282.30,933.78 L282.80,933.78 L283.30,933.79 L283.80,933.79 L284.30,933.79 L284.80,933.79 L285.30,933.79 L285.80,933.79 L286.30,933.79 L286.80,933.79 L287.30,933.79 L287.80,933.80 L288.30,933.80 L288.80,933.80 L289.30,933.80 L289.80,933.80 L290.30,933.80 L290.80,933.80 L291.30,933.80 L291.80,933.80 L292.30,933.80 L292.80,933.80 L293.30,933.80" fill="none" stroke="#1a1a1a" stroke-width="0.95" stroke-linejoin="round" stroke-linecap="round"/>
<path d="M38.50,934.20 L41.00,933.80 L44.10,934.60 L46.00,935.00 L48.50,925.00 L51.30,916.50 L54.00,913.00 L58.40,910.50 L62.50,909.70 L67.00,908.00 L71.70,906.50 L73.50,908.50 L74.80,912.16 L75.30,911.97 L75.80,911.78 L76.30,911.58 L76.80,911.38 L77.30,911.18 L77.80,910.97 L78.30,910.76 L78.80,910.55 L79.30,910.33 L79.80,910.11 L80.30,909.88 L80.80,909.66 L81.30,909.42 L81.80,909.19 L82.30,908.95 L82.80,908.70 L83.30,908.45 L83.80,908.20 L84.30,907.94 L84.80,907.68 L85.30,907.41 L85.80,907.14 L86.30,906.87 L86.80,906.59 L87.30,906.31 L87.80,906.02 L88.30,905.72 L88.80,905.43 L89.30,905.12 L89.80,904.82 L90.30,904.50 L90.80,904.19 L91.30,903.87 L91.80,903.54 L92.30,903.21 L92.80,902.87 L93.30,902.53 L93.80,902.18 L94.30,901.83 L94.80,901.47 L95.30,901.11 L95.80,900.74 L96.30,900.37 L96.80,899.99 L97.30,899.61 L97.80,899.22 L98.30,898.82 L98.80,898.42 L99.30,898.02 L99.80,897.61 L100.30,897.19 L100.80,896.77 L101.30,896.34 L101.80,895.91 L102.30,895.47 L102.80,895.03 L103.30,894.58 L103.80,894.12 L104.30,893.66 L104.80,893.19 L105.30,892.72 L105.80,892.24 L106.30,891.76 L106.80,891.27 L107.30,890.78 L107.80,890.28 L108.30,889.77 L108.80,889.26 L109.30,888.74 L109.80,888.22 L110.30,887.69 L110.80,887.16 L111.30,886.62 L111.80,886.07 L112.30,885.52 L112.80,884.97 L113.30,884.40 L113.80,883.84 L114.30,883.27 L114.80,882.69 L115.30,882.10 L115.80,881.52 L116.30,880.92 L116.80,880.32 L117.30,879.72 L117.80,879.11 L118.30,878.50 L118.80,877.88 L119.30,877.26 L119.80,876.63 L120.30,876.00 L120.80,875.36 L121.30,874.72 L121.80,874.07 L122.30,873.43 L122.80,872.77 L123.30,872.12 L123.80,871.46 L124.30,870.80 L124.80,870.13 L125.30,869.46 L125.80,868.79 L126.30,868.11 L126.80,867.44 L127.30,866.75 L127.80,866.07 L128.30,865.38 L128.80,864.69 L129.30,864.00 L129.80,863.30 L130.30,862.61 L130.80,861.91 L131.30,861.20 L131.80,860.50 L132.30,859.80 L132.80,859.09 L133.30,858.38 L133.80,857.67 L134.30,856.96 L134.80,856.24 L135.30,855.53 L135.80,854.81 L136.30,854.10 L136.80,853.38 L137.30,852.66 L137.80,851.94 L138.30,851.23 L138.80,850.51 L139.30,849.79 L139.80,849.07 L140.30,848.35 L140.80,847.64 L141.30,846.92 L141.80,846.21 L142.30,845.49 L142.80,844.78 L143.30,844.07 L143.80,843.36 L144.30,842.65 L144.80,841.94 L145.30,841.24 L145.80,840.53 L146.30,839.83 L146.80,839.13 L147.30,838.44 L147.80,837.75 L148.30,837.06 L148.80,836.37 L149.30,835.69 L149.80,835.01 L150.30,834.34 L150.80,833.67 L151.30,833.01 L151.80,832.35 L152.30,831.69 L152.80,831.05 L153.30,830.40 L153.80,829.77 L154.30,829.14 L154.80,828.51 L155.30,827.90 L155.80,827.29 L156.30,826.68 L156.80,826.09 L157.30,825.50 L157.80,824.91 L158.30,824.34 L158.80,823.77 L159.30,823.22 L159.80,822.67 L160.30,822.12 L160.80,821.59 L161.30,821.07 L161.80,820.55 L162.30,820.04 L162.80,819.55 L163.30,819.06 L163.80,818.58 L164.30,818.11 L164.80,817.66 L165.30,817.21 L165.80,816.77 L166.30,816.34 L166.80,815.93 L167.30,815.52 L167.80,815.13 L168.30,814.74 L168.80,814.37 L169.30,814.01 L169.80,813.66 L170.30,813.32 L170.80,813.00 L171.30,812.68 L171.80,812.38 L172.30,812.09 L172.80,811.82 L173.30,811.55 L173.80,811.30 L174.30,811.06 L174.80,810.83 L175.30,810.62 L175.80,810.42 L176.30,810.23 L176.80,810.06 L177.30,809.89 L177.80,809.75 L178.30,809.61 L178.80,809.49 L179.30,809.38 L179.80,809.29 L180.30,809.21 L180.80,809.15 L181.30,809.09 L181.80,809.06 L182.30,809.03 L182.80,809.02 L183.30,809.03 L183.80,809.05 L184.30,809.08 L184.80,809.13 L185.30,809.19 L185.80,809.27 L186.30,809.36 L186.80,809.47 L187.30,809.58 L187.80,809.72 L188.30,809.87 L188.80,810.03 L189.30,810.20 L189.80,810.39 L190.30,810.60 L190.80,810.81 L191.30,811.04 L191.80,811.29 L192.30,811.55 L192.80,811.82 L193.30,812.10 L193.80,812.40 L194.30,812.71 L194.80,813.04 L195.30,813.38 L195.80,813.73 L196.30,814.09 L196.80,814.47 L197.30,814.86 L197.80,815.26 L198.30,815.67 L198.80,816.10 L199.30,816.53 L199.80,816.98 L200.30,817.44 L200.80,817.92 L201.30,818.40 L201.80,818.89 L202.30,819.40 L202.80,819.91 L203.30,820.44 L203.80,820.98 L204.30,821.52 L204.80,822.08 L205.30,822.65 L205.80,823.22 L206.30,823.81 L206.80,824.41 L207.30,825.01 L207.80,825.62 L208.30,826.24 L208.80,826.87 L209.30,827.51 L209.80,828.16 L210.30,828.81 L210.80,829.48 L211.30,830.15 L211.80,830.83 L212.30,831.52 L212.80,832.21 L213.30,832.91 L213.80,833.62 L214.30,834.34 L214.80,835.06 L215.30,835.79 L215.80,836.52 L216.30,837.26 L216.80,838.01 L217.30,838.76 L217.80,839.52 L218.30,840.28 L218.80,841.04 L219.30,841.81 L219.80,842.59 L220.30,843.37 L220.80,844.15 L221.30,844.94 L221.80,845.72 L222.30,846.52 L222.80,847.31 L223.30,848.11 L223.80,848.91 L224.30,849.71 L224.80,850.51 L225.30,851.32 L225.80,852.12 L226.30,852.93 L226.80,853.74 L227.30,854.55 L227.80,855.36 L228.30,856.17 L228.80,856.98 L229.30,857.79 L229.80,858.60 L230.30,859.41 L230.80,860.22 L231.30,861.03 L231.80,861.83 L232.30,862.64 L232.80,863.44 L233.30,864.25 L233.80,865.05 L234.30,865.85 L234.80,866.64 L235.30,867.44 L235.80,868.23 L236.30,869.02 L236.80,869.80 L237.30,870.58 L237.80,871.36 L238.30,872.14 L238.80,872.91 L239.30,873.68 L239.80,874.45 L240.30,875.21 L240.80,875.96 L241.30,876.72 L241.80,877.46 L242.30,878.21 L242.80,878.94 L243.30,879.68 L243.80,880.41 L244.30,881.13 L244.80,881.85 L245.30,882.56 L245.80,883.26 L246.30,883.97 L246.80,884.66 L247.30,885.35 L247.80,886.03 L248.30,886.71 L248.80,887.38 L249.30,888.04 L249.80,888.70 L250.30,889.35 L250.80,890.00 L251.30,890.64 L251.80,891.27 L252.30,891.89 L252.80,892.51 L253.30,893.12 L253.80,893.72 L254.30,894.32 L254.80,894.92 L255.30,895.51 L255.80,896.09 L256.30,896.67 L256.80,897.24 L257.30,897.81 L257.80,898.37 L258.30,898.93 L258.80,899.48 L259.30,900.02 L259.80,900.56 L260.30,901.09 L260.80,901.62 L261.30,902.14 L261.80,902.66 L262.30,903.17 L262.80,903.67 L263.30,904.17 L263.80,904.66 L264.30,905.15 L264.80,905.63 L265.30,906.10 L265.80,906.57 L266.30,907.04 L266.80,907.49 L267.30,907.94 L267.80,908.39 L268.30,908.83 L268.80,909.26 L269.30,909.69 L269.80,910.12 L270.30,910.53 L270.80,910.94 L271.30,911.35 L271.80,911.75 L272.30,912.15 L272.80,912.53 L273.30,912.92 L273.80,913.30 L274.30,913.67 L274.80,914.03 L275.30,914.40 L275.80,914.75 L276.30,915.10 L276.80,915.45 L277.30,915.79 L277.80,916.12 L278.30,916.45 L278.80,916.78 L279.30,917.10 L279.80,917.41 L280.30,917.72 L280.80,918.02 L281.30,918.32 L281.80,918.62 L282.30,918.91 L282.80,919.19 L283.30,919.47 L283.80,919.74 L284.30,920.01 L284.80,920.28 L285.30,920.54 L285.80,920.80 L286.30,921.05 L286.80,921.30 L287.30,921.54 L287.80,921.78 L288.30,922.01 L288.80,922.24 L289.30,922.47 L289.80,922.69 L290.30,922.91 L290.80,923.12 L291.30,923.33 L291.80,923.53 L292.30,923.73 L292.80,923.93 L293.30,924.13 L296.00,926.50 L299.80,929.10 L303.00,922.00 L307.50,909.70 L311.00,913.80" fill="none" stroke="#e31212" stroke-width="1.0" stroke-linejoin="round" stroke-linecap="round"/>
<path d="M38.50,937.30 C38.93,937.13 39.98,936.07 41.10,936.30 C42.22,936.53 43.50,941.77 45.20,938.70 C46.90,935.63 49.43,922.22 51.30,917.90 C53.17,913.58 54.70,913.75 56.40,912.80 C58.10,911.85 59.12,912.88 61.50,912.20 C63.88,911.52 68.83,909.12 70.70,908.70 C72.57,908.28 71.33,905.62 72.70,909.70 C74.07,913.78 77.25,930.13 78.90,933.20 C80.55,936.27 80.90,934.23 82.60,928.10 C84.30,921.97 87.50,902.18 89.10,896.40 C90.70,890.62 90.50,891.70 92.20,893.40 C93.90,895.10 97.10,906.27 99.30,906.60 C101.50,906.93 103.70,895.22 105.40,895.40 C107.10,895.58 108.20,904.97 109.50,907.70 C110.80,910.43 111.50,920.73 113.20,911.80 C114.90,902.87 118.17,863.82 119.70,854.10 C121.23,844.38 121.20,850.87 122.40,853.50 C123.60,856.13 125.63,867.28 126.90,869.90 C128.17,872.52 128.30,875.68 130.00,869.20 C131.70,862.72 135.40,837.70 137.10,831.00 C138.80,824.30 138.50,827.47 140.20,829.00 C141.90,830.53 145.60,838.83 147.30,840.20 C149.00,841.57 148.68,839.92 150.40,837.20 C152.12,834.48 155.90,826.63 157.60,823.90 C159.30,821.17 158.73,823.87 160.60,820.80 C162.47,817.73 166.92,808.22 168.80,805.50 C170.68,802.78 170.33,804.17 171.90,804.50 C173.47,804.83 176.13,802.30 178.20,807.50 C180.27,812.70 182.17,834.33 184.30,835.70 C186.43,837.07 188.62,816.03 191.00,815.70 C193.38,815.37 196.82,831.15 198.60,833.70 C200.38,836.25 200.17,834.17 201.70,831.00 C203.23,827.83 206.10,817.25 207.80,814.70 C209.50,812.15 210.03,812.47 211.90,815.70 C213.77,818.93 216.78,827.80 219.00,834.10 C221.22,840.40 223.32,849.82 225.20,853.50 C227.08,857.18 228.43,855.62 230.30,856.20 C232.17,856.78 234.53,856.25 236.40,857.00 C238.27,857.75 238.78,857.02 241.50,860.70 C244.22,864.38 250.15,872.98 252.70,879.10 C255.25,885.22 254.58,887.87 256.80,897.40 C259.02,906.93 263.27,933.57 266.00,936.30 C268.73,939.03 271.32,918.85 273.20,913.80 C275.08,908.75 276.12,907.20 277.30,906.00 C278.48,904.80 278.60,902.58 280.30,906.60 C282.00,910.62 285.28,925.83 287.50,930.10 C289.72,934.37 291.55,930.90 293.60,932.20 C295.65,933.50 297.58,940.63 299.80,937.90 C302.02,935.17 305.03,918.80 306.90,915.80 C308.77,912.80 310.32,919.22 311.00,919.90" fill="none" stroke="#1a1a1a" stroke-width="1.0" stroke-linejoin="round" stroke-linecap="round" />
<path d="M399.20,933.80 L399.70,933.80 L400.20,933.80 L400.70,933.80 L401.20,933.80 L401.70,933.80 L402.20,933.80 L402.70,933.80 L403.20,933.80 L403.70,933.81 L404.20,933.81 L404.70,933.81 L405.20,933.81 L405.70,933.81 L406.20,933.81 L406.70,933.82 L407.20,933.82 L407.70,933.82 L408.20,933.82 L408.70,933.83 L409.20,933.83 L409.70,933.83 L410.20,933.84 L410.70,933.84 L411.20,933.84 L411.70,933.84 L412.20,933.85 L412.70,933.85 L413.20,933.86 L413.70,933.86 L414.20,933.86 L414.70,933.87 L415.20,933.87 L415.70,933.88 L416.20,933.88 L416.70,933.89 L417.20,933.89 L417.70,933.90 L418.20,933.90 L418.70,933.91 L419.20,933.91 L419.70,933.92 L420.20,933.92 L420.70,933.93 L421.20,933.93 L421.70,933.94 L422.20,933.94 L422.70,933.95 L423.20,933.95 L423.70,933.96 L424.20,933.97 L424.70,933.97 L425.20,933.98 L425.70,933.99 L426.20,933.99 L426.70,934.00 L427.20,934.01 L427.70,934.01 L428.20,934.02 L428.70,934.03 L429.20,934.03 L429.70,934.04 L430.20,934.05 L430.70,934.05 L431.20,934.06 L431.70,934.07 L432.20,934.08 L432.70,934.08 L433.20,934.09 L433.70,934.10 L434.20,934.11 L434.70,934.12 L435.20,934.12 L435.70,934.13 L436.20,934.14 L436.70,934.15 L437.20,934.16 L437.70,934.16 L438.20,934.17 L438.70,934.18 L439.20,934.19 L439.70,934.20 L440.20,934.21 L440.70,934.21 L441.20,934.22 L441.70,934.24 L442.20,934.25 L442.70,934.26 L443.20,934.27 L443.70,934.29 L444.20,934.30 L444.70,934.32 L445.20,934.33 L445.70,934.35 L446.20,934.37 L446.70,934.39 L447.20,934.41 L447.70,934.43 L448.20,934.45 L448.70,934.47 L449.20,934.49 L449.70,934.51 L450.20,934.54 L450.70,934.56 L451.20,934.58 L451.70,934.61 L452.20,934.63 L452.70,934.66 L453.20,934.69 L453.70,934.71 L454.20,934.74 L454.70,934.77 L455.20,934.80 L455.70,934.83 L456.20,934.86 L456.70,934.89 L457.20,934.92 L457.70,934.95 L458.20,934.98 L458.70,935.01 L459.20,935.04 L459.70,935.08 L460.20,935.11 L460.70,935.14 L461.20,935.18 L461.70,935.21 L462.20,935.25 L462.70,935.28 L463.20,935.32 L463.70,935.35 L464.20,935.39 L464.70,935.43 L465.20,935.46 L465.70,935.50 L466.20,935.54 L466.70,935.58 L467.20,935.61 L467.70,935.65 L468.20,935.69 L468.70,935.73 L469.20,935.77 L469.70,935.81 L470.20,935.85 L470.70,935.89 L471.20,935.93 L471.70,935.97 L472.20,936.01 L472.70,936.05 L473.20,936.09 L473.70,936.13 L474.20,936.17 L474.70,936.21 L475.20,936.25 L475.70,936.29 L476.20,936.33 L476.70,936.37 L477.20,936.41 L477.70,936.45 L478.20,936.49 L478.70,936.54 L479.20,936.58 L479.70,936.62 L480.20,936.66 L480.70,936.70 L481.20,936.74 L481.70,936.78 L482.20,936.83 L482.70,936.87 L483.20,936.92 L483.70,936.96 L484.20,937.01 L484.70,937.05 L485.20,937.10 L485.70,937.15 L486.20,937.20 L486.70,937.25 L487.20,937.30 L487.70,937.35 L488.20,937.40 L488.70,937.46 L489.20,937.51 L489.70,937.56 L490.20,937.62 L490.70,937.67 L491.20,937.73 L491.70,937.78 L492.20,937.84 L492.70,937.90 L493.20,937.96 L493.70,938.02 L494.20,938.07 L494.70,938.13 L495.20,938.19 L495.70,938.26 L496.20,938.32 L496.70,938.38 L497.20,938.44 L497.70,938.50 L498.20,938.57 L498.70,938.63 L499.20,938.70 L499.70,938.76 L500.20,938.83 L500.70,938.89 L501.20,938.96 L501.70,939.03 L502.20,939.09 L502.70,939.16 L503.20,939.23 L503.70,939.30 L504.20,939.36 L504.70,939.43 L505.20,939.50 L505.70,939.57 L506.20,939.64 L506.70,939.71 L507.20,939.78 L507.70,939.85 L508.20,939.92 L508.70,940.00 L509.20,940.07 L509.70,940.14 L510.20,940.21 L510.70,940.29 L511.20,940.36 L511.70,940.43 L512.20,940.50 L512.70,940.58 L513.20,940.65 L513.70,940.73 L514.20,940.80 L514.70,940.87 L515.20,940.95 L515.70,941.02 L516.20,941.10 L516.70,941.17 L517.20,941.25 L517.70,941.32 L518.20,941.40 L518.70,941.47 L519.20,941.55 L519.70,941.62 L520.20,941.70 L520.70,941.77 L521.20,941.85 L521.70,941.93 L522.20,942.00 L522.70,942.08 L523.20,942.15 L523.70,942.23 L524.20,942.30 L524.70,942.38 L525.20,942.46 L525.70,942.53 L526.20,942.61 L526.70,942.68 L527.20,942.76 L527.70,942.83 L528.20,942.91 L528.70,942.98 L529.20,943.06 L529.70,943.14 L530.20,943.21 L530.70,943.28 L531.20,943.36 L531.70,943.43 L532.20,943.51 L532.70,943.58 L533.20,943.66 L533.70,943.73 L534.20,943.80 L534.70,943.88 L535.20,943.95 L535.70,944.02 L536.20,944.10 L536.70,944.17 L537.20,944.24 L537.70,944.31 L538.20,944.39 L538.70,944.46 L539.20,944.53 L539.70,944.60 L540.20,944.67 L540.70,944.75 L541.20,944.83 L541.70,944.90 L542.20,944.98 L542.70,945.06 L543.20,945.14 L543.70,945.22 L544.20,945.30 L544.70,945.39 L545.20,945.47 L545.70,945.55 L546.20,945.64 L546.70,945.72 L547.20,945.81 L547.70,945.90 L548.20,945.98 L548.70,946.07 L549.20,946.16 L549.70,946.24 L550.20,946.33 L550.70,946.42 L551.20,946.51 L551.70,946.59 L552.20,946.68 L552.70,946.77 L553.20,946.86 L553.70,946.95 L554.20,947.03 L554.70,947.12 L555.20,947.21 L555.70,947.29 L556.20,947.38 L556.70,947.46 L557.20,947.55 L557.70,947.63 L558.20,947.71 L558.70,947.80 L559.20,947.88 L559.70,947.96 L560.20,948.04 L560.70,948.12 L561.20,948.20 L561.70,948.27 L562.20,948.35 L562.70,948.42 L563.20,948.50 L563.70,948.57 L564.20,948.64 L564.70,948.71 L565.20,948.78 L565.70,948.84 L566.20,948.91 L566.70,948.97 L567.20,949.03 L567.70,949.09 L568.20,949.15 L568.70,949.21 L569.20,949.26 L569.70,949.31 L570.20,949.36 L570.70,949.41 L571.20,949.46 L571.70,949.50 L572.20,949.55 L572.70,949.58 L573.20,949.62 L573.70,949.66 L574.20,949.70 L574.70,949.73 L575.20,949.77 L575.70,949.81 L576.20,949.85 L576.70,949.88 L577.20,949.92 L577.70,949.96 L578.20,949.99 L578.70,950.03 L579.20,950.07 L579.70,950.10 L580.20,950.14 L580.70,950.17 L581.20,950.21 L581.70,950.25 L582.20,950.28 L582.70,950.32 L583.20,950.35 L583.70,950.38 L584.20,950.42 L584.70,950.45 L585.20,950.49 L585.70,950.52 L586.20,950.55 L586.70,950.59 L587.20,950.62 L587.70,950.65 L588.20,950.68 L588.70,950.71 L589.20,950.74 L589.70,950.77 L590.20,950.80 L590.70,950.83 L591.20,950.86 L591.70,950.89 L592.20,950.92 L592.70,950.95 L593.20,950.98 L593.70,951.00 L594.20,951.03 L594.70,951.06 L595.20,951.08 L595.70,951.11 L596.20,951.13 L596.70,951.16 L597.20,951.18 L597.70,951.21 L598.20,951.23 L598.70,951.25 L599.20,951.27 L599.70,951.29 L600.20,951.31 L600.70,951.33 L601.20,951.35 L601.70,951.37 L602.20,951.39 L602.70,951.40 L603.20,951.42 L603.70,951.44 L604.20,951.45 L604.70,951.47 L605.20,951.48 L605.70,951.49 L606.20,951.51 L606.70,951.52 L607.20,951.53 L607.70,951.54 L608.20,951.55 L608.70,951.56 L609.20,951.57 L609.70,951.57 L610.20,951.58 L610.70,951.58 L611.20,951.59 L611.70,951.59 L612.20,951.60 L612.70,951.60 L613.20,951.60 L613.70,951.60 L614.20,951.60 L614.70,951.60 L615.20,951.60 L615.70,951.60 L616.20,951.60 L616.70,951.60 L617.20,951.60 L617.70,951.60 L618.20,951.60 L618.70,951.60 L619.20,951.60 L619.70,951.60 L620.20,951.60 L620.70,951.60 L621.20,951.60 L621.70,951.60 L622.20,951.60 L622.70,951.60 L623.20,951.60 L623.70,951.60 L624.20,951.60 L624.70,951.60 L625.20,951.60 L625.70,951.60 L626.20,951.60 L626.70,951.60 L627.20,951.60 L627.70,951.60 L628.20,951.60 L628.70,951.60 L629.20,951.60 L629.70,951.60 L630.20,951.60 L630.70,951.60 L631.20,951.60 L631.70,951.60 L632.20,951.60 L632.70,951.60 L633.20,951.60 L633.70,951.60 L634.20,951.60 L634.70,951.60 L635.20,951.60 L635.70,951.60 L636.20,951.60 L636.70,951.60 L637.20,951.60 L637.70,951.60 L638.20,951.60 L638.70,951.60 L639.20,951.60 L639.70,951.60 L640.20,951.60 L640.70,951.60 L641.20,951.60 L641.70,951.60 L642.20,951.60 L642.70,951.60 L643.20,951.60 L643.70,951.60 L644.20,951.60 L644.70,951.60 L645.20,951.60 L645.70,951.60 L646.20,951.60 L646.70,951.60 L647.20,951.60 L647.70,951.60 L648.20,951.60 L648.70,951.60 L649.20,951.60 L649.70,951.60 L650.20,951.60 L650.70,951.60 L651.20,951.60 L651.70,951.60 L652.20,951.60 L652.70,951.60 L653.20,951.60 L653.70,951.60 L654.20,951.60 L654.70,951.60 L655.20,951.60 L655.70,951.60 L656.20,951.60 L656.70,951.60 L657.20,951.60 L657.70,951.60 L658.20,951.60 L658.70,951.60 L659.20,951.60 L659.70,951.60" fill="none" stroke="#1a1a1a" stroke-width="0.95" stroke-linejoin="round" stroke-linecap="round"/>
<path d="M399.20,929.10 L402.10,930.20 L405.00,928.00 L407.20,928.23 L407.70,928.13 L408.20,928.02 L408.70,927.92 L409.20,927.81 L409.70,927.69 L410.20,927.58 L410.70,927.46 L411.20,927.34 L411.70,927.22 L412.20,927.09 L412.70,926.96 L413.20,926.83 L413.70,926.70 L414.20,926.56 L414.70,926.42 L415.20,926.27 L415.70,926.13 L416.20,925.97 L416.70,925.82 L417.20,925.66 L417.70,925.50 L418.20,925.34 L418.70,925.17 L419.20,924.99 L419.70,924.82 L420.20,924.64 L420.70,924.45 L421.20,924.26 L421.70,924.07 L422.20,923.87 L422.70,923.67 L423.20,923.47 L423.70,923.26 L424.20,923.04 L424.70,922.82 L425.20,922.60 L425.70,922.37 L426.20,922.14 L426.70,921.90 L427.20,921.66 L427.70,921.41 L428.20,921.16 L428.70,920.90 L429.20,920.64 L429.70,920.37 L430.20,920.09 L430.70,919.81 L431.20,919.53 L431.70,919.24 L432.20,918.94 L432.70,918.64 L433.20,918.33 L433.70,918.02 L434.20,917.70 L434.70,917.37 L435.20,917.04 L435.70,916.70 L436.20,916.36 L436.70,916.01 L437.20,915.65 L437.70,915.29 L438.20,914.92 L438.70,914.55 L439.20,914.16 L439.70,913.77 L440.20,913.38 L440.70,912.98 L441.20,912.57 L441.70,912.15 L442.20,911.73 L442.70,911.31 L443.20,910.87 L443.70,910.43 L444.20,909.99 L444.70,909.54 L445.20,909.08 L445.70,908.61 L446.20,908.14 L446.70,907.66 L447.20,907.18 L447.70,906.69 L448.20,906.19 L448.70,905.68 L449.20,905.17 L449.70,904.65 L450.20,904.12 L450.70,903.59 L451.20,903.05 L451.70,902.50 L452.20,901.95 L452.70,901.38 L453.20,900.82 L453.70,900.24 L454.20,899.66 L454.70,899.07 L455.20,898.47 L455.70,897.87 L456.20,897.25 L456.70,896.64 L457.20,896.01 L457.70,895.38 L458.20,894.74 L458.70,894.09 L459.20,893.44 L459.70,892.78 L460.20,892.11 L460.70,891.43 L461.20,890.75 L461.70,890.06 L462.20,889.37 L462.70,888.66 L463.20,887.95 L463.70,887.24 L464.20,886.52 L464.70,885.79 L465.20,885.05 L465.70,884.31 L466.20,883.56 L466.70,882.81 L467.20,882.05 L467.70,881.28 L468.20,880.50 L468.70,879.73 L469.20,878.94 L469.70,878.15 L470.20,877.35 L470.70,876.55 L471.20,875.74 L471.70,874.93 L472.20,874.11 L472.70,873.29 L473.20,872.46 L473.70,871.63 L474.20,870.79 L474.70,869.95 L475.20,869.11 L475.70,868.25 L476.20,867.40 L476.70,866.54 L477.20,865.68 L477.70,864.81 L478.20,863.95 L478.70,863.07 L479.20,862.20 L479.70,861.32 L480.20,860.44 L480.70,859.56 L481.20,858.67 L481.70,857.78 L482.20,856.90 L482.70,856.01 L483.20,855.12 L483.70,854.23 L484.20,853.34 L484.70,852.45 L485.20,851.56 L485.70,850.67 L486.20,849.78 L486.70,848.90 L487.20,848.01 L487.70,847.13 L488.20,846.24 L488.70,845.36 L489.20,844.48 L489.70,843.61 L490.20,842.73 L490.70,841.86 L491.20,840.99 L491.70,840.13 L492.20,839.27 L492.70,838.41 L493.20,837.56 L493.70,836.71 L494.20,835.87 L494.70,835.03 L495.20,834.20 L495.70,833.37 L496.20,832.55 L496.70,831.74 L497.20,830.93 L497.70,830.13 L498.20,829.33 L498.70,828.55 L499.20,827.77 L499.70,827.00 L500.20,826.23 L500.70,825.48 L501.20,824.73 L501.70,824.00 L502.20,823.27 L502.70,822.55 L503.20,821.85 L503.70,821.15 L504.20,820.46 L504.70,819.79 L505.20,819.12 L505.70,818.47 L506.20,817.83 L506.70,817.20 L507.20,816.59 L507.70,815.98 L508.20,815.39 L508.70,814.81 L509.20,814.25 L509.70,813.70 L510.20,813.16 L510.70,812.64 L511.20,812.14 L511.70,811.64 L512.20,811.17 L512.70,810.70 L513.20,810.26 L513.70,809.83 L514.20,809.41 L514.70,809.01 L515.20,808.63 L515.70,808.27 L516.20,807.92 L516.70,807.59 L517.20,807.27 L517.70,806.98 L518.20,806.70 L518.70,806.44 L519.20,806.19 L519.70,805.97 L520.20,805.76 L520.70,805.57 L521.20,805.40 L521.70,805.25 L522.20,805.12 L522.70,805.01 L523.20,804.91 L523.70,804.84 L524.20,804.78 L524.70,804.75 L525.20,804.73 L525.70,804.73 L526.20,804.75 L526.70,804.79 L527.20,804.85 L527.70,804.93 L528.20,805.03 L528.70,805.15 L529.20,805.28 L529.70,805.44 L530.20,805.62 L530.70,805.81 L531.20,806.02 L531.70,806.26 L532.20,806.51 L532.70,806.78 L533.20,807.07 L533.70,807.38 L534.20,807.70 L534.70,808.05 L535.20,808.41 L535.70,808.79 L536.20,809.19 L536.70,809.60 L537.20,810.04 L537.70,810.49 L538.20,810.95 L538.70,811.44 L539.20,811.94 L539.70,812.46 L540.20,812.99 L540.70,813.55 L541.20,814.12 L541.70,814.71 L542.20,815.31 L542.70,815.93 L543.20,816.57 L543.70,817.22 L544.20,817.89 L544.70,818.57 L545.20,819.27 L545.70,819.98 L546.20,820.70 L546.70,821.44 L547.20,822.19 L547.70,822.96 L548.20,823.74 L548.70,824.53 L549.20,825.33 L549.70,826.14 L550.20,826.97 L550.70,827.80 L551.20,828.65 L551.70,829.51 L552.20,830.37 L552.70,831.25 L553.20,832.13 L553.70,833.03 L554.20,833.93 L554.70,834.84 L555.20,835.76 L555.70,836.68 L556.20,837.61 L556.70,838.55 L557.20,839.50 L557.70,840.45 L558.20,841.40 L558.70,842.37 L559.20,843.33 L559.70,844.30 L560.20,845.28 L560.70,846.26 L561.20,847.24 L561.70,848.22 L562.20,849.21 L562.70,850.20 L563.20,851.19 L563.70,852.19 L564.20,853.18 L564.70,854.18 L565.20,855.17 L565.70,856.17 L566.20,857.17 L566.70,858.17 L567.20,859.16 L567.70,860.16 L568.20,861.16 L568.70,862.15 L569.20,863.14 L569.70,864.13 L570.20,865.12 L570.70,866.10 L571.20,867.08 L571.70,868.06 L572.20,869.04 L572.70,870.01 L573.20,870.98 L573.70,871.94 L574.20,872.91 L574.70,873.87 L575.20,874.82 L575.70,875.78 L576.20,876.73 L576.70,877.68 L577.20,878.63 L577.70,879.57 L578.20,880.51 L578.70,881.44 L579.20,882.37 L579.70,883.30 L580.20,884.22 L580.70,885.14 L581.20,886.05 L581.70,886.95 L582.20,887.86 L582.70,888.75 L583.20,889.64 L583.70,890.53 L584.20,891.41 L584.70,892.28 L585.20,893.15 L585.70,894.01 L586.20,894.86 L586.70,895.71 L587.20,896.55 L587.70,897.39 L588.20,898.22 L588.70,899.04 L589.20,899.85 L589.70,900.66 L590.20,901.46 L590.70,902.25 L591.20,903.04 L591.70,903.81 L592.20,904.59 L592.70,905.35 L593.20,906.10 L593.70,906.85 L594.20,907.59 L594.70,908.32 L595.20,909.05 L595.70,909.76 L596.20,910.47 L596.70,911.17 L597.20,911.87 L597.70,912.55 L598.20,913.23 L598.70,913.89 L599.20,914.55 L599.70,915.20 L600.20,915.85 L600.70,916.48 L601.20,917.11 L601.70,917.73 L602.20,918.34 L602.70,918.94 L603.20,919.53 L603.70,920.12 L604.20,920.70 L604.70,921.26 L605.20,921.83 L605.70,922.38 L606.20,922.92 L606.70,923.46 L607.20,923.98 L607.70,924.50 L608.20,925.01 L608.70,925.52 L609.20,926.01 L609.70,926.50 L610.20,926.98 L610.70,927.45 L611.20,927.91 L611.70,928.36 L612.20,928.81 L612.70,929.25 L613.20,929.68 L613.70,930.10 L614.20,930.52 L614.70,930.93 L615.20,931.33 L615.70,931.72 L616.20,932.11 L616.70,932.49 L617.20,932.87 L617.70,933.24 L618.20,933.60 L618.70,933.96 L619.20,934.31 L619.70,934.65 L620.20,934.99 L620.70,935.32 L621.20,935.64 L621.70,935.96 L622.20,936.27 L622.70,936.58 L623.20,936.88 L623.70,937.18 L624.20,937.47 L624.70,937.75 L625.20,938.03 L625.70,938.31 L626.20,938.57 L626.70,938.84 L627.20,939.10 L627.70,939.35 L628.20,939.60 L628.70,939.84 L629.20,940.08 L629.70,940.31 L630.20,940.54 L630.70,940.76 L631.20,940.98 L631.70,941.19 L632.20,941.40 L632.70,941.61 L633.20,941.81 L633.70,942.01 L634.20,942.20 L634.70,942.39 L635.20,942.57 L635.70,942.75 L636.20,942.93 L636.70,943.10 L637.20,943.27 L637.70,943.43 L638.20,943.60 L638.70,943.75 L639.20,943.91 L639.70,944.06 L640.20,944.21 L640.70,944.35 L641.20,944.49 L641.70,944.63 L642.20,944.76 L642.70,944.89 L643.20,945.02 L643.70,945.15 L644.20,945.27 L644.70,945.39 L645.20,945.51 L645.70,945.62 L646.20,945.73 L646.70,945.84 L647.20,945.95 L647.70,946.05 L648.20,946.15 L648.70,946.25 L649.20,946.35 L649.70,946.44 L650.20,946.53 L650.70,946.62 L651.20,946.71 L651.70,946.79 L652.20,946.88 L652.70,946.96 L653.20,947.04 L653.70,947.12 L654.20,947.19 L654.70,947.26 L655.20,947.34 L655.70,947.41 L656.20,947.47 L656.70,947.54 L657.20,947.61 L657.70,947.67 L658.20,947.73 L658.70,947.79 L659.20,947.85 L659.70,947.91 L660.20,947.96 L660.70,948.02 L664.00,944.50 L667.90,940.80 L672.00,940.40" fill="none" stroke="#e31212" stroke-width="1.0" stroke-linejoin="round" stroke-linecap="round"/>
<path d="M399.20,934.20 C399.85,934.38 401.77,935.47 403.10,935.30 C404.43,935.13 405.67,934.73 407.20,933.20 C408.73,931.67 410.27,927.63 412.30,926.10 C414.33,924.57 416.85,925.95 419.40,924.00 C421.95,922.05 425.72,915.93 427.60,914.40 C429.48,912.87 429.17,914.22 430.70,914.80 C432.23,915.38 434.77,918.75 436.80,917.90 C438.83,917.05 440.68,913.12 442.90,909.70 C445.12,906.28 447.53,900.12 450.10,897.40 C452.67,894.68 456.08,895.10 458.30,893.40 C460.52,891.70 461.37,890.95 463.40,887.20 C465.43,883.45 468.47,874.47 470.50,870.90 C472.53,867.33 473.90,867.33 475.60,865.80 C477.30,864.27 478.82,864.60 480.70,861.70 C482.58,858.80 484.85,851.98 486.90,848.40 C488.95,844.82 490.62,842.42 493.00,840.20 C495.38,837.98 498.82,838.17 501.20,835.10 C503.58,832.03 505.43,826.05 507.30,821.80 C509.17,817.55 510.02,810.78 512.40,809.60 C514.78,808.42 519.03,815.38 521.60,814.70 C524.17,814.02 525.92,807.78 527.80,805.50 C529.68,803.22 531.52,801.35 532.90,801.00 C534.28,800.65 534.20,800.95 536.10,803.40 C538.00,805.85 541.58,812.45 544.30,815.70 C547.02,818.95 550.20,820.85 552.40,822.90 C554.60,824.95 555.97,824.77 557.50,828.00 C559.03,831.23 560.23,837.03 561.60,842.30 C562.97,847.57 564.33,854.50 565.70,859.60 C567.07,864.70 567.58,869.15 569.80,872.90 C572.02,876.65 576.10,877.83 579.00,882.10 C581.90,886.37 583.45,891.85 587.20,898.50 C590.95,905.15 597.75,917.00 601.50,922.00 C605.25,927.00 606.98,926.28 609.70,928.50 C612.42,930.72 615.77,934.07 617.80,935.30 C619.83,936.53 620.18,936.15 621.90,935.90 C623.62,935.65 626.40,933.73 628.10,933.80 C629.80,933.87 630.07,934.35 632.10,936.30 C634.13,938.25 637.57,944.32 640.30,945.50 C643.03,946.68 645.60,942.38 648.50,943.40 C651.40,944.42 655.65,950.23 657.70,951.60 C659.75,952.97 659.27,952.78 660.80,951.60 C662.33,950.42 665.03,945.68 666.90,944.50 C668.77,943.32 671.15,944.50 672.00,944.50" fill="none" stroke="#1a1a1a" stroke-width="1.0" stroke-linejoin="round" stroke-linecap="round" />
</svg>
</body></html>
